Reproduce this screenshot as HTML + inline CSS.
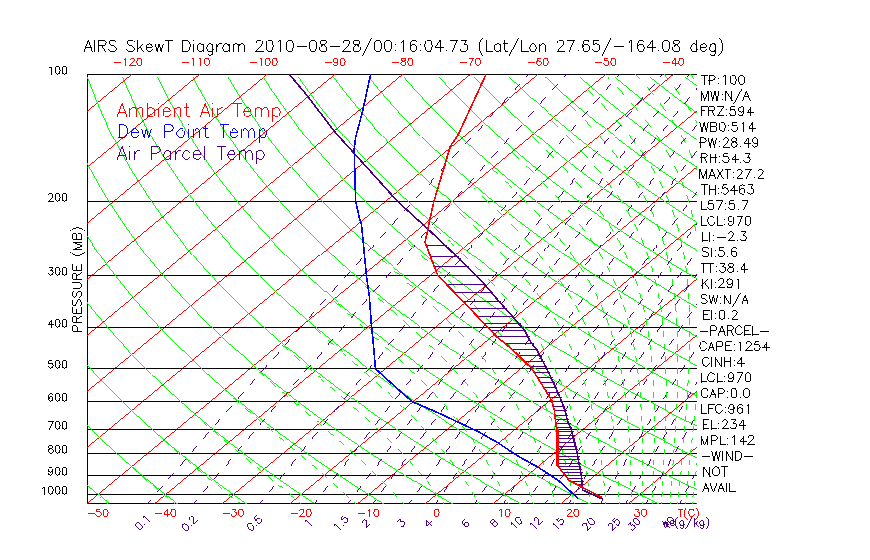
<!DOCTYPE html>
<html><head><meta charset="utf-8"><title>AIRS SkewT Diagram</title>
<style>html,body{margin:0;padding:0;background:#fff;}body{width:870px;height:560px;overflow:hidden;position:relative;font-family:"Liberation Sans",sans-serif;}</style>
</head><body>
<svg width="870" height="560" viewBox="0 0 870 560" style="position:absolute;left:0;top:0">
<defs><clipPath id="c"><rect x="87.0" y="74.0" width="610.0" height="430.0"/></clipPath></defs>
<rect width="870" height="560" fill="#fff"/>
<g clip-path="url(#c)" fill="none" stroke-width="0.99" shape-rendering="crispEdges">
<path d="M87.5 74.5 L697.0 74.5 M87.5 503.5 L697.0 503.5 M87.5 74.0 L87.5 504.0" stroke="#000"/>
<path d="M-456.8 505.4 L66.0 72.8 M-389.1 505.4 L133.7 72.8 M-321.4 505.4 L201.4 72.8 M-253.7 505.4 L269.1 72.8 M-186.0 505.4 L336.8 72.8 M-118.3 505.4 L404.5 72.8 M-50.6 505.4 L472.2 72.8 M17.1 505.4 L539.9 72.8 M84.8 505.4 L607.6 72.8 M152.5 505.4 L675.3 72.8 M220.2 505.4 L743.0 72.8 M287.9 505.4 L810.7 72.8 M355.6 505.4 L878.4 72.8 M423.3 505.4 L946.1 72.8 M491.0 505.4 L1013.8 72.8 M558.7 505.4 L1081.5 72.8 M626.4 505.4 L1149.2 72.8 M694.1 505.4 L1216.9 72.8" stroke="#ff0000"/>
<path d="M87.5 201.5 L697.0 201.5 M87.5 275.5 L697.0 275.5 M87.5 327.5 L697.0 327.5 M87.5 368.5 L697.0 368.5 M87.5 401.5 L697.0 401.5 M87.5 429.5 L697.0 429.5 M87.5 453.5 L697.0 453.5 M87.5 475.5 L697.0 475.5 M87.5 494.5 L697.0 494.5" stroke="#000"/>
<path d="M110.5 505.2 L96.5 493.3 L83.0 481.4 L70.0 469.5 L57.5 457.6 L45.5 445.7 L34.0 433.8 L23.0 421.9 L12.4 410.0 L2.4 398.1 L-7.3 386.2 L-16.5 374.3 L-25.2 362.4 L-33.6 350.5 L-41.5 338.6 L-49.0 326.7 L-56.1 314.9 L-62.8 303.0 L-69.1 291.1 L-75.0 279.2 L-80.5 267.3 L-85.7 255.4 L-90.5 243.5 L-95.0 231.6 L-99.1 219.7 L-102.9 207.8 L-106.3 195.9 L-109.4 184.0 L-112.2 172.1 L-114.7 160.2 L-116.9 148.3 L-118.7 136.4 L-120.3 124.5 L-121.5 112.7 L-122.5 100.8 L-123.2 88.9 L-123.6 77.0 M179.3 505.2 L164.0 493.3 L149.3 481.4 L135.1 469.5 L121.4 457.6 L108.2 445.7 L95.6 433.8 L83.4 421.9 L71.7 410.0 L60.5 398.1 L49.8 386.2 L39.6 374.3 L29.8 362.4 L20.4 350.5 L11.5 338.6 L3.1 326.7 L-5.0 314.9 L-12.6 303.0 L-19.9 291.1 L-26.7 279.2 L-33.1 267.3 L-39.2 255.4 L-44.9 243.5 L-50.2 231.6 L-55.1 219.7 L-59.7 207.8 L-64.0 195.9 L-67.9 184.0 L-71.4 172.1 L-74.6 160.2 L-77.5 148.3 L-80.1 136.4 L-82.4 124.5 L-84.3 112.7 L-86.0 100.8 L-87.3 88.9 L-88.4 77.0 M248.2 505.2 L231.6 493.3 L215.6 481.4 L200.2 469.5 L185.3 457.6 L170.9 445.7 L157.1 433.8 L143.8 421.9 L131.0 410.0 L118.7 398.1 L107.0 386.2 L95.6 374.3 L84.8 362.4 L74.5 350.5 L64.5 338.6 L55.1 326.7 L46.1 314.9 L37.5 303.0 L29.3 291.1 L21.6 279.2 L14.2 267.3 L7.3 255.4 L0.8 243.5 L-5.4 231.6 L-11.2 219.7 L-16.6 207.8 L-21.6 195.9 L-26.3 184.0 L-30.6 172.1 L-34.6 160.2 L-38.2 148.3 L-41.5 136.4 L-44.5 124.5 L-47.1 112.7 L-49.5 100.8 L-51.5 88.9 L-53.3 77.0 M317.0 505.2 L299.2 493.3 L281.9 481.4 L265.2 469.5 L249.2 457.6 L233.6 445.7 L218.7 433.8 L204.2 421.9 L190.3 410.0 L176.9 398.1 L164.1 386.2 L151.7 374.3 L139.8 362.4 L128.5 350.5 L117.6 338.6 L107.1 326.7 L97.1 314.9 L87.6 303.0 L78.5 291.1 L69.9 279.2 L61.6 267.3 L53.8 255.4 L46.4 243.5 L39.4 231.6 L32.8 219.7 L26.6 207.8 L20.8 195.9 L15.3 184.0 L10.2 172.1 L5.5 160.2 L1.1 148.3 L-2.9 136.4 L-6.6 124.5 L-10.0 112.7 L-13.0 100.8 L-15.7 88.9 L-18.1 77.0 M385.8 505.2 L366.7 493.3 L348.2 481.4 L330.3 469.5 L313.0 457.6 L296.3 445.7 L280.2 433.8 L264.6 421.9 L249.6 410.0 L235.1 398.1 L221.2 386.2 L207.8 374.3 L194.9 362.4 L182.5 350.5 L170.6 338.6 L159.1 326.7 L148.2 314.9 L137.7 303.0 L127.7 291.1 L118.2 279.2 L109.0 267.3 L100.4 255.4 L92.1 243.5 L84.2 231.6 L76.8 219.7 L69.8 207.8 L63.2 195.9 L56.9 184.0 L51.1 172.1 L45.6 160.2 L40.4 148.3 L35.7 136.4 L31.3 124.5 L27.2 112.7 L23.5 100.8 L20.1 88.9 L17.1 77.0 M454.7 505.2 L434.3 493.3 L414.5 481.4 L395.4 469.5 L376.9 457.6 L359.0 445.7 L341.7 433.8 L325.0 421.9 L308.9 410.0 L293.3 398.1 L278.3 386.2 L263.8 374.3 L249.9 362.4 L236.5 350.5 L223.6 338.6 L211.2 326.7 L199.3 314.9 L187.9 303.0 L176.9 291.1 L166.4 279.2 L156.4 267.3 L146.9 255.4 L137.7 243.5 L129.1 231.6 L120.8 219.7 L113.0 207.8 L105.5 195.9 L98.5 184.0 L91.9 172.1 L85.6 160.2 L79.8 148.3 L74.3 136.4 L69.2 124.5 L64.4 112.7 L60.0 100.8 L55.9 88.9 L52.2 77.0 M523.5 505.2 L501.9 493.3 L480.9 481.4 L460.5 469.5 L440.8 457.6 L421.7 445.7 L403.3 433.8 L385.4 421.9 L368.2 410.0 L351.5 398.1 L335.4 386.2 L319.9 374.3 L304.9 362.4 L290.5 350.5 L276.6 338.6 L263.2 326.7 L250.3 314.9 L238.0 303.0 L226.1 291.1 L214.7 279.2 L203.8 267.3 L193.4 255.4 L183.4 243.5 L173.9 231.6 L164.8 219.7 L156.1 207.8 L147.9 195.9 L140.1 184.0 L132.7 172.1 L125.7 160.2 L119.1 148.3 L112.9 136.4 L107.0 124.5 L101.6 112.7 L96.5 100.8 L91.8 88.9 L87.4 77.0 M592.4 505.2 L569.4 493.3 L547.2 481.4 L525.6 469.5 L504.7 457.6 L484.4 445.7 L464.8 433.8 L445.8 421.9 L427.5 410.0 L409.7 398.1 L392.5 386.2 L376.0 374.3 L359.9 362.4 L344.5 350.5 L329.6 338.6 L315.2 326.7 L301.4 314.9 L288.1 303.0 L275.3 291.1 L263.0 279.2 L251.2 267.3 L239.9 255.4 L229.1 243.5 L218.7 231.6 L208.8 219.7 L199.3 207.8 L190.3 195.9 L181.7 184.0 L173.5 172.1 L165.8 160.2 L158.4 148.3 L151.5 136.4 L144.9 124.5 L138.8 112.7 L133.0 100.8 L127.6 88.9 L122.5 77.0 M661.2 505.2 L637.0 493.3 L613.5 481.4 L590.7 469.5 L568.6 457.6 L547.2 445.7 L526.4 433.8 L506.3 421.9 L486.8 410.0 L467.9 398.1 L449.7 386.2 L432.0 374.3 L415.0 362.4 L398.5 350.5 L382.6 338.6 L367.3 326.7 L352.5 314.9 L338.2 303.0 L324.5 291.1 L311.3 279.2 L298.6 267.3 L286.4 255.4 L274.7 243.5 L263.5 231.6 L252.8 219.7 L242.5 207.8 L232.7 195.9 L223.3 184.0 L214.3 172.1 L205.8 160.2 L197.7 148.3 L190.1 136.4 L182.8 124.5 L176.0 112.7 L169.5 100.8 L163.4 88.9 L157.7 77.0 M730.0 505.2 L704.6 493.3 L679.8 481.4 L655.8 469.5 L632.5 457.6 L609.9 445.7 L587.9 433.8 L566.7 421.9 L546.1 410.0 L526.1 398.1 L506.8 386.2 L488.1 374.3 L470.0 362.4 L452.5 350.5 L435.6 338.6 L419.3 326.7 L403.5 314.9 L388.4 303.0 L373.7 291.1 L359.6 279.2 L346.0 267.3 L332.9 255.4 L320.4 243.5 L308.3 231.6 L296.7 219.7 L285.6 207.8 L275.0 195.9 L264.9 184.0 L255.2 172.1 L245.9 160.2 L237.1 148.3 L228.7 136.4 L220.7 124.5 L213.1 112.7 L206.0 100.8 L199.2 88.9 L192.9 77.0 M798.9 505.2 L772.1 493.3 L746.1 481.4 L720.9 469.5 L696.4 457.6 L672.6 445.7 L649.5 433.8 L627.1 421.9 L605.3 410.0 L584.3 398.1 L563.9 386.2 L544.1 374.3 L525.0 362.4 L506.5 350.5 L488.6 338.6 L471.3 326.7 L454.6 314.9 L438.5 303.0 L422.9 291.1 L407.9 279.2 L393.4 267.3 L379.5 255.4 L366.0 243.5 L353.1 231.6 L340.7 219.7 L328.8 207.8 L317.4 195.9 L306.5 184.0 L296.0 172.1 L286.0 160.2 L276.4 148.3 L267.3 136.4 L258.6 124.5 L250.3 112.7 L242.5 100.8 L235.0 88.9 L228.0 77.0 M867.7 505.2 L839.7 493.3 L812.4 481.4 L786.0 469.5 L760.2 457.6 L735.3 445.7 L711.0 433.8 L687.5 421.9 L664.6 410.0 L642.5 398.1 L621.0 386.2 L600.2 374.3 L580.0 362.4 L560.5 350.5 L541.6 338.6 L523.4 326.7 L505.7 314.9 L488.6 303.0 L472.1 291.1 L456.2 279.2 L440.8 267.3 L426.0 255.4 L411.7 243.5 L397.9 231.6 L384.7 219.7 L372.0 207.8 L359.8 195.9 L348.0 184.0 L336.8 172.1 L326.0 160.2 L315.7 148.3 L305.9 136.4 L296.5 124.5 L287.5 112.7 L279.0 100.8 L270.9 88.9 L263.2 77.0 M936.6 505.2 L907.2 493.3 L878.8 481.4 L851.1 469.5 L824.1 457.6 L798.0 445.7 L772.6 433.8 L747.9 421.9 L723.9 410.0 L700.7 398.1 L678.1 386.2 L656.3 374.3 L635.1 362.4 L614.5 350.5 L594.6 338.6 L575.4 326.7 L556.7 314.9 L538.7 303.0 L521.3 291.1 L504.5 279.2 L488.2 267.3 L472.5 255.4 L457.4 243.5 L442.8 231.6 L428.7 219.7 L415.2 207.8 L402.1 195.9 L389.6 184.0 L377.6 172.1 L366.1 160.2 L355.0 148.3 L344.5 136.4 L334.4 124.5 L324.7 112.7 L315.5 100.8 L306.7 88.9 L298.3 77.0 M1005.4 505.2 L974.8 493.3 L945.1 481.4 L916.1 469.5 L888.0 457.6 L860.7 445.7 L834.1 433.8 L808.3 421.9 L783.2 410.0 L758.9 398.1 L735.3 386.2 L712.3 374.3 L690.1 362.4 L668.5 350.5 L647.7 338.6 L627.4 326.7 L607.8 314.9 L588.8 303.0 L570.5 291.1 L552.7 279.2 L535.6 267.3 L519.0 255.4 L503.0 243.5 L487.6 231.6 L472.7 219.7 L458.3 207.8 L444.5 195.9 L431.2 184.0 L418.4 172.1 L406.2 160.2 L394.4 148.3 L383.1 136.4 L372.2 124.5 L361.9 112.7 L352.0 100.8 L342.5 88.9 L333.5 77.0 M1074.2 505.2 L1042.4 493.3 L1011.4 481.4 L981.2 469.5 L951.9 457.6 L923.4 445.7 L895.6 433.8 L868.7 421.9 L842.5 410.0 L817.1 398.1 L792.4 386.2 L768.4 374.3 L745.1 362.4 L722.6 350.5 L700.7 338.6 L679.4 326.7 L658.9 314.9 L639.0 303.0 L619.7 291.1 L601.0 279.2 L583.0 267.3 L565.5 255.4 L548.7 243.5 L532.4 231.6 L516.7 219.7 L501.5 207.8 L486.9 195.9 L472.8 184.0 L459.3 172.1 L446.2 160.2 L433.7 148.3 L421.7 136.4 L410.1 124.5 L399.1 112.7 L388.5 100.8 L378.3 88.9 L368.7 77.0 M1143.1 505.2 L1109.9 493.3 L1077.7 481.4 L1046.3 469.5 L1015.8 457.6 L986.1 445.7 L957.2 433.8 L929.1 421.9 L901.8 410.0 L875.3 398.1 L849.5 386.2 L824.5 374.3 L800.2 362.4 L776.6 350.5 L753.7 338.6 L731.5 326.7 L709.9 314.9 L689.1 303.0 L668.9 291.1 L649.3 279.2 L630.4 267.3 L612.0 255.4 L594.3 243.5 L577.2 231.6 L560.7 219.7 L544.7 207.8 L529.3 195.9 L514.4 184.0 L500.1 172.1 L486.3 160.2 L473.0 148.3 L460.3 136.4 L448.0 124.5 L436.2 112.7 L425.0 100.8 L414.2 88.9 L403.8 77.0 M1211.9 505.2 L1177.5 493.3 L1144.0 481.4 L1111.4 469.5 L1079.7 457.6 L1048.8 445.7 L1018.7 433.8 L989.5 421.9 L961.1 410.0 L933.5 398.1 L906.6 386.2 L880.5 374.3 L855.2 362.4 L830.6 350.5 L806.7 338.6 L783.5 326.7 L761.0 314.9 L739.2 303.0 L718.1 291.1 L697.6 279.2 L677.8 267.3 L658.6 255.4 L640.0 243.5 L622.0 231.6 L604.6 219.7 L587.9 207.8 L571.6 195.9 L556.0 184.0 L540.9 172.1 L526.4 160.2 L512.4 148.3 L498.9 136.4 L485.9 124.5 L473.4 112.7 L461.5 100.8 L450.0 88.9 L439.0 77.0 M1280.7 505.2 L1245.1 493.3 L1210.3 481.4 L1176.5 469.5 L1143.6 457.6 L1111.5 445.7 L1080.3 433.8 L1049.9 421.9 L1020.4 410.0 L991.7 398.1 L963.7 386.2 L936.6 374.3 L910.2 362.4 L884.6 350.5 L859.7 338.6 L835.5 326.7 L812.1 314.9 L789.3 303.0 L767.3 291.1 L745.9 279.2 L725.2 267.3 L705.1 255.4 L685.6 243.5 L666.8 231.6 L648.6 219.7 L631.0 207.8 L614.0 195.9 L597.6 184.0 L581.7 172.1 L566.4 160.2 L551.7 148.3 L537.5 136.4 L523.8 124.5 L510.6 112.7 L498.0 100.8 L485.8 88.9 L474.1 77.0 M1349.6 505.2 L1312.6 493.3 L1276.6 481.4 L1241.6 469.5 L1207.4 457.6 L1174.2 445.7 L1141.8 433.8 L1110.3 421.9 L1079.7 410.0 L1049.9 398.1 L1020.8 386.2 L992.6 374.3 L965.2 362.4 L938.6 350.5 L912.7 338.6 L887.6 326.7 L863.2 314.9 L839.5 303.0 L816.5 291.1 L794.2 279.2 L772.6 267.3 L751.6 255.4 L731.3 243.5 L711.6 231.6 L692.6 219.7 L674.2 207.8 L656.4 195.9 L639.2 184.0 L622.5 172.1 L606.5 160.2 L591.0 148.3 L576.1 136.4 L561.7 124.5 L547.8 112.7 L534.5 100.8 L521.6 88.9 L509.3 77.0 M1418.4 505.2 L1380.2 493.3 L1343.0 481.4 L1306.7 469.5 L1271.3 457.6 L1236.9 445.7 L1203.4 433.8 L1170.7 421.9 L1139.0 410.0 L1108.0 398.1 L1078.0 386.2 L1048.7 374.3 L1020.3 362.4 L992.6 350.5 L965.7 338.6 L939.6 326.7 L914.2 314.9 L889.6 303.0 L865.7 291.1 L842.5 279.2 L819.9 267.3 L798.1 255.4 L777.0 243.5 L756.5 231.6 L736.6 219.7 L717.4 207.8 L698.8 195.9 L680.8 184.0 L663.4 172.1 L646.6 160.2 L630.3 148.3 L614.7 136.4 L599.5 124.5 L585.0 112.7 L571.0 100.8 L557.4 88.9 L544.5 77.0 M1487.3 505.2 L1447.8 493.3 L1409.3 481.4 L1371.8 469.5 L1335.2 457.6 L1299.6 445.7 L1264.9 433.8 L1231.1 421.9 L1198.3 410.0 L1166.2 398.1 L1135.1 386.2 L1104.8 374.3 L1075.3 362.4 L1046.6 350.5 L1018.7 338.6 L991.6 326.7 L965.3 314.9 L939.7 303.0 L914.9 291.1 L890.7 279.2 L867.3 267.3 L844.6 255.4 L822.6 243.5 L801.3 231.6 L780.6 219.7 L760.5 207.8 L741.1 195.9 L722.4 184.0 L704.2 172.1 L686.6 160.2 L669.7 148.3 L653.3 136.4 L637.4 124.5 L622.2 112.7 L607.4 100.8 L593.3 88.9 L579.6 77.0 M1556.1 505.2 L1515.3 493.3 L1475.6 481.4 L1436.9 469.5 L1399.1 457.6 L1362.3 445.7 L1326.5 433.8 L1291.6 421.9 L1257.5 410.0 L1224.4 398.1 L1192.2 386.2 L1160.8 374.3 L1130.3 362.4 L1100.6 350.5 L1071.7 338.6 L1043.6 326.7 L1016.4 314.9 L989.8 303.0 L964.1 291.1 L939.0 279.2 L914.7 267.3 L891.2 255.4 L868.3 243.5 L846.1 231.6 L824.6 219.7 L803.7 207.8 L783.5 195.9 L763.9 184.0 L745.0 172.1 L726.7 160.2 L709.0 148.3 L691.9 136.4 L675.3 124.5 L659.4 112.7 L643.9 100.8 L629.1 88.9 L614.8 77.0 M1624.9 505.2 L1582.9 493.3 L1541.9 481.4 L1501.9 469.5 L1463.0 457.6 L1425.0 445.7 L1388.0 433.8 L1352.0 421.9 L1316.8 410.0 L1282.6 398.1 L1249.3 386.2 L1216.9 374.3 L1185.3 362.4 L1154.6 350.5 L1124.7 338.6 L1095.7 326.7 L1067.4 314.9 L1040.0 303.0 L1013.3 291.1 L987.3 279.2 L962.1 267.3 L937.7 255.4 L913.9 243.5 L890.9 231.6 L868.5 219.7 L846.9 207.8 L825.9 195.9 L805.5 184.0 L785.8 172.1 L766.8 160.2 L748.3 148.3 L730.5 136.4 L713.2 124.5 L696.5 112.7 L680.4 100.8 L664.9 88.9 L649.9 77.0 M1693.8 505.2 L1650.5 493.3 L1608.2 481.4 L1567.0 469.5 L1526.9 457.6 L1487.7 445.7 L1449.6 433.8 L1412.4 421.9 L1376.1 410.0 L1340.8 398.1 L1306.4 386.2 L1273.0 374.3 L1240.4 362.4 L1208.6 350.5 L1177.7 338.6 L1147.7 326.7 L1118.5 314.9 L1090.1 303.0 L1062.5 291.1 L1035.6 279.2 L1009.5 267.3 L984.2 255.4 L959.6 243.5 L935.7 231.6 L912.5 219.7 L890.1 207.8 L868.3 195.9 L847.1 184.0 L826.7 172.1 L806.8 160.2 L787.6 148.3 L769.1 136.4 L751.1 124.5 L733.7 112.7 L716.9 100.8 L700.7 88.9 L685.1 77.0 M1762.6 505.2 L1718.0 493.3 L1674.5 481.4 L1632.1 469.5 L1590.8 457.6 L1550.4 445.7 L1511.1 433.8 L1472.8 421.9 L1435.4 410.0 L1399.0 398.1 L1363.6 386.2 L1329.0 374.3 L1295.4 362.4 L1262.6 350.5 L1230.8 338.6 L1199.7 326.7 L1169.6 314.9 L1140.2 303.0 L1111.6 291.1 L1083.9 279.2 L1056.9 267.3 L1030.7 255.4 L1005.2 243.5 L980.5 231.6 L956.5 219.7 L933.2 207.8 L910.6 195.9 L888.7 184.0 L867.5 172.1 L846.9 160.2 L827.0 148.3 L807.7 136.4 L789.0 124.5 L770.9 112.7 L753.4 100.8 L736.6 88.9 L720.3 77.0 M1831.4 505.2 L1785.6 493.3 L1740.9 481.4 L1697.2 469.5 L1654.6 457.6 L1613.1 445.7 L1572.6 433.8 L1533.2 421.9 L1494.7 410.0 L1457.2 398.1 L1420.7 386.2 L1385.1 374.3 L1350.4 362.4 L1316.6 350.5 L1283.8 338.6 L1251.8 326.7 L1220.6 314.9 L1190.3 303.0 L1160.8 291.1 L1132.2 279.2 L1104.3 267.3 L1077.2 255.4 L1050.9 243.5 L1025.3 231.6 L1000.5 219.7 L976.4 207.8 L953.0 195.9 L930.3 184.0 L908.3 172.1 L887.0 160.2 L866.3 148.3 L846.2 136.4 L826.9 124.5 L808.1 112.7 L789.9 100.8 L772.4 88.9 L755.4 77.0" stroke="#00ff00"/>
<path d="M146.1 505.2 L148.6 502.2 L150.7 499.7 M157.1 492.3 L159.6 489.3 L162.2 486.3 M168.6 478.9 L171.1 475.9 L173.7 472.9 M180.1 465.5 L182.6 462.5 L185.2 459.6 L185.6 459.1 M191.6 452.1 L194.2 449.2 L196.7 446.2 L197.2 445.7 M203.1 438.7 L205.7 435.8 L208.3 432.8 L208.7 432.3 M214.7 425.4 L217.3 422.4 L219.9 419.4 L220.3 418.9 M226.4 412.0 L228.9 409.0 L231.5 406.0 L232.0 405.5 M238.0 398.6 L240.6 395.6 L243.2 392.7 L243.6 392.2 M249.7 385.2 L252.3 382.2 L254.9 379.3 L255.3 378.8 M261.4 371.8 L264.0 368.9 L266.6 365.9 L267.1 365.4 M273.1 358.5 L275.8 355.5 L278.4 352.5 L278.8 352.0 M284.9 345.1 L287.5 342.1 L290.2 339.1 L290.6 338.6 M296.7 331.7 L299.3 328.7 L302.0 325.8 L302.4 325.3 M308.5 318.3 L311.2 315.3 L313.8 312.4 L314.3 311.9 M320.4 304.9 L323.0 302.0 L325.7 299.0 L326.1 298.5 M332.3 291.6 L334.9 288.6 L337.6 285.6 L338.0 285.1 M344.2 278.2 L346.9 275.2 L349.5 272.2 L350.0 271.7 M356.1 264.8 L358.8 261.8 L361.5 258.9 L361.9 258.4 M368.1 251.4 L370.8 248.4 L373.4 245.5 L373.9 245.0 M380.1 238.0 L382.8 235.1 L385.5 232.1 L385.9 231.6 M392.1 224.7 L394.8 221.7 L397.5 218.7 L397.9 218.2 M404.2 211.3 L406.9 208.3 L409.5 205.3 L410.0 204.8 M416.3 197.9 L418.9 194.9 L421.6 191.9 L422.1 191.5 M428.4 184.5 L431.1 181.5 L433.7 178.6 L434.2 178.1 M440.5 171.1 L443.2 168.2 L445.9 165.2 L446.3 164.7 M452.6 157.8 L455.3 154.8 L458.1 151.8 L458.5 151.3 M465.3 143.9 L468.0 140.9 L470.7 137.9 M477.5 130.5 L480.2 127.5 L482.9 124.5 M489.7 117.1 L492.4 114.1 L495.2 111.2 L495.6 110.7 M502.0 103.7 L504.7 100.8 L507.4 97.8 L507.9 97.3 M514.2 90.4 L517.0 87.4 L519.7 84.4 L520.2 83.9 M526.5 77.0 L529.3 74.0 L530.2 73.0 M192.5 505.2 L195.0 502.2 L197.0 499.7 M203.2 492.3 L205.7 489.3 L208.1 486.3 M214.3 478.9 L216.8 475.9 L219.3 472.9 M225.5 465.5 L228.0 462.5 L230.5 459.6 L230.9 459.1 M236.7 452.1 L239.2 449.2 L241.7 446.2 L242.1 445.7 M248.0 438.7 L250.5 435.8 L253.0 432.8 L253.4 432.3 M259.3 425.4 L261.8 422.4 L264.3 419.4 L264.7 418.9 M270.6 412.0 L273.1 409.0 L275.6 406.0 L276.0 405.5 M281.9 398.6 L284.4 395.6 L287.0 392.7 L287.4 392.2 M293.3 385.2 L295.8 382.2 L298.4 379.3 L298.8 378.8 M304.7 371.8 L307.3 368.9 L309.8 365.9 L310.2 365.4 M316.2 358.5 L318.7 355.5 L321.3 352.5 L321.7 352.0 M327.6 345.1 L330.2 342.1 L332.8 339.1 L333.2 338.6 M339.2 331.7 L341.7 328.7 L344.3 325.8 L344.7 325.3 M350.7 318.3 L353.3 315.3 L355.8 312.4 L356.3 311.9 M362.3 304.9 L364.9 302.0 L367.4 299.0 L367.9 298.5 M373.9 291.6 L376.5 288.6 L379.1 285.6 L379.5 285.1 M385.5 278.2 L388.1 275.2 L390.7 272.2 L391.1 271.7 M397.2 264.8 L399.8 261.8 L402.4 258.9 L402.8 258.4 M408.9 251.4 L411.5 248.4 L414.1 245.5 L414.5 245.0 M420.6 238.0 L423.2 235.1 L425.8 232.1 L426.3 231.6 M432.4 224.7 L435.0 221.7 L437.6 218.7 L438.1 218.2 M444.2 211.3 L446.8 208.3 L449.4 205.3 L449.9 204.8 M456.0 197.9 L458.6 194.9 L461.2 191.9 L461.7 191.5 M467.8 184.5 L470.5 181.5 L473.1 178.6 L473.5 178.1 M479.7 171.1 L482.3 168.2 L485.0 165.2 L485.4 164.7 M491.6 157.8 L494.3 154.8 L496.9 151.8 L497.3 151.3 M504.0 143.9 L506.6 140.9 L509.3 137.9 M515.9 130.5 L518.6 127.5 L521.3 124.5 M527.9 117.1 L530.6 114.1 L533.3 111.2 L533.7 110.7 M539.9 103.7 L542.6 100.8 L545.3 97.8 L545.7 97.3 M552.0 90.4 L554.7 87.4 L557.3 84.4 L557.8 83.9 M564.0 77.0 L566.7 74.0 L567.6 73.0 M258.8 505.2 L261.2 502.2 L263.2 499.7 M269.1 492.3 L271.4 489.3 L273.8 486.3 M279.7 478.9 L282.1 475.9 L284.5 472.9 M290.4 465.5 L292.8 462.5 L295.2 459.6 L295.6 459.1 M301.2 452.1 L303.6 449.2 L306.0 446.2 L306.4 445.7 M312.0 438.7 L314.4 435.8 L316.8 432.8 L317.2 432.3 M322.8 425.4 L325.2 422.4 L327.6 419.4 L328.0 418.9 M333.7 412.0 L336.1 409.0 L338.5 406.0 L338.9 405.5 M344.6 398.6 L347.0 395.6 L349.4 392.7 L349.8 392.2 M355.5 385.2 L357.9 382.2 L360.4 379.3 L360.8 378.8 M366.5 371.8 L368.9 368.9 L371.4 365.9 L371.8 365.4 M377.5 358.5 L379.9 355.5 L382.4 352.5 L382.8 352.0 M388.5 345.1 L391.0 342.1 L393.5 339.1 L393.9 338.6 M399.6 331.7 L402.1 328.7 L404.6 325.8 L405.0 325.3 M410.8 318.3 L413.2 315.3 L415.7 312.4 L416.1 311.9 M421.9 304.9 L424.4 302.0 L426.9 299.0 L427.3 298.5 M433.1 291.6 L435.6 288.6 L438.1 285.6 L438.5 285.1 M444.3 278.2 L446.8 275.2 L449.4 272.2 L449.8 271.7 M455.6 264.8 L458.1 261.8 L460.6 258.9 L461.1 258.4 M466.9 251.4 L469.4 248.4 L471.9 245.5 L472.4 245.0 M478.2 238.0 L480.8 235.1 L483.3 232.1 L483.7 231.6 M489.6 224.7 L492.1 221.7 L494.7 218.7 L495.1 218.2 M501.0 211.3 L503.6 208.3 L506.1 205.3 L506.5 204.8 M512.5 197.9 L515.0 194.9 L517.5 191.9 L518.0 191.5 M523.9 184.5 L526.5 181.5 L529.0 178.6 L529.4 178.1 M535.4 171.1 L538.0 168.2 L540.5 165.2 L541.0 164.7 M546.9 157.8 L549.5 154.8 L552.1 151.8 L552.5 151.3 M558.9 143.9 L561.5 140.9 L564.1 137.9 M570.5 130.5 L573.1 127.5 L575.7 124.5 M582.2 117.1 L584.7 114.1 L587.3 111.2 L587.8 110.7 M593.8 103.7 L596.4 100.8 L599.0 97.8 L599.4 97.3 M605.5 90.4 L608.1 87.4 L610.7 84.4 L611.1 83.9 M617.2 77.0 L619.8 74.0 L620.7 73.0 M313.2 505.2 L315.5 502.2 L317.4 499.7 M323.1 492.3 L325.3 489.3 L327.6 486.3 M333.3 478.9 L335.6 475.9 L337.9 472.9 M343.6 465.5 L345.9 462.5 L348.2 459.6 L348.6 459.1 M354.0 452.1 L356.3 449.2 L358.6 446.2 L359.0 445.7 M364.4 438.7 L366.7 435.8 L369.0 432.8 L369.4 432.3 M374.8 425.4 L377.1 422.4 L379.5 419.4 L379.8 418.9 M385.3 412.0 L387.6 409.0 L390.0 406.0 L390.3 405.5 M395.8 398.6 L398.2 395.6 L400.5 392.7 L400.9 392.2 M406.4 385.2 L408.7 382.2 L411.1 379.3 L411.5 378.8 M417.0 371.8 L419.3 368.9 L421.7 365.9 L422.1 365.4 M427.6 358.5 L430.0 355.5 L432.4 352.5 L432.8 352.0 M438.3 345.1 L440.7 342.1 L443.1 339.1 L443.5 338.6 M449.0 331.7 L451.4 328.7 L453.8 325.8 L454.2 325.3 M459.8 318.3 L462.2 315.3 L464.6 312.4 L465.0 311.9 M470.6 304.9 L473.0 302.0 L475.4 299.0 L475.8 298.5 M481.5 291.6 L483.9 288.6 L486.3 285.6 L486.7 285.1 M492.4 278.2 L494.8 275.2 L497.2 272.2 L497.6 271.7 M503.3 264.8 L505.7 261.8 L508.1 258.9 L508.6 258.4 M514.2 251.4 L516.7 248.4 L519.1 245.5 L519.5 245.0 M525.2 238.0 L527.7 235.1 L530.1 232.1 L530.6 231.6 M536.3 224.7 L538.7 221.7 L541.2 218.7 L541.6 218.2 M547.4 211.3 L549.8 208.3 L552.3 205.3 L552.7 204.8 M558.5 197.9 L560.9 194.9 L563.4 191.9 L563.8 191.5 M569.6 184.5 L572.1 181.5 L574.6 178.6 L575.0 178.1 M580.8 171.1 L583.3 168.2 L585.8 165.2 L586.2 164.7 M592.0 157.8 L594.5 154.8 L597.0 151.8 L597.4 151.3 M603.7 143.9 L606.2 140.9 L608.7 137.9 M615.0 130.5 L617.5 127.5 L620.0 124.5 M626.3 117.1 L628.8 114.1 L631.3 111.2 L631.7 110.7 M637.6 103.7 L640.2 100.8 L642.7 97.8 L643.1 97.3 M649.0 90.4 L651.6 87.4 L654.1 84.4 L654.5 83.9 M660.4 77.0 L663.0 74.0 L663.8 73.0 M346.9 505.2 L349.1 502.2 L351.0 499.7 M356.5 492.3 L358.7 489.3 L360.9 486.3 M366.5 478.9 L368.7 475.9 L371.0 472.9 M376.5 465.5 L378.8 462.5 L381.0 459.6 L381.4 459.1 M386.6 452.1 L388.9 449.2 L391.1 446.2 L391.5 445.7 M396.8 438.7 L399.0 435.8 L401.3 432.8 L401.7 432.3 M407.0 425.4 L409.2 422.4 L411.5 419.4 L411.9 418.9 M417.2 412.0 L419.5 409.0 L421.8 406.0 L422.1 405.5 M427.5 398.6 L429.8 395.6 L432.1 392.7 L432.4 392.2 M437.8 385.2 L440.1 382.2 L442.4 379.3 L442.8 378.8 M448.2 371.8 L450.5 368.9 L452.8 365.9 L453.2 365.4 M458.6 358.5 L460.9 355.5 L463.2 352.5 L463.6 352.0 M469.0 345.1 L471.4 342.1 L473.7 339.1 L474.1 338.6 M479.6 331.7 L481.9 328.7 L484.2 325.8 L484.6 325.3 M490.1 318.3 L492.4 315.3 L494.8 312.4 L495.2 311.9 M500.7 304.9 L503.0 302.0 L505.4 299.0 L505.8 298.5 M511.3 291.6 L513.7 288.6 L516.0 285.6 L516.4 285.1 M522.0 278.2 L524.3 275.2 L526.7 272.2 L527.1 271.7 M532.7 264.8 L535.1 261.8 L537.5 258.9 L537.9 258.4 M543.4 251.4 L545.8 248.4 L548.2 245.5 L548.6 245.0 M554.2 238.0 L556.6 235.1 L559.0 232.1 L559.4 231.6 M565.0 224.7 L567.5 221.7 L569.9 218.7 L570.3 218.2 M575.9 211.3 L578.3 208.3 L580.8 205.3 L581.2 204.8 M586.8 197.9 L589.2 194.9 L591.7 191.9 L592.1 191.5 M597.8 184.5 L600.2 181.5 L602.6 178.6 L603.0 178.1 M608.7 171.1 L611.2 168.2 L613.6 165.2 L614.0 164.7 M619.8 157.8 L622.2 154.8 L624.7 151.8 L625.1 151.3 M631.2 143.9 L633.7 140.9 L636.1 137.9 M642.3 130.5 L644.8 127.5 L647.3 124.5 M653.4 117.1 L655.9 114.1 L658.4 111.2 L658.8 110.7 M664.6 103.7 L667.1 100.8 L669.6 97.8 L670.0 97.3 M675.8 90.4 L678.3 87.4 L680.8 84.4 L681.2 83.9 M687.0 77.0 L689.5 74.0 L690.4 73.0 M371.7 505.2 L373.9 502.2 L375.7 499.7 M381.1 492.3 L383.3 489.3 L385.4 486.3 M390.9 478.9 L393.1 475.9 L395.3 472.9 M400.8 465.5 L402.9 462.5 L405.1 459.6 L405.5 459.1 M410.7 452.1 L412.9 449.2 L415.1 446.2 L415.4 445.7 M420.6 438.7 L422.8 435.8 L425.0 432.8 L425.4 432.3 M430.6 425.4 L432.8 422.4 L435.1 419.4 L435.4 418.9 M440.7 412.0 L442.9 409.0 L445.1 406.0 L445.5 405.5 M450.8 398.6 L453.0 395.6 L455.3 392.7 L455.6 392.2 M460.9 385.2 L463.2 382.2 L465.4 379.3 L465.8 378.8 M471.1 371.8 L473.4 368.9 L475.6 365.9 L476.0 365.4 M481.3 358.5 L483.6 355.5 L485.9 352.5 L486.3 352.0 M491.6 345.1 L493.9 342.1 L496.2 339.1 L496.6 338.6 M502.0 331.7 L504.3 328.7 L506.6 325.8 L506.9 325.3 M512.3 318.3 L514.6 315.3 L517.0 312.4 L517.3 311.9 M522.7 304.9 L525.1 302.0 L527.4 299.0 L527.8 298.5 M533.2 291.6 L535.5 288.6 L537.9 285.6 L538.3 285.1 M543.7 278.2 L546.1 275.2 L548.4 272.2 L548.8 271.7 M554.3 264.8 L556.6 261.8 L559.0 258.9 L559.4 258.4 M564.8 251.4 L567.2 248.4 L569.6 245.5 L570.0 245.0 M575.5 238.0 L577.8 235.1 L580.2 232.1 L580.6 231.6 M586.1 224.7 L588.5 221.7 L590.9 218.7 L591.3 218.2 M596.9 211.3 L599.2 208.3 L601.6 205.3 L602.0 204.8 M607.6 197.9 L610.0 194.9 L612.4 191.9 L612.8 191.5 M618.4 184.5 L620.8 181.5 L623.2 178.6 L623.6 178.1 M629.2 171.1 L631.6 168.2 L634.1 165.2 L634.5 164.7 M640.1 157.8 L642.5 154.8 L644.9 151.8 L645.4 151.3 M651.4 143.9 L653.8 140.9 L656.3 137.9 M662.4 130.5 L664.8 127.5 L667.2 124.5 M673.4 117.1 L675.8 114.1 L678.2 111.2 L678.7 110.7 M684.4 103.7 L686.8 100.8 L689.3 97.8 L689.7 97.3 M695.4 90.4 L697.9 87.4 L700.4 84.4 L700.8 83.9 M706.5 77.0 L709.0 74.0 L709.8 73.0 M407.9 505.2 L410.0 502.2 L411.8 499.7 M417.0 492.3 L419.2 489.3 L421.3 486.3 M426.6 478.9 L428.7 475.9 L430.8 472.9 M436.1 465.5 L438.3 462.5 L440.4 459.6 L440.8 459.1 M445.8 452.1 L447.9 449.2 L450.0 446.2 L450.4 445.7 M455.4 438.7 L457.6 435.8 L459.7 432.8 L460.1 432.3 M465.2 425.4 L467.3 422.4 L469.5 419.4 L469.9 418.9 M474.9 412.0 L477.1 409.0 L479.3 406.0 L479.7 405.5 M484.8 398.6 L487.0 395.6 L489.1 392.7 L489.5 392.2 M494.6 385.2 L496.8 382.2 L499.1 379.3 L499.4 378.8 M504.6 371.8 L506.8 368.9 L509.0 365.9 L509.4 365.4 M514.6 358.5 L516.8 355.5 L519.0 352.5 L519.4 352.0 M524.6 345.1 L526.8 342.1 L529.1 339.1 L529.4 338.6 M534.7 331.7 L536.9 328.7 L539.1 325.8 L539.5 325.3 M544.8 318.3 L547.0 315.3 L549.3 312.4 L549.7 311.9 M554.9 304.9 L557.2 302.0 L559.5 299.0 L559.9 298.5 M565.2 291.6 L567.4 288.6 L569.7 285.6 L570.1 285.1 M575.4 278.2 L577.7 275.2 L580.0 272.2 L580.4 271.7 M585.7 264.8 L588.0 261.8 L590.3 258.9 L590.7 258.4 M596.1 251.4 L598.4 248.4 L600.7 245.5 L601.1 245.0 M606.5 238.0 L608.8 235.1 L611.1 232.1 L611.5 231.6 M616.9 224.7 L619.2 221.7 L621.6 218.7 L622.0 218.2 M627.4 211.3 L629.7 208.3 L632.1 205.3 L632.5 204.8 M637.9 197.9 L640.3 194.9 L642.6 191.9 L643.0 191.5 M648.5 184.5 L650.8 181.5 L653.2 178.6 L653.6 178.1 M659.1 171.1 L661.5 168.2 L663.8 165.2 L664.2 164.7 M669.8 157.8 L672.1 154.8 L674.5 151.8 L674.9 151.3 M680.8 143.9 L683.2 140.9 L685.6 137.9 M691.6 130.5 L694.0 127.5 L696.4 124.5 M702.3 117.1 L704.7 114.1 L707.2 111.2 L707.6 110.7 M713.2 103.7 L715.6 100.8 L718.0 97.8 L718.4 97.3 M724.0 90.4 L726.4 87.4 L728.8 84.4 L729.3 83.9 M734.9 77.0 L737.3 74.0 L738.1 73.0 M434.6 505.2 L436.7 502.2 L438.4 499.7 M443.5 492.3 L445.6 489.3 L447.6 486.3 M452.8 478.9 L454.9 475.9 L457.0 472.9 M462.2 465.5 L464.3 462.5 L466.3 459.6 L466.7 459.1 M471.6 452.1 L473.7 449.2 L475.8 446.2 L476.1 445.7 M481.0 438.7 L483.2 435.8 L485.3 432.8 L485.6 432.3 M490.6 425.4 L492.7 422.4 L494.8 419.4 L495.2 418.9 M500.1 412.0 L502.3 409.0 L504.4 406.0 L504.8 405.5 M509.8 398.6 L511.9 395.6 L514.1 392.7 L514.4 392.2 M519.4 385.2 L521.6 382.2 L523.8 379.3 L524.1 378.8 M529.2 371.8 L531.3 368.9 L533.5 365.9 L533.9 365.4 M539.0 358.5 L541.1 355.5 L543.3 352.5 L543.7 352.0 M548.8 345.1 L551.0 342.1 L553.2 339.1 L553.5 338.6 M558.7 331.7 L560.9 328.7 L563.1 325.8 L563.5 325.3 M568.6 318.3 L570.8 315.3 L573.0 312.4 L573.4 311.9 M578.6 304.9 L580.8 302.0 L583.1 299.0 L583.4 298.5 M588.6 291.6 L590.9 288.6 L593.1 285.6 L593.5 285.1 M598.7 278.2 L601.0 275.2 L603.2 272.2 L603.6 271.7 M608.8 264.8 L611.1 261.8 L613.4 258.9 L613.7 258.4 M619.0 251.4 L621.3 248.4 L623.5 245.5 L623.9 245.0 M629.2 238.0 L631.5 235.1 L633.8 232.1 L634.2 231.6 M639.5 224.7 L641.8 221.7 L644.1 218.7 L644.5 218.2 M649.8 211.3 L652.1 208.3 L654.4 205.3 L654.8 204.8 M660.2 197.9 L662.5 194.9 L664.8 191.9 L665.2 191.5 M670.6 184.5 L672.9 181.5 L675.2 178.6 L675.6 178.1 M681.0 171.1 L683.3 168.2 L685.7 165.2 L686.1 164.7 M691.5 157.8 L693.8 154.8 L696.2 151.8 L696.6 151.3 M702.4 143.9 L704.8 140.9 L707.1 137.9 M713.0 130.5 L715.3 127.5 L717.7 124.5 M723.6 117.1 L726.0 114.1 L728.3 111.2 L728.7 110.7 M734.3 103.7 L736.6 100.8 L739.0 97.8 L739.4 97.3 M745.0 90.4 L747.3 87.4 L749.7 84.4 L750.1 83.9 M755.7 77.0 L758.1 74.0 L758.9 73.0 M473.6 505.2 L475.6 502.2 L477.3 499.7 M482.2 492.3 L484.2 489.3 L486.2 486.3 M491.2 478.9 L493.2 475.9 L495.2 472.9 M500.2 465.5 L502.2 462.5 L504.3 459.6 L504.6 459.1 M509.3 452.1 L511.3 449.2 L513.4 446.2 L513.7 445.7 M518.5 438.7 L520.5 435.8 L522.6 432.8 L522.9 432.3 M527.7 425.4 L529.7 422.4 L531.8 419.4 L532.1 418.9 M537.0 412.0 L539.0 409.0 L541.1 406.0 L541.4 405.5 M546.3 398.6 L548.4 395.6 L550.4 392.7 L550.8 392.2 M555.7 385.2 L557.8 382.2 L559.9 379.3 L560.2 378.8 M565.1 371.8 L567.2 368.9 L569.3 365.9 L569.7 365.4 M574.6 358.5 L576.7 355.5 L578.8 352.5 L579.2 352.0 M584.1 345.1 L586.3 342.1 L588.4 339.1 L588.8 338.6 M593.7 331.7 L595.9 328.7 L598.0 325.8 L598.4 325.3 M603.4 318.3 L605.6 315.3 L607.7 312.4 L608.1 311.9 M613.1 304.9 L615.3 302.0 L617.4 299.0 L617.8 298.5 M622.9 291.6 L625.0 288.6 L627.2 285.6 L627.6 285.1 M632.7 278.2 L634.9 275.2 L637.1 272.2 L637.4 271.7 M642.5 264.8 L644.7 261.8 L646.9 258.9 L647.3 258.4 M652.5 251.4 L654.7 248.4 L656.9 245.5 L657.2 245.0 M662.4 238.0 L664.6 235.1 L666.9 232.1 L667.2 231.6 M672.4 224.7 L674.7 221.7 L676.9 218.7 L677.3 218.2 M682.5 211.3 L684.7 208.3 L687.0 205.3 L687.3 204.8 M692.6 197.9 L694.8 194.9 L697.1 191.9 L697.5 191.5 M702.7 184.5 L705.0 181.5 L707.3 178.6 L707.6 178.1 M712.9 171.1 L715.2 168.2 L717.5 165.2 L717.9 164.7 M723.2 157.8 L725.5 154.8 L727.7 151.8 L728.1 151.3 M733.9 143.9 L736.1 140.9 L738.4 137.9 M744.2 130.5 L746.5 127.5 L748.8 124.5 M754.6 117.1 L756.9 114.1 L759.2 111.2 L759.6 110.7 M765.0 103.7 L767.3 100.8 L769.6 97.8 L770.0 97.3 M775.5 90.4 L777.8 87.4 L780.1 84.4 L780.5 83.9 M786.0 77.0 L788.3 74.0 L789.1 73.0 M502.3 505.2 L504.3 502.2 L505.9 499.7 M510.7 492.3 L512.6 489.3 L514.6 486.3 M519.4 478.9 L521.4 475.9 L523.3 472.9 M528.2 465.5 L530.2 462.5 L532.1 459.6 L532.5 459.1 M537.1 452.1 L539.1 449.2 L541.0 446.2 L541.4 445.7 M546.0 438.7 L548.0 435.8 L550.0 432.8 L550.3 432.3 M555.0 425.4 L557.0 422.4 L559.0 419.4 L559.3 418.9 M564.0 412.0 L566.0 409.0 L568.1 406.0 L568.4 405.5 M573.1 398.6 L575.2 395.6 L577.2 392.7 L577.5 392.2 M582.3 385.2 L584.3 382.2 L586.4 379.3 L586.7 378.8 M591.5 371.8 L593.6 368.9 L595.6 365.9 L596.0 365.4 M600.8 358.5 L602.8 355.5 L604.9 352.5 L605.3 352.0 M610.1 345.1 L612.2 342.1 L614.3 339.1 L614.6 338.6 M619.5 331.7 L621.6 328.7 L623.7 325.8 L624.0 325.3 M629.0 318.3 L631.1 315.3 L633.2 312.4 L633.5 311.9 M638.5 304.9 L640.6 302.0 L642.7 299.0 L643.0 298.5 M648.0 291.6 L650.1 288.6 L652.3 285.6 L652.6 285.1 M657.6 278.2 L659.8 275.2 L661.9 272.2 L662.3 271.7 M667.3 264.8 L669.4 261.8 L671.6 258.9 L671.9 258.4 M677.0 251.4 L679.2 248.4 L681.3 245.5 L681.7 245.0 M686.8 238.0 L688.9 235.1 L691.1 232.1 L691.5 231.6 M696.6 224.7 L698.8 221.7 L701.0 218.7 L701.3 218.2 M706.4 211.3 L708.6 208.3 L710.8 205.3 L711.2 204.8 M716.4 197.9 L718.6 194.9 L720.8 191.9 L721.2 191.5 M726.3 184.5 L728.5 181.5 L730.8 178.6 L731.1 178.1 M736.3 171.1 L738.6 168.2 L740.8 165.2 L741.2 164.7 M746.4 157.8 L748.6 154.8 L750.9 151.8 L751.3 151.3 M756.9 143.9 L759.1 140.9 L761.4 137.9 M767.0 130.5 L769.3 127.5 L771.6 124.5 M777.3 117.1 L779.5 114.1 L781.8 111.2 L782.2 110.7 M787.5 103.7 L789.8 100.8 L792.1 97.8 L792.5 97.3 M797.8 90.4 L800.1 87.4 L802.4 84.4 L802.8 83.9 M808.1 77.0 L810.4 74.0 L811.2 73.0 M525.2 505.2 L527.1 502.2 L528.7 499.7 M533.4 492.3 L535.3 489.3 L537.2 486.3 M541.9 478.9 L543.8 475.9 L545.7 472.9 M550.5 465.5 L552.4 462.5 L554.4 459.6 L554.7 459.1 M559.2 452.1 L561.1 449.2 L563.1 446.2 L563.4 445.7 M567.9 438.7 L569.9 435.8 L571.8 432.8 L572.1 432.3 M576.7 425.4 L578.7 422.4 L580.6 419.4 L581.0 418.9 M585.6 412.0 L587.5 409.0 L589.5 406.0 L589.8 405.5 M594.5 398.6 L596.5 395.6 L598.5 392.7 L598.8 392.2 M603.5 385.2 L605.5 382.2 L607.5 379.3 L607.8 378.8 M612.5 371.8 L614.5 368.9 L616.5 365.9 L616.9 365.4 M621.6 358.5 L623.6 355.5 L625.7 352.5 L626.0 352.0 M630.8 345.1 L632.8 342.1 L634.9 339.1 L635.2 338.6 M640.0 331.7 L642.0 328.7 L644.1 325.8 L644.4 325.3 M649.3 318.3 L651.3 315.3 L653.4 312.4 L653.8 311.9 M658.6 304.9 L660.7 302.0 L662.8 299.0 L663.1 298.5 M668.0 291.6 L670.1 288.6 L672.2 285.6 L672.5 285.1 M677.4 278.2 L679.5 275.2 L681.7 272.2 L682.0 271.7 M686.9 264.8 L689.1 261.8 L691.2 258.9 L691.5 258.4 M696.5 251.4 L698.6 248.4 L700.8 245.5 L701.1 245.0 M706.1 238.0 L708.2 235.1 L710.4 232.1 L710.7 231.6 M715.8 224.7 L717.9 221.7 L720.1 218.7 L720.4 218.2 M725.5 211.3 L727.6 208.3 L729.8 205.3 L730.2 204.8 M735.2 197.9 L737.4 194.9 L739.6 191.9 L740.0 191.5 M745.1 184.5 L747.3 181.5 L749.4 178.6 L749.8 178.1 M754.9 171.1 L757.1 168.2 L759.3 165.2 L759.7 164.7 M764.8 157.8 L767.1 154.8 L769.3 151.8 L769.6 151.3 M775.2 143.9 L777.4 140.9 L779.6 137.9 M785.2 130.5 L787.4 127.5 L789.7 124.5 M795.3 117.1 L797.5 114.1 L799.8 111.2 L800.1 110.7 M805.4 103.7 L807.6 100.8 L809.9 97.8 L810.3 97.3 M815.5 90.4 L817.8 87.4 L820.1 84.4 L820.4 83.9 M825.7 77.0 L828.0 74.0 L828.8 73.0 M544.3 505.2 L546.1 502.2 L547.7 499.7 M552.3 492.3 L554.2 489.3 L556.0 486.3 M560.7 478.9 L562.5 475.9 L564.4 472.9 M569.1 465.5 L571.0 462.5 L572.9 459.6 L573.2 459.1 M577.6 452.1 L579.5 449.2 L581.4 446.2 L581.7 445.7 M586.2 438.7 L588.1 435.8 L590.0 432.8 L590.3 432.3 M594.8 425.4 L596.7 422.4 L598.7 419.4 L599.0 418.9 M603.5 412.0 L605.5 409.0 L607.4 406.0 L607.7 405.5 M612.3 398.6 L614.2 395.6 L616.2 392.7 L616.5 392.2 M621.1 385.2 L623.1 382.2 L625.1 379.3 L625.4 378.8 M630.0 371.8 L632.0 368.9 L634.0 365.9 L634.3 365.4 M639.0 358.5 L641.0 355.5 L643.0 352.5 L643.3 352.0 M648.0 345.1 L650.0 342.1 L652.0 339.1 L652.3 338.6 M657.1 331.7 L659.1 328.7 L661.1 325.8 L661.4 325.3 M666.2 318.3 L668.2 315.3 L670.3 312.4 L670.6 311.9 M675.4 304.9 L677.4 302.0 L679.5 299.0 L679.8 298.5 M684.6 291.6 L686.7 288.6 L688.8 285.6 L689.1 285.1 M693.9 278.2 L696.0 275.2 L698.1 272.2 L698.4 271.7 M703.3 264.8 L705.4 261.8 L707.5 258.9 L707.8 258.4 M712.7 251.4 L714.8 248.4 L716.9 245.5 L717.3 245.0 M722.2 238.0 L724.3 235.1 L726.4 232.1 L726.8 231.6 M731.7 224.7 L733.9 221.7 L736.0 218.7 L736.4 218.2 M741.3 211.3 L743.5 208.3 L745.6 205.3 L746.0 204.8 M751.0 197.9 L753.1 194.9 L755.3 191.9 L755.6 191.5 M760.7 184.5 L762.8 181.5 L765.0 178.6 L765.3 178.1 M770.4 171.1 L772.6 168.2 L774.7 165.2 L775.1 164.7 M780.2 157.8 L782.4 154.8 L784.6 151.8 L784.9 151.3 M790.4 143.9 L792.6 140.9 L794.8 137.9 M800.3 130.5 L802.5 127.5 L804.7 124.5 M810.3 117.1 L812.5 114.1 L814.7 111.2 L815.1 110.7 M820.2 103.7 L822.5 100.8 L824.7 97.8 L825.1 97.3 M830.3 90.4 L832.5 87.4 L834.8 84.4 L835.1 83.9 M840.4 77.0 L842.6 74.0 L843.4 73.0 M568.1 505.2 L569.9 502.2 L571.4 499.7 M575.9 492.3 L577.7 489.3 L579.5 486.3 M584.1 478.9 L585.9 475.9 L587.7 472.9 M592.3 465.5 L594.2 462.5 L596.0 459.6 L596.3 459.1 M600.6 452.1 L602.5 449.2 L604.3 446.2 L604.6 445.7 M609.0 438.7 L610.9 435.8 L612.7 432.8 L613.0 432.3 M617.4 425.4 L619.3 422.4 L621.2 419.4 L621.5 418.9 M625.9 412.0 L627.8 409.0 L629.7 406.0 L630.1 405.5 M634.5 398.6 L636.4 395.6 L638.3 392.7 L638.7 392.2 M643.1 385.2 L645.1 382.2 L647.0 379.3 L647.3 378.8 M651.8 371.8 L653.8 368.9 L655.7 365.9 L656.1 365.4 M660.6 358.5 L662.6 355.5 L664.5 352.5 L664.9 352.0 M669.4 345.1 L671.4 342.1 L673.4 339.1 L673.7 338.6 M678.3 331.7 L680.3 328.7 L682.3 325.8 L682.6 325.3 M687.3 318.3 L689.3 315.3 L691.3 312.4 L691.6 311.9 M696.3 304.9 L698.3 302.0 L700.3 299.0 L700.7 298.5 M705.4 291.6 L707.4 288.6 L709.4 285.6 L709.8 285.1 M714.5 278.2 L716.6 275.2 L718.6 272.2 L718.9 271.7 M723.7 264.8 L725.8 261.8 L727.8 258.9 L728.2 258.4 M733.0 251.4 L735.0 248.4 L737.1 245.5 L737.5 245.0 M742.3 238.0 L744.4 235.1 L746.4 232.1 L746.8 231.6 M751.7 224.7 L753.7 221.7 L755.8 218.7 L756.2 218.2 M761.1 211.3 L763.2 208.3 L765.3 205.3 L765.6 204.8 M770.6 197.9 L772.7 194.9 L774.8 191.9 L775.1 191.5 M780.1 184.5 L782.2 181.5 L784.3 178.6 L784.7 178.1 M789.7 171.1 L791.8 168.2 L794.0 165.2 L794.3 164.7 M799.3 157.8 L801.5 154.8 L803.6 151.8 L804.0 151.3 M809.4 143.9 L811.5 140.9 L813.7 137.9 M819.1 130.5 L821.3 127.5 L823.5 124.5 M828.9 117.1 L831.1 114.1 L833.3 111.2 L833.7 110.7 M838.8 103.7 L841.0 100.8 L843.2 97.8 L843.5 97.3 M848.7 90.4 L850.9 87.4 L853.1 84.4 L853.4 83.9 M858.6 77.0 L860.8 74.0 L861.6 73.0 M599.6 505.2 L601.4 502.2 L602.8 499.7 M607.1 492.3 L608.9 489.3 L610.6 486.3 M615.0 478.9 L616.8 475.9 L618.5 472.9 M623.0 465.5 L624.8 462.5 L626.5 459.6 L626.8 459.1 M631.0 452.1 L632.8 449.2 L634.6 446.2 L634.9 445.7 M639.1 438.7 L640.9 435.8 L642.7 432.8 L643.0 432.3 M647.3 425.4 L649.1 422.4 L650.9 419.4 L651.2 418.9 M655.5 412.0 L657.4 409.0 L659.2 406.0 L659.5 405.5 M663.8 398.6 L665.7 395.6 L667.5 392.7 L667.9 392.2 M672.2 385.2 L674.1 382.2 L676.0 379.3 L676.3 378.8 M680.7 371.8 L682.6 368.9 L684.4 365.9 L684.8 365.4 M689.2 358.5 L691.1 355.5 L693.0 352.5 L693.3 352.0 M697.8 345.1 L699.7 342.1 L701.6 339.1 L701.9 338.6 M706.4 331.7 L708.4 328.7 L710.3 325.8 L710.6 325.3 M715.1 318.3 L717.1 315.3 L719.0 312.4 L719.4 311.9 M723.9 304.9 L725.9 302.0 L727.8 299.0 L728.2 298.5 M732.8 291.6 L734.7 288.6 L736.7 285.6 L737.0 285.1 M741.7 278.2 L743.7 275.2 L745.6 272.2 L746.0 271.7 M750.6 264.8 L752.6 261.8 L754.6 258.9 L755.0 258.4 M759.7 251.4 L761.7 248.4 L763.7 245.5 L764.0 245.0 M768.7 238.0 L770.8 235.1 L772.8 232.1 L773.1 231.6 M777.9 224.7 L779.9 221.7 L782.0 218.7 L782.3 218.2 M787.1 211.3 L789.2 208.3 L791.2 205.3 L791.6 204.8 M796.4 197.9 L798.4 194.9 L800.5 191.9 L800.8 191.5 M805.7 184.5 L807.8 181.5 L809.9 178.6 L810.2 178.1 M815.1 171.1 L817.2 168.2 L819.3 165.2 L819.6 164.7 M824.5 157.8 L826.6 154.8 L828.7 151.8 L829.1 151.3 M834.3 143.9 L836.5 140.9 L838.6 137.9 M843.9 130.5 L846.0 127.5 L848.1 124.5 M853.5 117.1 L855.6 114.1 L857.8 111.2 L858.1 110.7 M863.1 103.7 L865.3 100.8 L867.4 97.8 L867.8 97.3 M872.8 90.4 L875.0 87.4 L877.2 84.4 L877.5 83.9 M882.6 77.0 L884.8 74.0 L885.5 73.0 M624.6 505.2 L626.3 502.2 L627.7 499.7 M631.9 492.3 L633.6 489.3 L635.3 486.3 M639.6 478.9 L641.3 475.9 L643.0 472.9 M647.3 465.5 L649.0 462.5 L650.8 459.6 L651.0 459.1 M655.1 452.1 L656.8 449.2 L658.6 446.2 L658.9 445.7 M663.0 438.7 L664.7 435.8 L666.5 432.8 L666.8 432.3 M670.9 425.4 L672.7 422.4 L674.5 419.4 L674.8 418.9 M679.0 412.0 L680.8 409.0 L682.6 406.0 L682.9 405.5 M687.1 398.6 L688.9 395.6 L690.7 392.7 L691.0 392.2 M695.3 385.2 L697.1 382.2 L698.9 379.3 L699.2 378.8 M703.5 371.8 L705.3 368.9 L707.2 365.9 L707.5 365.4 M711.8 358.5 L713.7 355.5 L715.5 352.5 L715.9 352.0 M720.2 345.1 L722.1 342.1 L724.0 339.1 L724.3 338.6 M728.7 331.7 L730.6 328.7 L732.4 325.8 L732.8 325.3 M737.2 318.3 L739.1 315.3 L741.0 312.4 L741.3 311.9 M745.8 304.9 L747.7 302.0 L749.6 299.0 L749.9 298.5 M754.4 291.6 L756.4 288.6 L758.3 285.6 L758.6 285.1 M763.2 278.2 L765.1 275.2 L767.1 272.2 L767.4 271.7 M771.9 264.8 L773.9 261.8 L775.9 258.9 L776.2 258.4 M780.8 251.4 L782.8 248.4 L784.7 245.5 L785.1 245.0 M789.7 238.0 L791.7 235.1 L793.7 232.1 L794.0 231.6 M798.7 224.7 L800.7 221.7 L802.7 218.7 L803.0 218.2 M807.7 211.3 L809.7 208.3 L811.7 205.3 L812.1 204.8 M816.8 197.9 L818.8 194.9 L820.9 191.9 L821.2 191.5 M825.9 184.5 L828.0 181.5 L830.0 178.6 L830.4 178.1 M835.2 171.1 L837.2 168.2 L839.3 165.2 L839.6 164.7 M844.4 157.8 L846.5 154.8 L848.6 151.8 L848.9 151.3 M854.1 143.9 L856.2 140.9 L858.3 137.9 M863.5 130.5 L865.6 127.5 L867.7 124.5 M872.9 117.1 L875.0 114.1 L877.1 111.2 L877.5 110.7 M882.4 103.7 L884.5 100.8 L886.7 97.8 L887.0 97.3 M892.0 90.4 L894.1 87.4 L896.2 84.4 L896.6 83.9 M901.6 77.0 L903.7 74.0 L904.4 73.0 M645.4 505.2 L647.0 502.2 L648.4 499.7 M652.5 492.3 L654.2 489.3 L655.8 486.3 M660.0 478.9 L661.6 475.9 L663.3 472.9 M667.5 465.5 L669.2 462.5 L670.9 459.6 L671.2 459.1 M675.1 452.1 L676.8 449.2 L678.5 446.2 L678.8 445.7 M682.8 438.7 L684.5 435.8 L686.3 432.8 L686.6 432.3 M690.6 425.4 L692.3 422.4 L694.1 419.4 L694.4 418.9 M698.5 412.0 L700.2 409.0 L702.0 406.0 L702.3 405.5 M706.4 398.6 L708.2 395.6 L709.9 392.7 L710.2 392.2 M714.4 385.2 L716.2 382.2 L718.0 379.3 L718.3 378.8 M722.5 371.8 L724.3 368.9 L726.1 365.9 L726.4 365.4 M730.6 358.5 L732.4 355.5 L734.3 352.5 L734.6 352.0 M738.8 345.1 L740.7 342.1 L742.5 339.1 L742.8 338.6 M747.1 331.7 L749.0 328.7 L750.8 325.8 L751.1 325.3 M755.5 318.3 L757.4 315.3 L759.2 312.4 L759.5 311.9 M763.9 304.9 L765.8 302.0 L767.7 299.0 L768.0 298.5 M772.4 291.6 L774.3 288.6 L776.2 285.6 L776.5 285.1 M781.0 278.2 L782.9 275.2 L784.8 272.2 L785.1 271.7 M789.6 264.8 L791.5 261.8 L793.5 258.9 L793.8 258.4 M798.3 251.4 L800.3 248.4 L802.2 245.5 L802.5 245.0 M807.1 238.0 L809.0 235.1 L811.0 232.1 L811.3 231.6 M815.9 224.7 L817.9 221.7 L819.8 218.7 L820.2 218.2 M824.8 211.3 L826.8 208.3 L828.8 205.3 L829.1 204.8 M833.7 197.9 L835.7 194.9 L837.7 191.9 L838.1 191.5 M842.7 184.5 L844.8 181.5 L846.8 178.6 L847.1 178.1 M851.8 171.1 L853.8 168.2 L855.9 165.2 L856.2 164.7 M860.9 157.8 L863.0 154.8 L865.0 151.8 L865.4 151.3 M870.5 143.9 L872.5 140.9 L874.6 137.9 M879.7 130.5 L881.8 127.5 L883.8 124.5 M889.0 117.1 L891.1 114.1 L893.2 111.2 L893.5 110.7 M898.4 103.7 L900.5 100.8 L902.6 97.8 L902.9 97.3 M907.8 90.4 L909.9 87.4 L912.0 84.4 L912.4 83.9 M917.3 77.0 L919.4 74.0 L920.1 73.0 M678.8 505.2 L680.3 502.2 L681.6 499.7 M685.6 492.3 L687.1 489.3 L688.7 486.3 M692.7 478.9 L694.3 475.9 L695.9 472.9 M699.9 465.5 L701.6 462.5 L703.2 459.6 L703.5 459.1 M707.3 452.1 L708.9 449.2 L710.5 446.2 L710.8 445.7 M714.7 438.7 L716.3 435.8 L718.0 432.8 L718.3 432.3 M722.1 425.4 L723.8 422.4 L725.5 419.4 L725.8 418.9 M729.7 412.0 L731.4 409.0 L733.1 406.0 L733.4 405.5 M737.4 398.6 L739.1 395.6 L740.8 392.7 L741.1 392.2 M745.1 385.2 L746.8 382.2 L748.5 379.3 L748.8 378.8 M752.9 371.8 L754.6 368.9 L756.4 365.9 L756.7 365.4 M760.8 358.5 L762.5 355.5 L764.3 352.5 L764.6 352.0 M768.7 345.1 L770.5 342.1 L772.3 339.1 L772.6 338.6 M776.7 331.7 L778.5 328.7 L780.3 325.8 L780.6 325.3 M784.8 318.3 L786.6 315.3 L788.5 312.4 L788.8 311.9 M793.0 304.9 L794.8 302.0 L796.7 299.0 L797.0 298.5 M801.2 291.6 L803.1 288.6 L804.9 285.6 L805.2 285.1 M809.6 278.2 L811.4 275.2 L813.3 272.2 L813.6 271.7 M817.9 264.8 L819.8 261.8 L821.7 258.9 L822.0 258.4 M826.4 251.4 L828.3 248.4 L830.2 245.5 L830.5 245.0 M834.9 238.0 L836.8 235.1 L838.7 232.1 L839.0 231.6 M843.5 224.7 L845.4 221.7 L847.3 218.7 L847.6 218.2 M852.1 211.3 L854.1 208.3 L856.0 205.3 L856.3 204.8 M860.8 197.9 L862.8 194.9 L864.7 191.9 L865.1 191.5 M869.6 184.5 L871.6 181.5 L873.5 178.6 L873.9 178.1 M878.5 171.1 L880.4 168.2 L882.4 165.2 L882.7 164.7 M887.4 157.8 L889.4 154.8 L891.4 151.8 L891.7 151.3 M896.7 143.9 L898.7 140.9 L900.7 137.9 M905.7 130.5 L907.7 127.5 L909.7 124.5 M914.8 117.1 L916.8 114.1 L918.9 111.2 L919.2 110.7 M923.9 103.7 L926.0 100.8 L928.0 97.8 L928.4 97.3 M933.1 90.4 L935.2 87.4 L937.3 84.4 L937.6 83.9 M942.4 77.0 L944.5 74.0 L945.2 73.0" stroke="#4b0082"/>
<path d="M109.6 505.2 L106.8 502.8 L106.3 502.4 M100.8 497.6 L100.4 497.2 M176.6 505.2 L173.7 502.8 L173.2 502.4 M167.9 498.0 L165.0 495.6 L163.1 494.1 M157.9 489.7 L155.1 487.3 L152.7 485.3 M147.1 480.6 L144.3 478.2 L142.0 476.2 M136.5 471.5 L133.8 469.1 L131.5 467.1 M241.4 505.2 L238.5 502.8 L238.0 502.4 M233.1 498.4 L230.2 496.0 L227.7 494.1 M222.4 489.7 L219.5 487.3 L217.5 485.7 M212.2 481.4 L209.3 479.0 L206.9 477.0 M201.6 472.6 L198.8 470.3 L196.4 468.3 M190.7 463.5 L187.9 461.1 L185.5 459.2 M179.9 454.4 L177.2 452.0 L174.4 449.6 M168.9 444.9 L166.2 442.5 L165.3 441.7 M302.1 505.2 L299.3 502.8 L298.8 502.4 M293.7 498.0 L290.9 495.6 L288.5 493.7 M283.3 489.3 L280.5 486.9 L278.1 484.9 M272.8 480.6 L270.0 478.2 L267.6 476.2 M261.8 471.5 L258.9 469.1 L257.0 467.5 M251.3 462.7 L248.4 460.4 L246.0 458.4 M240.3 453.6 L237.4 451.2 L235.0 449.3 M229.3 444.5 L226.5 442.1 L224.2 440.1 M218.6 435.4 L215.8 433.0 L213.0 430.6 M207.0 425.5 L204.3 423.1 L201.5 420.7 M195.9 415.7 L193.9 414.0 M356.8 505.2 L354.0 502.5 L353.6 502.1 M348.5 497.2 L345.6 494.6 L343.3 492.4 M338.0 487.5 L335.0 484.9 L332.6 482.7 M327.1 477.8 L324.4 475.4 L322.1 473.4 M316.6 468.7 L313.9 466.3 L311.6 464.3 M306.0 459.6 L303.2 457.2 L300.8 455.2 M295.2 450.4 L292.4 448.1 L289.6 445.7 M283.9 440.9 L281.1 438.5 L278.7 436.6 M273.0 431.8 L270.2 429.4 L267.4 427.0 M261.7 422.3 L258.9 419.9 L256.1 417.5 M250.5 412.8 L247.8 410.4 L245.0 408.0 L244.5 407.6 M238.6 402.5 L235.8 400.1 L233.1 397.7 M227.1 392.4 L224.6 390.2 M404.5 505.2 L401.9 502.2 M397.0 496.7 L394.3 493.8 L392.5 491.8 M387.3 486.3 L384.4 483.3 L382.5 481.4 M376.8 475.6 L374.1 473.0 L371.9 470.8 M366.4 465.5 L363.6 462.9 L360.7 460.2 M355.5 455.4 L352.6 452.7 L350.1 450.5 M344.3 445.2 L341.3 442.6 L338.9 440.5 M333.5 435.8 L330.8 433.4 L328.0 431.0 M322.0 425.9 L319.3 423.5 L316.5 421.1 M310.9 416.3 L308.1 414.0 L305.3 411.6 M299.3 406.4 L296.5 404.1 L293.7 401.7 M288.1 396.9 L285.4 394.5 L282.6 392.2 L282.1 391.8 M276.2 386.6 L273.4 384.2 L270.7 381.9 L270.2 381.5 M264.3 376.3 L261.6 373.9 L258.6 371.2 M445.1 505.2 L443.1 502.2 M439.1 496.7 L436.9 493.8 L435.4 491.8 M431.2 486.3 L428.8 483.3 L427.2 481.4 M422.3 475.4 L419.7 472.4 L418.0 470.5 M413.2 465.0 L410.5 462.0 L408.2 459.6 M403.0 454.1 L400.2 451.1 L397.8 448.7 M392.3 443.2 L389.5 440.4 L386.8 437.8 M381.2 432.5 L378.4 429.8 L375.6 427.2 M369.9 421.9 L367.0 419.3 L364.6 417.0 M358.7 411.8 L355.7 409.1 L353.2 406.9 M347.3 401.7 L344.5 399.3 L341.8 396.9 L341.4 396.5 M335.4 391.4 L332.7 389.0 L329.9 386.6 M324.0 381.5 L321.2 379.1 L318.5 376.7 L318.0 376.3 M312.1 371.1 L309.3 368.8 L306.6 366.4 L306.1 366.0 M299.8 360.4 L297.1 358.1 L294.4 355.7 L293.9 355.3 M287.6 349.7 L284.6 347.0 L281.6 344.4 M479.6 505.2 L477.9 502.2 M474.8 496.7 L473.1 493.8 L471.9 491.8 M468.6 486.3 L466.7 483.3 L465.4 481.4 M461.4 475.4 L459.4 472.4 L458.0 470.5 M454.0 465.0 L451.8 462.0 L449.9 459.6 M445.7 454.1 L443.3 451.1 L441.3 448.7 M436.7 443.2 L434.2 440.2 L432.0 437.8 M426.7 431.8 L423.9 428.8 L421.6 426.4 M416.4 420.9 L413.5 417.9 L411.1 415.5 M405.1 409.6 L402.4 406.9 L399.7 404.3 L399.2 403.8 M393.2 398.1 L390.4 395.5 L387.5 392.8 M381.8 387.5 L378.9 384.9 L376.0 382.2 M370.1 377.0 L367.1 374.3 L364.1 371.7 M358.1 366.4 L355.4 364.0 L352.7 361.6 L352.3 361.2 M345.9 355.7 L343.2 353.3 L340.5 350.9 L340.1 350.5 M333.7 345.0 L331.0 342.6 L328.0 340.0 L327.5 339.5 M321.1 333.8 L318.1 331.1 L315.1 328.5 M508.8 505.2 L507.6 502.2 M505.2 496.7 L503.8 493.8 L502.9 491.8 M500.3 486.3 L498.8 483.3 L497.8 481.4 M494.7 475.4 L493.1 472.4 L492.0 470.5 M488.9 465.0 L487.1 462.0 L485.6 459.6 M482.3 454.1 L480.3 451.1 L478.7 448.7 M475.0 443.2 L473.0 440.2 L471.2 437.8 M466.8 431.8 L464.6 428.8 L462.6 426.4 M458.3 420.9 L455.9 417.9 L453.8 415.5 M448.7 409.5 L446.1 406.5 L443.4 403.6 M437.9 397.6 L435.1 394.6 L432.8 392.2 M427.0 386.2 L424.0 383.2 L421.2 380.5 L420.8 380.0 M414.9 374.3 L412.1 371.7 L409.3 369.0 L408.9 368.6 M402.8 362.9 L399.9 360.2 L397.0 357.6 M390.8 351.9 L387.8 349.2 L384.9 346.6 M378.5 340.8 L375.5 338.2 L372.6 335.6 M366.1 329.8 L363.2 327.2 L360.2 324.5 L359.7 324.1 M353.3 318.4 L350.3 315.7 L347.3 313.1 M340.5 306.9 L337.5 304.3 L334.6 301.6 L334.1 301.2 M533.8 505.2 L532.9 502.2 M531.1 496.7 L530.0 493.8 L529.3 491.8 M527.3 486.3 L526.2 483.3 L525.4 481.4 M523.0 475.4 L521.8 472.4 L521.0 470.5 M518.6 465.0 L517.2 462.0 L516.0 459.6 M513.4 454.1 L511.9 451.1 L510.7 448.7 M507.8 443.2 L506.1 440.2 L504.7 437.8 M501.3 431.8 L499.5 428.8 L497.9 426.4 M494.4 420.9 L492.5 417.9 L490.8 415.5 M486.6 409.5 L484.5 406.5 L482.3 403.6 M477.7 397.6 L475.4 394.6 L473.4 392.2 M468.5 386.2 L465.9 383.2 L463.4 380.3 M458.1 374.3 L455.3 371.3 L452.6 368.4 M446.4 361.9 L443.5 359.0 L440.6 356.0 M434.2 349.7 L431.5 347.0 L428.7 344.4 L428.3 343.9 M421.8 337.8 L419.0 335.1 L416.1 332.5 L415.7 332.0 M409.5 326.3 L406.6 323.7 L403.7 321.0 L403.2 320.6 M396.9 314.9 L394.0 312.2 L391.0 309.6 L390.6 309.1 M384.2 303.4 L381.3 300.8 L378.3 298.1 L377.8 297.7 M371.0 291.5 L368.1 288.9 L365.2 286.2 L364.7 285.8 M357.9 279.6 L357.4 279.2 M555.5 505.2 L554.8 502.2 M553.4 496.7 L552.6 493.8 L552.1 491.8 M550.6 486.3 L549.7 483.3 L549.2 481.4 M547.4 475.4 L546.4 472.4 L545.8 470.5 M544.0 465.0 L543.0 462.0 L542.1 459.6 M540.1 454.1 L538.9 451.1 L538.0 448.7 M535.7 443.2 L534.5 440.2 L533.4 437.8 M530.7 431.8 L529.3 428.8 L528.1 426.4 M525.4 420.9 L523.9 417.9 L522.5 415.5 M519.3 409.5 L517.5 406.5 L515.8 403.6 M512.2 397.6 L510.3 394.6 L508.6 392.2 M504.7 386.2 L502.6 383.2 L500.4 380.3 M496.1 374.3 L493.8 371.3 L491.4 368.4 M486.2 361.9 L483.8 359.0 L481.2 356.0 M475.6 349.5 L472.9 346.6 L470.2 343.6 M464.1 337.2 L461.3 334.2 L458.4 331.2 M452.0 324.8 L449.1 321.9 L446.4 319.3 L445.5 318.4 M439.0 312.2 L436.2 309.6 L433.4 306.9 L433.0 306.5 M426.4 300.3 L423.5 297.7 L420.6 295.0 L420.2 294.6 M413.4 288.4 L410.5 285.8 L407.6 283.1 L406.7 282.3 M400.4 276.5 L397.5 273.9 L394.6 271.2 L393.6 270.4 M386.9 264.2 L384.0 261.5 L381.6 259.3 M574.4 505.2 L573.8 502.2 M572.9 496.7 L572.3 493.8 L571.9 491.8 M570.8 486.3 L570.2 483.3 L569.8 481.4 M568.5 475.4 L567.8 472.4 L567.3 470.5 M566.0 465.0 L565.2 462.0 L564.5 459.6 M563.0 454.1 L562.2 451.1 L561.5 448.7 M559.8 443.2 L558.8 440.2 L558.0 437.8 M556.0 431.8 L554.9 428.8 L554.0 426.4 M551.9 420.9 L550.8 417.9 L549.8 415.5 M547.2 409.5 L545.9 406.5 L544.5 403.6 M541.7 397.6 L540.2 394.6 L539.0 392.2 M535.8 386.2 L534.2 383.2 L532.5 380.3 M529.0 374.3 L527.1 371.3 L525.3 368.4 M521.0 361.9 L519.0 359.0 L516.9 356.0 M512.2 349.5 L510.0 346.6 L507.7 343.6 M502.6 337.2 L500.1 334.2 L497.6 331.2 M492.0 324.8 L489.4 321.8 L486.7 318.8 L486.2 318.3 M480.2 311.9 L477.4 308.9 L474.5 305.9 L474.0 305.4 M467.7 299.0 L465.0 296.3 L462.3 293.7 L461.0 292.4 M454.6 286.2 L451.8 283.6 L449.0 280.9 L448.1 280.0 M441.1 273.4 L438.2 270.8 L435.4 268.2 L434.9 267.7 M427.8 261.1 L424.9 258.5 L422.0 255.8 L421.1 254.9 M414.4 248.8 L411.5 246.1 L408.7 243.5 L407.7 242.6 M591.0 505.2 L590.7 502.2 M590.0 496.7 L589.6 493.8 L589.3 491.8 M588.6 486.3 L588.1 483.3 L587.8 481.4 M586.9 475.4 L586.4 472.4 L586.1 470.5 M585.1 465.0 L584.6 462.0 L584.1 459.6 M583.0 454.1 L582.4 451.1 L581.9 448.7 M580.7 443.2 L580.0 440.2 L579.4 437.8 M577.9 431.8 L577.1 428.8 L576.4 426.4 M574.9 420.9 L574.0 417.9 L573.2 415.5 M571.3 409.5 L570.3 406.5 L569.3 403.6 M567.2 397.6 L566.0 394.6 L565.1 392.2 M562.7 386.2 L561.4 383.2 L560.1 380.3 M557.4 374.3 L555.9 371.3 L554.5 368.4 M551.1 361.9 L549.5 359.0 L547.9 356.0 M544.1 349.5 L542.3 346.6 L540.5 343.6 M536.3 337.2 L534.3 334.2 L532.2 331.2 M527.6 324.8 L525.3 321.8 L523.1 318.8 L522.7 318.3 M517.6 311.9 L515.1 308.9 L512.6 305.9 L512.2 305.4 M506.6 299.0 L504.0 296.0 L501.3 293.0 L500.8 292.5 M494.3 285.6 L491.5 282.6 L488.6 279.7 L488.1 279.2 M481.3 272.2 L478.5 269.5 L475.8 266.8 L474.9 266.0 M468.1 259.3 L465.3 256.7 L462.5 254.1 L461.1 252.7 M454.1 246.1 L451.3 243.5 L448.5 240.8 L447.6 240.0 M440.5 233.4 L437.7 230.7 L434.8 228.1 L433.4 226.7 M605.9 505.2 L605.6 502.2 M605.2 496.7 L605.0 493.8 L604.8 491.8 M604.3 486.3 L604.0 483.3 L603.8 481.4 M603.2 475.4 L602.9 472.4 L602.7 470.5 M602.0 465.0 L601.6 462.0 L601.3 459.6 M600.6 454.1 L600.1 451.1 L599.8 448.7 M598.9 443.2 L598.4 440.2 L598.0 437.8 M597.0 431.8 L596.4 428.8 L595.9 426.4 M594.8 420.9 L594.2 417.9 L593.6 415.5 M592.3 409.5 L591.5 406.5 L590.8 403.6 M589.2 397.6 L588.4 394.6 L587.6 392.2 M585.8 386.2 L584.9 383.2 L583.9 380.3 M581.8 374.3 L580.8 371.3 L579.6 368.4 M577.1 361.9 L575.9 359.0 L574.6 356.0 M571.7 349.5 L570.3 346.6 L568.8 343.6 M565.5 337.2 L563.9 334.2 L562.3 331.2 M558.6 324.8 L556.8 321.8 L554.9 318.8 L554.6 318.3 M550.4 311.9 L548.4 308.9 L546.3 305.9 L546.0 305.4 M541.3 299.0 L539.1 296.0 L536.8 293.0 L536.4 292.5 M530.8 285.6 L528.4 282.6 L525.8 279.7 L525.4 279.2 M519.3 272.2 L516.7 269.3 L513.9 266.3 L513.5 265.8 M506.9 258.9 L504.1 255.9 L501.2 252.9 L500.2 251.9 M493.3 245.0 L490.5 242.2 L487.8 239.5 L486.4 238.2 M479.6 231.6 L476.8 229.0 L474.1 226.3 L472.7 225.0 M465.7 218.4 L462.9 215.7 L460.1 213.1 L458.7 211.8 M451.2 204.7 L450.3 203.8 M619.2 505.2 L619.1 502.2 M618.8 496.7 L618.7 493.8 L618.6 491.8 M618.3 486.3 L618.2 483.3 L618.1 481.4 M617.7 475.4 L617.5 472.4 L617.4 470.5 M617.0 465.0 L616.8 462.0 L616.6 459.6 M616.1 454.1 L615.9 451.1 L615.6 448.7 M615.1 443.2 L614.8 440.2 L614.5 437.8 M613.8 431.8 L613.4 428.8 L613.1 426.4 M612.3 420.9 L611.9 417.9 L611.5 415.5 M610.6 409.5 L610.1 406.5 L609.5 403.6 M608.4 397.6 L607.8 394.6 L607.3 392.2 M606.0 386.2 L605.3 383.2 L604.6 380.3 M603.1 374.3 L602.3 371.3 L601.5 368.4 M599.6 361.9 L598.7 359.0 L597.7 356.0 M595.5 349.5 L594.5 346.6 L593.4 343.6 M590.8 337.2 L589.6 334.2 L588.3 331.2 M585.4 324.8 L584.0 321.8 L582.6 318.8 L582.4 318.3 M579.0 311.9 L577.4 308.9 L575.8 305.9 L575.5 305.4 M571.7 299.0 L569.9 296.0 L568.0 293.0 L567.7 292.5 M563.1 285.6 L561.1 282.6 L559.0 279.7 L558.6 279.2 M553.5 272.2 L551.2 269.3 L548.9 266.3 L548.5 265.8 M542.8 258.9 L540.3 255.9 L537.7 252.9 L536.9 251.9 M530.7 245.0 L527.9 242.0 L525.2 239.0 L524.2 238.0 M517.6 231.1 L514.7 228.1 L511.8 225.2 L510.8 224.2 M503.7 217.1 L501.0 214.4 L498.3 211.8 L496.5 210.0 M489.2 203.0 L486.4 200.3 L483.7 197.7 L482.3 196.4 M474.9 189.3 L473.5 188.0 M631.2 505.2 L631.2 502.2 M631.1 496.7 L631.1 493.8 L631.1 491.8 M631.0 486.3 L630.9 483.3 L630.9 481.4 M630.8 475.4 L630.7 472.4 L630.6 470.5 M630.5 465.0 L630.4 462.0 L630.3 459.6 M630.0 454.1 L629.9 451.1 L629.8 448.7 M629.5 443.2 L629.3 440.2 L629.1 437.8 M628.7 431.8 L628.5 428.8 L628.3 426.4 M627.9 420.9 L627.6 417.9 L627.4 415.5 M626.8 409.5 L626.4 406.5 L626.1 403.6 M625.4 397.6 L625.0 394.6 L624.6 392.2 M623.7 386.2 L623.3 383.2 L622.8 380.3 M621.7 374.3 L621.2 371.3 L620.6 368.4 M619.2 361.9 L618.6 359.0 L617.9 356.0 M616.3 349.5 L615.5 346.6 L614.7 343.6 M612.8 337.2 L611.9 334.2 L611.0 331.2 M608.8 324.8 L607.7 321.8 L606.6 318.8 L606.4 318.3 M603.9 311.9 L602.7 308.9 L601.4 305.9 L601.2 305.4 M598.2 299.0 L596.8 296.0 L595.3 293.0 L595.1 292.5 M591.4 285.6 L589.8 282.6 L588.1 279.7 L587.8 279.2 M583.6 272.2 L581.8 269.3 L579.8 266.3 L579.5 265.8 M574.8 258.9 L572.7 255.9 L570.5 252.9 L569.8 251.9 M564.5 245.0 L562.1 242.0 L559.7 239.0 L558.9 238.0 M553.0 231.1 L550.5 228.1 L547.8 225.2 L546.9 224.2 M540.6 217.2 L537.8 214.2 L535.0 211.3 L533.6 209.8 M526.8 202.8 L523.9 199.9 L520.9 196.9 L519.5 195.4 M511.9 188.0 L509.2 185.3 L506.5 182.7 L504.7 180.9 M497.4 173.9 L494.7 171.2 L491.9 168.6 L491.5 168.2 M642.2 505.2 L642.2 502.2 M642.3 496.7 L642.4 493.8 L642.4 491.8 M642.5 486.3 L642.5 483.3 L642.5 481.4 M642.6 475.4 L642.6 472.4 L642.6 470.5 M642.6 465.0 L642.6 462.0 L642.6 459.6 M642.5 454.1 L642.5 451.1 L642.5 448.7 M642.4 443.2 L642.3 440.2 L642.3 437.8 M642.1 431.8 L642.0 428.8 L642.0 426.4 M641.7 420.9 L641.6 417.9 L641.5 415.5 M641.2 409.5 L641.0 406.5 L640.8 403.6 M640.4 397.6 L640.2 394.6 L640.0 392.2 M639.4 386.2 L639.1 383.2 L638.8 380.3 M638.1 374.3 L637.8 371.3 L637.4 368.4 M636.5 361.9 L636.1 359.0 L635.6 356.0 M634.5 349.5 L634.0 346.6 L633.4 343.6 M632.1 337.2 L631.4 334.2 L630.7 331.2 M629.1 324.8 L628.4 321.8 L627.6 318.8 L627.4 318.3 M625.5 311.9 L624.6 308.9 L623.7 305.9 L623.5 305.4 M621.3 299.0 L620.2 296.0 L619.1 293.0 L618.9 292.5 M616.1 285.6 L614.8 282.6 L613.5 279.7 L613.3 279.2 M610.0 272.2 L608.5 269.3 L607.0 266.3 L606.7 265.8 M602.9 258.9 L601.2 255.9 L599.4 252.9 L598.9 251.9 M594.5 245.0 L592.5 242.0 L590.5 239.0 L589.8 238.0 M584.9 231.1 L582.7 228.1 L580.4 225.2 L579.7 224.2 M574.2 217.2 L571.7 214.2 L569.2 211.3 L568.0 209.8 M561.9 202.8 L559.3 199.9 L556.5 196.9 L555.2 195.4 M548.2 188.0 L545.3 185.0 L542.4 182.0 L541.0 180.5 M533.6 173.1 L530.7 170.1 L527.8 167.3 L526.0 165.5 M518.8 158.5 L516.1 155.8 L513.4 153.2 L512.5 152.3 M652.2 505.2 L652.3 502.2 M652.5 496.7 L652.6 493.8 L652.7 491.8 M652.9 486.3 L653.0 483.3 L653.1 481.4 M653.3 475.4 L653.4 472.4 L653.5 470.5 M653.6 465.0 L653.7 462.0 L653.8 459.6 M653.9 454.1 L654.0 451.1 L654.0 448.7 M654.1 443.2 L654.1 440.2 L654.2 437.8 M654.2 431.8 L654.2 428.8 L654.2 426.4 M654.2 420.9 L654.2 417.9 L654.2 415.5 M654.1 409.5 L654.1 406.5 L654.0 403.6 M653.9 397.6 L653.8 394.6 L653.7 392.2 M653.4 386.2 L653.3 383.2 L653.1 380.3 M652.8 374.3 L652.6 371.3 L652.3 368.4 M651.8 361.9 L651.6 359.0 L651.3 356.0 M650.6 349.5 L650.2 346.6 L649.9 343.6 M649.0 337.2 L648.6 334.2 L648.1 331.2 M647.0 324.8 L646.5 321.8 L645.9 318.8 L645.8 318.3 M644.5 311.9 L643.8 308.9 L643.2 305.9 L643.0 305.4 M641.4 299.0 L640.6 296.0 L639.8 293.0 L639.7 292.5 M637.6 285.6 L636.6 282.6 L635.6 279.7 L635.5 279.2 M633.0 272.2 L631.8 269.3 L630.7 266.3 L630.5 265.8 M627.5 258.9 L626.2 255.9 L624.8 252.9 L624.3 251.9 M620.9 245.0 L619.3 242.0 L617.7 239.0 L617.1 238.0 M613.1 231.1 L611.3 228.1 L609.5 225.2 L608.8 224.2 M604.2 217.2 L602.2 214.2 L600.1 211.3 L599.0 209.8 M593.8 202.8 L591.5 199.9 L589.1 196.9 L587.9 195.4 M581.7 188.0 L579.1 185.0 L576.5 182.0 L575.2 180.5 M568.5 173.1 L565.7 170.1 L562.9 167.2 L561.5 165.7 M554.3 158.2 L551.4 155.3 L548.5 152.3 L546.5 150.3 M539.0 142.9 L536.1 140.0 L533.4 137.3 L532.5 136.4 M661.4 505.2 L661.6 502.2 M661.9 496.7 L662.1 493.8 L662.2 491.8 M662.5 486.3 L662.7 483.3 L662.8 481.4 M663.1 475.4 L663.3 472.4 L663.4 470.5 M663.7 465.0 L663.8 462.0 L664.0 459.6 M664.2 454.1 L664.4 451.1 L664.5 448.7 M664.7 443.2 L664.9 440.2 L665.0 437.8 M665.2 431.8 L665.3 428.8 L665.4 426.4 M665.5 420.9 L665.6 417.9 L665.7 415.5 M665.8 409.5 L665.9 406.5 L665.9 403.6 M666.0 397.6 L666.0 394.6 L666.0 392.2 M666.0 386.2 L666.0 383.2 L666.0 380.3 M665.9 374.3 L665.8 371.3 L665.7 368.4 M665.5 361.9 L665.4 359.0 L665.3 356.0 M664.9 349.5 L664.7 346.6 L664.5 343.6 M664.0 337.2 L663.8 334.2 L663.5 331.2 M662.8 324.8 L662.5 321.8 L662.2 318.8 L662.1 318.3 M661.2 311.9 L660.8 308.9 L660.3 305.9 L660.2 305.4 M659.2 299.0 L658.6 296.0 L658.0 293.0 L657.9 292.5 M656.4 285.6 L655.8 282.6 L655.0 279.7 L654.9 279.2 M653.1 272.2 L652.3 269.3 L651.4 266.3 L651.2 265.8 M649.1 258.9 L648.0 255.9 L647.0 252.9 L646.6 251.9 M644.0 245.0 L642.8 242.0 L641.5 239.0 L641.1 238.0 M637.9 231.1 L636.5 228.1 L635.0 225.2 L634.5 224.2 M630.8 217.2 L629.2 214.2 L627.4 211.3 L626.5 209.8 M622.3 202.8 L620.3 199.9 L618.3 196.9 L617.3 195.4 M612.1 188.0 L609.8 185.0 L607.6 182.0 L606.4 180.5 M600.5 173.1 L598.0 170.1 L595.5 167.2 L594.3 165.7 M587.7 158.2 L585.1 155.3 L582.3 152.3 L580.5 150.3 M573.5 142.9 L570.7 139.9 L567.8 136.9 L565.8 135.0 M558.0 127.0 L555.1 124.1 L552.1 121.1 L551.6 120.6 M669.9 505.2 L670.1 502.2 M670.5 496.7 L670.8 493.8 L670.9 491.8 M671.3 486.3 L671.6 483.3 L671.7 481.4 M672.2 475.4 L672.4 472.4 L672.5 470.5 M672.9 465.0 L673.2 462.0 L673.3 459.6 M673.7 454.1 L673.9 451.1 L674.1 448.7 M674.5 443.2 L674.7 440.2 L674.8 437.8 M675.2 431.8 L675.4 428.8 L675.6 426.4 M675.9 420.9 L676.0 417.9 L676.2 415.5 M676.5 409.5 L676.6 406.5 L676.7 403.6 M677.0 397.6 L677.1 394.6 L677.2 392.2 M677.4 386.2 L677.5 383.2 L677.6 380.3 M677.7 374.3 L677.7 371.3 L677.8 368.4 M677.8 361.9 L677.8 359.0 L677.8 356.0 M677.8 349.5 L677.7 346.6 L677.7 343.6 M677.5 337.2 L677.4 334.2 L677.3 331.2 M677.0 324.8 L676.8 321.8 L676.6 318.8 L676.6 318.3 M676.1 311.9 L675.8 308.9 L675.6 305.9 L675.5 305.4 M674.8 299.0 L674.5 296.0 L674.1 293.0 L674.1 292.5 M673.1 285.6 L672.6 282.6 L672.2 279.7 L672.1 279.2 M670.8 272.2 L670.2 269.3 L669.6 266.3 L669.5 265.8 M668.0 258.9 L667.2 255.9 L666.5 252.9 L666.2 251.9 M664.2 245.0 L663.3 242.0 L662.4 239.0 L662.1 238.0 M659.7 231.1 L658.6 228.1 L657.5 225.2 L657.1 224.2 M654.2 217.2 L652.9 214.2 L651.5 211.3 L650.8 209.8 M647.4 202.8 L645.9 199.9 L644.3 196.9 L643.4 195.4 M639.1 188.0 L637.3 185.0 L635.4 182.0 L634.5 180.5 M629.4 173.1 L627.3 170.1 L625.2 167.2 L624.1 165.7 M618.4 158.2 L616.0 155.3 L613.6 152.3 L612.0 150.3 M605.7 142.9 L603.1 139.9 L600.4 136.9 L598.6 135.0 M591.3 127.0 L588.5 124.1 L585.7 121.1 L584.3 119.6 M576.1 111.2 L573.2 108.2 L570.3 105.2 L569.8 104.7 M677.8 505.2 L678.0 502.2 M678.5 496.7 L678.8 493.8 L679.0 491.8 M679.5 486.3 L679.8 483.3 L680.0 481.4 M680.5 475.4 L680.8 472.4 L681.0 470.5 M681.5 465.0 L681.8 462.0 L682.0 459.6 M682.5 454.1 L682.7 451.1 L683.0 448.7 M683.4 443.2 L683.7 440.2 L683.9 437.8 M684.4 431.8 L684.7 428.8 L684.9 426.4 M685.3 420.9 L685.6 417.9 L685.8 415.5 M686.2 409.5 L686.4 406.5 L686.6 403.6 M687.1 397.6 L687.3 394.6 L687.4 392.2 M687.8 386.2 L688.0 383.2 L688.1 380.3 M688.5 374.3 L688.6 371.3 L688.7 368.4 M689.0 361.9 L689.1 359.0 L689.2 356.0 M689.4 349.5 L689.5 346.6 L689.5 343.6 M689.6 337.2 L689.7 334.2 L689.7 331.2 M689.6 324.8 L689.6 321.8 L689.6 318.8 L689.6 318.3 M689.4 311.9 L689.3 308.9 L689.2 305.9 L689.2 305.4 M688.8 299.0 L688.7 296.0 L688.5 293.0 L688.4 292.5 M687.9 285.6 L687.6 282.6 L687.4 279.7 L687.3 279.2 M686.5 272.2 L686.2 269.3 L685.8 266.3 L685.7 265.8 M684.7 258.9 L684.2 255.9 L683.6 252.9 L683.5 251.9 M682.1 245.0 L681.5 242.0 L680.8 239.0 L680.6 238.0 M678.8 231.1 L678.0 228.1 L677.2 225.2 L676.9 224.2 M674.8 217.2 L673.8 214.2 L672.7 211.3 L672.2 209.8 M669.6 202.8 L668.4 199.9 L667.1 196.9 L666.5 195.4 M663.1 188.0 L661.6 185.0 L660.1 182.0 L659.3 180.5 M655.2 173.1 L653.5 170.1 L651.7 167.2 L650.8 165.7 M646.1 158.2 L644.1 155.3 L642.0 152.3 L640.6 150.3 M635.1 142.9 L632.9 139.9 L630.5 136.9 L628.9 135.0 M622.4 127.0 L619.8 124.1 L617.3 121.1 L616.0 119.6 M608.4 111.2 L605.6 108.2 L602.8 105.2 L601.0 103.2 M593.4 95.3 L590.5 92.3 L587.6 89.4 L587.2 88.9 M685.1 505.2 L685.4 502.2 M686.0 496.7 L686.3 493.8 L686.5 491.8 M687.1 486.3 L687.4 483.3 L687.6 481.4 M688.3 475.4 L688.6 472.4 L688.8 470.5 M689.4 465.0 L689.7 462.0 L690.0 459.6 M690.6 454.1 L690.9 451.1 L691.1 448.7 M691.7 443.2 L692.0 440.2 L692.3 437.8 M692.9 431.8 L693.2 428.8 L693.5 426.4 M694.0 420.9 L694.3 417.9 L694.6 415.5 M695.2 409.5 L695.4 406.5 L695.7 403.6 M696.3 397.6 L696.6 394.6 L696.8 392.2 M697.3 386.2 L697.5 383.2 L697.8 380.3 M698.3 374.3 L698.5 371.3 L698.7 368.4 M699.2 361.9 L699.4 359.0 L699.6 356.0 M700.0 349.5 L700.2 346.6 L700.3 343.6 M700.6 337.2 L700.8 334.2 L700.9 331.2 M701.1 324.8 L701.2 321.8 L701.3 318.8 L701.3 318.3 M701.4 311.9 L701.4 308.9 L701.4 305.9 L701.4 305.4 M701.4 299.0 L701.4 296.0 L701.3 293.0 L701.3 292.5 M701.2 285.6 L701.1 282.6 L700.9 279.7 L700.9 279.2 M700.5 272.2 L700.3 269.3 L700.1 266.3 L700.1 265.8 M699.5 258.9 L699.2 255.9 L698.9 252.9 L698.8 251.9 M697.9 245.0 L697.5 242.0 L697.1 239.0 L696.9 238.0 M695.7 231.1 L695.2 228.1 L694.6 225.2 L694.4 224.2 M692.9 217.2 L692.2 214.2 L691.4 211.3 L691.0 209.8 M689.1 202.8 L688.2 199.9 L687.2 196.9 L686.8 195.4 M684.2 188.0 L683.0 185.0 L681.9 182.0 L681.3 180.5 M678.1 173.1 L676.7 170.1 L675.3 167.2 L674.6 165.7 M670.7 158.2 L669.1 155.3 L667.4 152.3 L666.2 150.3 M661.7 142.9 L659.8 139.9 L657.8 136.9 L656.4 135.0 M650.8 127.0 L648.6 124.1 L646.3 121.1 L645.1 119.6 M638.4 111.2 L635.9 108.2 L633.4 105.2 L631.6 103.2 M624.6 95.3 L621.9 92.3 L619.2 89.4 L617.4 87.4 M609.4 79.0 L607.6 77.0 M691.9 505.2 L692.3 502.2 M692.9 496.7 L693.3 493.8 L693.5 491.8 M694.2 486.3 L694.5 483.3 L694.8 481.4 M695.5 475.4 L695.8 472.4 L696.1 470.5 M696.7 465.0 L697.1 462.0 L697.4 459.6 M698.1 454.1 L698.4 451.1 L698.7 448.7 M699.4 443.2 L699.8 440.2 L700.1 437.8 M700.8 431.8 L701.1 428.8 L701.4 426.4 M702.1 420.9 L702.4 417.9 L702.7 415.5 M703.4 409.5 L703.8 406.5 L704.1 403.6 M704.8 397.6 L705.1 394.6 L705.4 392.2 M706.0 386.2 L706.4 383.2 L706.7 380.3 M707.3 374.3 L707.6 371.3 L707.9 368.4 M708.5 361.9 L708.8 359.0 L709.1 356.0 M709.6 349.5 L709.9 346.6 L710.1 343.6 M710.7 337.2 L710.9 334.2 L711.1 331.2 M711.5 324.8 L711.7 321.8 L711.9 318.8 L711.9 318.3 M712.3 311.9 L712.4 308.9 L712.5 305.9 L712.6 305.4 M712.8 299.0 L712.9 296.0 L713.0 293.0 L713.0 292.5 M713.1 285.6 L713.1 282.6 L713.2 279.7 L713.2 279.2 M713.1 272.2 L713.1 269.3 L713.0 266.3 L713.0 265.8 M712.8 258.9 L712.7 255.9 L712.5 252.9 L712.5 251.9 M712.0 245.0 L711.8 242.0 L711.6 239.0 L711.5 238.0 M710.8 231.1 L710.4 228.1 L710.1 225.2 L709.9 224.2 M708.9 217.2 L708.5 214.2 L708.0 211.3 L707.7 209.8 M706.3 202.8 L705.7 199.9 L705.0 196.9 L704.7 195.4 M702.8 188.0 L702.0 185.0 L701.1 182.0 L700.7 180.5 M698.2 173.1 L697.2 170.1 L696.1 167.2 L695.5 165.7 M692.5 158.2 L691.3 155.3 L689.9 152.3 L689.0 150.3 M685.3 142.9 L683.8 139.9 L682.2 136.9 L681.1 135.0 M676.4 127.0 L674.5 124.1 L672.6 121.1 L671.6 119.6 M665.8 111.2 L663.6 108.2 L661.4 105.2 L659.9 103.2 M653.7 95.3 L651.2 92.3 L648.8 89.4 L647.1 87.4 M639.8 79.0 L637.1 76.0 L634.4 73.0 M698.3 505.2 L698.7 502.2 M699.4 496.7 L699.8 493.8 L700.1 491.8 M700.8 486.3 L701.2 483.3 L701.4 481.4 M702.2 475.4 L702.6 472.4 L702.9 470.5 M703.6 465.0 L704.0 462.0 L704.3 459.6 M705.1 454.1 L705.5 451.1 L705.8 448.7 M706.6 443.2 L707.0 440.2 L707.3 437.8 M708.1 431.8 L708.5 428.8 L708.8 426.4 M709.6 420.9 L710.0 417.9 L710.3 415.5 M711.1 409.5 L711.5 406.5 L711.9 403.6 M712.7 397.6 L713.0 394.6 L713.4 392.2 M714.1 386.2 L714.5 383.2 L714.9 380.3 M715.6 374.3 L716.0 371.3 L716.3 368.4 M717.1 361.9 L717.5 359.0 L717.8 356.0 M718.5 349.5 L718.9 346.6 L719.2 343.6 M719.9 337.2 L720.2 334.2 L720.5 331.2 M721.1 324.8 L721.3 321.8 L721.6 318.8 L721.7 318.3 M722.2 311.9 L722.4 308.9 L722.7 305.9 L722.7 305.4 M723.2 299.0 L723.4 296.0 L723.5 293.0 L723.6 292.5 M724.0 285.6 L724.1 282.6 L724.2 279.7 L724.3 279.2 M724.5 272.2 L724.6 269.3 L724.7 266.3 L724.7 265.8 M724.8 258.9 L724.8 255.9 L724.8 252.9 L724.8 251.9 M724.7 245.0 L724.6 242.0 L724.6 239.0 L724.5 238.0 M724.2 231.1 L724.1 228.1 L723.9 225.2 L723.8 224.2 M723.3 217.2 L723.0 214.2 L722.7 211.3 L722.5 209.8 M721.7 202.8 L721.3 199.9 L720.8 196.9 L720.6 195.4 M719.3 188.0 L718.7 185.0 L718.1 182.0 L717.8 180.5 M716.1 173.1 L715.3 170.1 L714.5 167.2 L714.1 165.7 M711.9 158.2 L710.9 155.3 L709.9 152.3 L709.2 150.3 M706.3 142.9 L705.1 139.9 L703.8 136.9 L702.9 135.0 M699.2 127.0 L697.7 124.1 L696.1 121.1 L695.3 119.6 M690.5 111.2 L688.7 108.2 L686.8 105.2 L685.6 103.2 M680.2 95.3 L678.1 92.3 L675.9 89.4 L674.5 87.4 M668.0 79.0 L665.6 76.0 L663.1 73.0 M704.4 505.2 L704.8 502.2 M705.5 496.7 L705.9 493.8 L706.2 491.8 M707.0 486.3 L707.4 483.3 L707.7 481.4 M708.5 475.4 L709.0 472.4 L709.2 470.5 M710.0 465.0 L710.5 462.0 L710.8 459.6 M711.6 454.1 L712.1 451.1 L712.4 448.7 M713.2 443.2 L713.7 440.2 L714.0 437.8 M714.9 431.8 L715.4 428.8 L715.7 426.4 M716.5 420.9 L717.0 417.9 L717.3 415.5 M718.2 409.5 L718.7 406.5 L719.1 403.6 M720.0 397.6 L720.4 394.6 L720.8 392.2 M721.6 386.2 L722.1 383.2 L722.5 380.3 M723.3 374.3 L723.8 371.3 L724.2 368.4 M725.1 361.9 L725.5 359.0 L725.9 356.0 M726.7 349.5 L727.1 346.6 L727.5 343.6 M728.3 337.2 L728.7 334.2 L729.1 331.2 M729.8 324.8 L730.2 321.8 L730.5 318.8 L730.6 318.3 M731.3 311.9 L731.6 308.9 L731.9 305.9 L732.0 305.4 M732.6 299.0 L732.9 296.0 L733.2 293.0 L733.2 292.5 M733.9 285.6 L734.1 282.6 L734.3 279.7 L734.4 279.2 M734.9 272.2 L735.1 269.3 L735.2 266.3 L735.3 265.8 M735.6 258.9 L735.8 255.9 L735.9 252.9 L735.9 251.9 M736.2 245.0 L736.2 242.0 L736.3 239.0 L736.3 238.0 M736.3 231.1 L736.3 228.1 L736.3 225.2 L736.3 224.2 M736.1 217.2 L736.0 214.2 L735.9 211.3 L735.8 209.8 M735.4 202.8 L735.2 199.9 L734.9 196.9 L734.8 195.4 M734.0 188.0 L733.7 185.0 L733.3 182.0 L733.1 180.5 M731.9 173.1 L731.4 170.1 L730.9 167.2 L730.6 165.7 M729.0 158.2 L728.3 155.3 L727.6 152.3 L727.0 150.3 M724.9 142.9 L724.0 139.9 L723.0 136.9 L722.4 135.0 M719.5 127.0 L718.3 124.1 L717.1 121.1 L716.4 119.6 M712.6 111.2 L711.1 108.2 L709.6 105.2 L708.6 103.2 M704.2 95.3 L702.4 92.3 L700.6 89.4 L699.3 87.4 M693.8 79.0 L691.7 76.0 L689.6 73.0 M710.0 505.2 L710.5 502.2 M711.3 496.7 L711.7 493.8 L712.0 491.8 M712.8 486.3 L713.3 483.3 L713.6 481.4 M714.5 475.4 L714.9 472.4 L715.2 470.5 M716.1 465.0 L716.5 462.0 L716.9 459.6 M717.8 454.1 L718.2 451.1 L718.6 448.7 M719.5 443.2 L720.0 440.2 L720.4 437.8 M721.3 431.8 L721.8 428.8 L722.2 426.4 M723.1 420.9 L723.5 417.9 L723.9 415.5 M724.9 409.5 L725.4 406.5 L725.8 403.6 M726.8 397.6 L727.3 394.6 L727.7 392.2 M728.6 386.2 L729.1 383.2 L729.6 380.3 M730.5 374.3 L731.0 371.3 L731.4 368.4 M732.4 361.9 L732.9 359.0 L733.4 356.0 M734.3 349.5 L734.8 346.6 L735.2 343.6 M736.2 337.2 L736.6 334.2 L737.0 331.2 M737.9 324.8 L738.4 321.8 L738.8 318.8 L738.8 318.3 M739.7 311.9 L740.1 308.9 L740.5 305.9 L740.5 305.4 M741.4 299.0 L741.7 296.0 L742.1 293.0 L742.1 292.5 M742.9 285.6 L743.3 282.6 L743.6 279.7 L743.6 279.2 M744.3 272.2 L744.6 269.3 L744.9 266.3 L744.9 265.8 M745.6 258.9 L745.8 255.9 L746.0 252.9 L746.1 251.9 M746.6 245.0 L746.8 242.0 L746.9 239.0 L747.0 238.0 M747.3 231.1 L747.4 228.1 L747.5 225.2 L747.6 224.2 M747.7 217.2 L747.7 214.2 L747.8 211.3 L747.8 209.8 M747.7 202.8 L747.7 199.9 L747.6 196.9 L747.5 195.4 M747.2 188.0 L747.0 185.0 L746.8 182.0 L746.7 180.5 M746.1 173.1 L745.8 170.1 L745.4 167.2 L745.2 165.7 M744.2 158.2 L743.8 155.3 L743.3 152.3 L742.9 150.3 M741.4 142.9 L740.8 139.9 L740.1 136.9 L739.6 135.0 M737.5 127.0 L736.6 124.1 L735.7 121.1 L735.2 119.6 M732.3 111.2 L731.1 108.2 L729.9 105.2 L729.1 103.2 M725.6 95.3 L724.2 92.3 L722.7 89.4 L721.7 87.4 M717.1 79.0 L715.3 76.0 L713.5 73.0 M715.4 505.2 L715.9 502.2 M716.7 496.7 L717.2 493.8 L717.5 491.8 M718.3 486.3 L718.8 483.3 L719.1 481.4 M720.1 475.4 L720.5 472.4 L720.9 470.5 M721.7 465.0 L722.2 462.0 L722.6 459.6 M723.5 454.1 L724.0 451.1 L724.5 448.7 M725.4 443.2 L725.9 440.2 L726.3 437.8 M727.3 431.8 L727.8 428.8 L728.2 426.4 M729.2 420.9 L729.7 417.9 L730.1 415.5 M731.1 409.5 L731.6 406.5 L732.2 403.6 M733.2 397.6 L733.7 394.6 L734.1 392.2 M735.2 386.2 L735.7 383.2 L736.2 380.3 M737.2 374.3 L737.7 371.3 L738.2 368.4 M739.3 361.9 L739.8 359.0 L740.3 356.0 M741.4 349.5 L741.9 346.6 L742.4 343.6 M743.5 337.2 L743.9 334.2 L744.4 331.2 M745.5 324.8 L745.9 321.8 L746.4 318.8 L746.5 318.3 M747.5 311.9 L747.9 308.9 L748.4 305.9 L748.4 305.4 M749.4 299.0 L749.8 296.0 L750.3 293.0 L750.3 292.5 M751.3 285.6 L751.7 282.6 L752.1 279.7 L752.2 279.2 M753.0 272.2 L753.4 269.3 L753.8 266.3 L753.8 265.8 M754.6 258.9 L755.0 255.9 L755.3 252.9 L755.4 251.9 M756.1 245.0 L756.4 242.0 L756.7 239.0 L756.7 238.0 M757.3 231.1 L757.5 228.1 L757.8 225.2 L757.8 224.2 M758.3 217.2 L758.4 214.2 L758.6 211.3 L758.6 209.8 M758.9 202.8 L759.0 199.9 L759.0 196.9 L759.0 195.4 M759.1 188.0 L759.1 185.0 L759.0 182.0 L759.0 180.5 M758.8 173.1 L758.7 170.1 L758.5 167.2 L758.4 165.7 M757.9 158.2 L757.6 155.3 L757.3 152.3 L757.1 150.3 M756.2 142.9 L755.8 139.9 L755.3 136.9 L755.0 135.0 M753.5 127.0 L752.9 124.1 L752.2 121.1 L751.9 119.6 M749.7 111.2 L748.9 108.2 L748.0 105.2 L747.4 103.2 M744.7 95.3 L743.6 92.3 L742.4 89.4 L741.6 87.4 M738.0 79.0 L736.6 76.0 L735.1 73.0 M720.5 505.2 L720.9 502.2 M721.8 496.7 L722.3 493.8 L722.6 491.8 M723.5 486.3 L724.0 483.3 L724.3 481.4 M725.3 475.4 L725.8 472.4 L726.2 470.5 M727.1 465.0 L727.6 462.0 L728.0 459.6 M729.0 454.1 L729.5 451.1 L730.0 448.7 M730.9 443.2 L731.4 440.2 L731.9 437.8 M733.0 431.8 L733.5 428.8 L733.9 426.4 M734.9 420.9 L735.5 417.9 L735.9 415.5 M737.0 409.5 L737.5 406.5 L738.1 403.6 M739.2 397.6 L739.7 394.6 L740.2 392.2 M741.3 386.2 L741.8 383.2 L742.4 380.3 M743.5 374.3 L744.0 371.3 L744.6 368.4 M745.8 361.9 L746.3 359.0 L746.8 356.0 M748.0 349.5 L748.6 346.6 L749.1 343.6 M750.2 337.2 L750.8 334.2 L751.3 331.2 M752.4 324.8 L753.0 321.8 L753.5 318.8 L753.6 318.3 M754.7 311.9 L755.2 308.9 L755.7 305.9 L755.8 305.4 M756.9 299.0 L757.3 296.0 L757.8 293.0 L757.9 292.5 M759.0 285.6 L759.5 282.6 L760.0 279.7 L760.0 279.2 M761.1 272.2 L761.5 269.3 L762.0 266.3 L762.0 265.8 M763.0 258.9 L763.4 255.9 L763.8 252.9 L763.9 251.9 M764.8 245.0 L765.2 242.0 L765.6 239.0 L765.7 238.0 M766.5 231.1 L766.8 228.1 L767.1 225.2 L767.2 224.2 M767.9 217.2 L768.1 214.2 L768.4 211.3 L768.5 209.8 M769.0 202.8 L769.2 199.9 L769.4 196.9 L769.5 195.4 M769.9 188.0 L770.0 185.0 L770.1 182.0 L770.1 180.5 M770.3 173.1 L770.3 170.1 L770.3 167.2 L770.3 165.7 M770.2 158.2 L770.1 155.3 L770.0 152.3 L769.9 150.3 M769.4 142.9 L769.2 139.9 L768.9 136.9 L768.7 135.0 M767.8 127.0 L767.5 124.1 L767.0 121.1 L766.8 119.6 M765.3 111.2 L764.7 108.2 L764.1 105.2 L763.7 103.2 M761.7 95.3 L760.9 92.3 L760.0 89.4 L759.4 87.4 M756.6 79.0 L755.5 76.0 L754.4 73.0 M725.3 505.2 L725.8 502.2 M726.7 496.7 L727.2 493.8 L727.5 491.8 M728.4 486.3 L728.9 483.3 L729.3 481.4 M730.3 475.4 L730.9 472.4 L731.2 470.5 M732.2 465.0 L732.7 462.0 L733.2 459.6 M734.1 454.1 L734.7 451.1 L735.1 448.7 M736.1 443.2 L736.7 440.2 L737.2 437.8 M738.3 431.8 L738.8 428.8 L739.3 426.4 M740.3 420.9 L740.9 417.9 L741.4 415.5 M742.5 409.5 L743.1 406.5 L743.7 403.6 M744.8 397.6 L745.4 394.6 L745.9 392.2 M747.0 386.2 L747.6 383.2 L748.2 380.3 M749.4 374.3 L749.9 371.3 L750.5 368.4 M751.8 361.9 L752.4 359.0 L752.9 356.0 M754.2 349.5 L754.8 346.6 L755.4 343.6 M756.6 337.2 L757.2 334.2 L757.7 331.2 M759.0 324.8 L759.5 321.8 L760.1 318.8 L760.2 318.3 M761.4 311.9 L762.0 308.9 L762.5 305.9 L762.6 305.4 M763.8 299.0 L764.3 296.0 L764.9 293.0 L765.0 292.5 M766.2 285.6 L766.7 282.6 L767.3 279.7 L767.3 279.2 M768.5 272.2 L769.0 269.3 L769.5 266.3 L769.6 265.8 M770.8 258.9 L771.2 255.9 L771.7 252.9 L771.9 251.9 M772.9 245.0 L773.4 242.0 L773.8 239.0 L773.9 238.0 M774.9 231.1 L775.3 228.1 L775.7 225.2 L775.8 224.2 M776.7 217.2 L777.1 214.2 L777.4 211.3 L777.6 209.8 M778.3 202.8 L778.6 199.9 L778.9 196.9 L779.1 195.4 M779.7 188.0 L779.9 185.0 L780.2 182.0 L780.3 180.5 M780.7 173.1 L780.9 170.1 L781.0 167.2 L781.1 165.7 M781.3 158.2 L781.3 155.3 L781.4 152.3 L781.4 150.3 M781.3 142.9 L781.3 139.9 L781.2 136.9 L781.1 135.0 M780.7 127.0 L780.5 124.1 L780.3 121.1 L780.2 119.6 M779.3 111.2 L778.9 108.2 L778.5 105.2 L778.2 103.2 M776.9 95.3 L776.3 92.3 L775.7 89.4 L775.3 87.4 M773.2 79.0 L772.4 76.0 L771.6 73.0 M729.8 505.2 L730.3 502.2 M731.3 496.7 L731.8 493.8 L732.1 491.8 M733.1 486.3 L733.6 483.3 L734.0 481.4 M735.1 475.4 L735.6 472.4 L736.0 470.5 M737.0 465.0 L737.5 462.0 L738.0 459.6 M739.0 454.1 L739.6 451.1 L740.1 448.7 M741.1 443.2 L741.7 440.2 L742.2 437.8 M743.3 431.8 L743.9 428.8 L744.4 426.4 M745.5 420.9 L746.1 417.9 L746.5 415.5 M747.7 409.5 L748.3 406.5 L748.9 403.6 M750.1 397.6 L750.7 394.6 L751.2 392.2 M752.5 386.2 L753.1 383.2 L753.7 380.3 M754.9 374.3 L755.5 371.3 L756.1 368.4 M757.5 361.9 L758.1 359.0 L758.7 356.0 M760.0 349.5 L760.6 346.6 L761.2 343.6 M762.6 337.2 L763.2 334.2 L763.8 331.2 M765.1 324.8 L765.7 321.8 L766.3 318.8 L766.4 318.3 M767.7 311.9 L768.3 308.9 L768.9 305.9 L769.0 305.4 M770.3 299.0 L770.9 296.0 L771.5 293.0 L771.6 292.5 M772.9 285.6 L773.5 282.6 L774.1 279.7 L774.2 279.2 M775.5 272.2 L776.0 269.3 L776.6 266.3 L776.7 265.8 M777.9 258.9 L778.5 255.9 L779.0 252.9 L779.2 251.9 M780.4 245.0 L780.9 242.0 L781.4 239.0 L781.6 238.0 M782.7 231.1 L783.2 228.1 L783.7 225.2 L783.8 224.2 M784.9 217.2 L785.3 214.2 L785.7 211.3 L785.9 209.8 M786.9 202.8 L787.3 199.9 L787.7 196.9 L787.9 195.4 M788.7 188.0 L789.1 185.0 L789.4 182.0 L789.5 180.5 M790.3 173.1 L790.5 170.1 L790.8 167.2 L790.9 165.7 M791.4 158.2 L791.6 155.3 L791.8 152.3 L791.9 150.3 M792.2 142.9 L792.2 139.9 L792.3 136.9 L792.3 135.0 M792.4 127.0 L792.3 124.1 L792.3 121.1 L792.2 119.6 M791.8 111.2 L791.7 108.2 L791.5 105.2 L791.3 103.2 M790.5 95.3 L790.2 92.3 L789.8 89.4 L789.5 87.4 M788.1 79.0 L787.6 76.0 L787.0 73.0 M734.2 505.2 L734.7 502.2 M735.7 496.7 L736.2 493.8 L736.6 491.8 M737.5 486.3 L738.1 483.3 L738.5 481.4 M739.6 475.4 L740.1 472.4 L740.5 470.5 M741.5 465.0 L742.1 462.0 L742.6 459.6 M743.6 454.1 L744.2 451.1 L744.7 448.7 M745.8 443.2 L746.4 440.2 L746.9 437.8 M748.1 431.8 L748.7 428.8 L749.2 426.4 M750.3 420.9 L750.9 417.9 L751.4 415.5 M752.7 409.5 L753.3 406.5 L753.9 403.6 M755.2 397.6 L755.8 394.6 L756.3 392.2 M757.6 386.2 L758.2 383.2 L758.9 380.3 M760.1 374.3 L760.8 371.3 L761.4 368.4 M762.8 361.9 L763.4 359.0 L764.1 356.0 M765.5 349.5 L766.1 346.6 L766.8 343.6 M768.2 337.2 L768.8 334.2 L769.4 331.2 M770.8 324.8 L771.5 321.8 L772.1 318.8 L772.2 318.3 M773.6 311.9 L774.2 308.9 L774.9 305.9 L775.0 305.4 M776.4 299.0 L777.0 296.0 L777.6 293.0 L777.7 292.5 M779.2 285.6 L779.8 282.6 L780.4 279.7 L780.5 279.2 M781.9 272.2 L782.5 269.3 L783.2 266.3 L783.3 265.8 M784.6 258.9 L785.2 255.9 L785.8 252.9 L786.0 251.9 M787.3 245.0 L787.9 242.0 L788.5 239.0 L788.7 238.0 M789.9 231.1 L790.5 228.1 L791.0 225.2 L791.2 224.2 M792.4 217.2 L792.9 214.2 L793.4 211.3 L793.7 209.8 M794.8 202.8 L795.3 199.9 L795.7 196.9 L795.9 195.4 M797.0 188.0 L797.5 185.0 L797.9 182.0 L798.1 180.5 M799.0 173.1 L799.4 170.1 L799.7 167.2 L799.9 165.7 M800.7 158.2 L801.0 155.3 L801.3 152.3 L801.4 150.3 M802.0 142.9 L802.2 139.9 L802.4 136.9 L802.5 135.0 M802.9 127.0 L803.0 124.1 L803.1 121.1 L803.1 119.6 M803.2 111.2 L803.2 108.2 L803.2 105.2 L803.1 103.2 M802.8 95.3 L802.6 92.3 L802.5 89.4 L802.3 87.4 M801.5 79.0 L801.2 76.0 L800.8 73.0" stroke="#00ff00"/>
</g>
<g fill="none" shape-rendering="crispEdges" stroke-linejoin="round">
<path d="M426.3 245.5 L447.1 245.5 M430.5 256.5 L458.6 256.5 M434.3 266.5 L468.6 266.5 M437.9 275.5 L477.6 275.5 M446.6 284.5 L486.4 284.5 M454.4 292.5 L493.2 292.5 M463.1 301.5 L500.9 301.5 M469.8 308.5 L507.1 308.5 M477.4 316.5 L514.3 316.5 M484.1 323.5 L520.5 323.5 M490.8 330.5 L526.3 330.5 M496.5 336.5 L529.6 336.5 M505.1 343.5 L533.7 343.5 M512.3 349.5 L538.2 349.5 M518.4 355.5 L541.6 355.5 M524.6 361.5 L544.7 361.5 M529.7 366.5 L547.3 366.5 M534.3 372.5 L550.3 372.5 M537.5 377.5 L552.7 377.5 M540.6 382.5 L555.1 382.5 M543.8 387.5 L557.4 387.5 M546.8 392.5 L559.6 392.5 M549.9 397.5 L561.8 397.5 M552.0 401.5 L563.5 401.5 M553.3 406.5 L565.4 406.5 M554.3 410.5 L566.7 410.5 M554.9 415.5 L568.0 415.5 M555.4 419.5 L569.0 419.5 M555.9 423.5 L570.6 423.5 M556.4 427.5 L572.1 427.5 M557.5 431.5 L573.6 431.5 M557.5 435.5 L574.6 435.5 M557.5 438.5 L575.4 438.5 M557.5 442.5 L576.3 442.5 M557.5 446.5 L577.3 446.5 M557.5 449.5 L578.1 449.5 M557.5 453.5 L579.0 453.5 M557.5 456.5 L579.6 456.5 M557.5 459.5 L580.1 459.5 M557.5 463.5 L580.9 463.5 M558.3 466.5 L581.4 466.5 M560.6 469.5 L582.0 469.5 M563.0 472.5 L582.5 472.5 M565.3 475.5 L583.1 475.5 M567.6 478.5 L583.4 478.5 M571.1 481.5 L583.6 481.5 M576.9 484.5 L583.9 484.5 M582.8 487.5 L584.1 487.5" stroke="#4b0082" stroke-width="1"/>
<path d="M289.5 74.5 L307.4 95.9 L334.7 131.8 L362.0 162.0 L397.9 201.7 L417.4 219.5 L427.6 228.8 L455.0 254.7 L483.7 283.4 L499.5 302.0 L512.4 316.4 L523.9 329.4 L531.0 342.3 L537.4 350.9 L546.2 367.8 L554.3 384.6 L560.7 399.0 L564.7 409.5 L567.1 419.2 L571.8 431.4 L577.1 452.9 L581.4 476.1 L582.5 490.0 L603.0 499.3" stroke="#4b0082" stroke-width="1.6"/>
<path d="M370.6 74.5 L362.5 111.7 L355.6 137.6 L354.2 149.0 L355.6 200.8 L359.7 219.5 L361.5 224.5 L366.4 275.3 L369.3 296.3 L371.6 327.4 L373.0 340.0 L375.5 368.8 L397.5 388.8 L412.5 401.8 L437.5 412.5 L456.3 421.3 L477.5 431.3 L497.5 442.5 L512.5 452.5 L520.0 457.3 L537.9 467.1 L558.4 480.5 L578.0 498.4" stroke="#0000ff" stroke-width="1.6"/>
<path d="M486.0 74.5 L458.2 134.7 L450.5 146.0 L433.8 201.7 L429.7 220.2 L425.1 242.3 L431.4 259.0 L437.7 275.3 L463.6 302.0 L496.6 336.6 L511.8 349.0 L531.8 368.6 L543.0 386.2 L551.8 400.7 L554.3 410.3 L556.5 428.0 L557.5 431.0 L557.5 465.4 L569.1 480.5 L581.4 486.8 L602.3 497.6" stroke="#ff0000" stroke-width="1.6"/>
<path d="M557.5 429 L557.5 466" stroke="#ff0000" stroke-width="3"/>
</g>
<g fill="none" stroke-width="0.99" shape-rendering="crispEdges">
<path d="M88.3 40.1 L83.9 52.3 M88.3 40.1 L92.6 52.3 M85.7 47.7 L91.6 47.7 M94.8 40.1 L94.8 52.3 M98.9 40.1 L98.9 52.3 M98.9 40.1 L103.4 40.1 L105.0 40.6 L105.5 41.1 L106.0 42.2 L106.0 43.3 L105.5 44.4 L105.0 45.0 L103.4 45.5 L98.1 45.5 M102.4 45.5 L106.4 52.2 M116.1 41.7 L115.1 40.6 L113.6 40.1 L111.5 40.1 L110.0 40.6 L109.0 41.7 L109.0 42.8 L109.5 43.9 L110.0 44.4 L111.0 45.0 L114.1 46.0 L115.1 46.6 L115.6 47.1 L116.1 48.2 L116.1 49.9 L115.1 51.0 L113.6 51.5 L111.5 51.5 L110.0 51.0 L108.5 49.3 M134.3 41.7 L133.3 40.6 L131.8 40.1 L129.8 40.1 L128.2 40.6 L127.2 41.7 L127.2 42.8 L127.7 43.9 L128.2 44.4 L129.3 45.0 L132.3 46.0 L133.3 46.6 L133.8 47.1 L134.3 48.2 L134.3 49.9 L133.3 51.0 L131.8 51.5 L129.8 51.5 L128.2 51.0 L126.7 49.3 M137.9 40.1 L137.9 52.3 M142.9 43.9 L137.3 49.9 M139.9 47.1 L143.9 52.1 M146.0 47.1 L152.0 47.1 L152.0 46.0 L151.5 45.0 L151.0 44.4 L150.0 43.9 L148.5 43.9 L147.5 44.4 L146.5 45.5 L146.0 47.1 L146.0 48.2 L146.5 49.9 L147.5 51.0 L148.5 51.5 L150.0 51.5 L151.0 51.0 L152.6 49.3 M155.1 43.9 L157.3 52.3 M159.1 43.9 L156.9 52.3 M159.1 43.9 L161.4 52.3 M163.2 43.9 L161.0 52.3 M168.8 40.1 L168.8 52.3 M165.2 40.1 L173.1 40.1 M182.9 40.1 L182.9 52.3 M182.9 40.1 L186.5 40.1 L188.0 40.6 L189.0 41.7 L189.5 42.8 L190.0 44.4 L190.0 47.1 L189.5 48.8 L189.0 49.9 L188.0 51.0 L186.5 51.5 L182.1 51.5 M193.0 40.5 L194.2 40.5 M193.6 43.9 L193.6 52.3 M203.2 43.9 L203.2 52.3 M203.2 45.5 L202.2 44.4 L201.2 43.9 L199.6 43.9 L198.6 44.4 L197.6 45.5 L197.1 47.1 L197.1 48.2 L197.6 49.9 L198.6 51.0 L199.6 51.5 L201.2 51.5 L202.2 51.0 L203.7 49.3 M212.8 43.9 L212.8 52.6 L212.3 54.2 L211.8 54.8 L210.8 55.3 L209.3 55.3 L207.5 54.4 M212.8 45.5 L211.8 44.4 L210.8 43.9 L209.3 43.9 L208.2 44.4 L207.2 45.5 L206.7 47.1 L206.7 48.2 L207.2 49.9 L208.2 51.0 L209.3 51.5 L210.8 51.5 L211.8 51.0 L213.3 49.3 M216.9 43.9 L216.9 52.3 M216.9 47.1 L217.4 45.5 L218.4 44.4 L219.4 43.9 L221.7 43.9 M229.0 43.9 L229.0 52.3 M229.0 45.5 L228.0 44.4 L227.0 43.9 L225.5 43.9 L224.4 44.4 L223.4 45.5 L222.9 47.1 L222.9 48.2 L223.4 49.9 L224.4 51.0 L225.5 51.5 L227.0 51.5 L228.0 51.0 L229.5 49.3 M233.1 43.9 L233.1 52.3 M233.1 46.0 L234.6 44.4 L235.6 43.9 L237.1 43.9 L238.1 44.4 L238.6 46.0 L238.6 52.3 M238.6 46.0 L240.1 44.4 L241.2 43.9 L242.7 43.9 L243.7 44.4 L244.2 46.0 L244.2 52.3 M256.3 42.8 L256.3 42.2 L256.8 41.1 L257.4 40.6 L258.4 40.1 L260.4 40.1 L261.4 40.6 L261.9 41.1 L262.4 42.2 L262.4 43.3 L261.9 44.4 L260.9 46.0 L255.8 51.5 L263.7 51.5 M269.0 40.1 L267.5 40.6 L266.5 42.2 L266.0 45.0 L266.0 46.6 L266.5 49.3 L267.5 51.0 L269.0 51.5 L270.0 51.5 L271.5 51.0 L272.5 49.3 L273.0 46.6 L273.0 45.0 L272.5 42.2 L271.5 40.6 L270.0 40.1 L269.0 40.1 M277.6 42.2 L278.6 41.7 L280.1 40.1 L280.1 52.3 M289.3 40.1 L287.7 40.6 L286.7 42.2 L286.2 45.0 L286.2 46.6 L286.7 49.3 L287.7 51.0 L289.3 51.5 L290.3 51.5 L291.8 51.0 L292.8 49.3 L293.3 46.6 L293.3 45.0 L292.8 42.2 L291.8 40.6 L290.3 40.1 L289.3 40.1 M296.8 46.6 L306.8 46.6 M312.5 40.1 L311.0 40.6 L310.0 42.2 L309.5 45.0 L309.5 46.6 L310.0 49.3 L311.0 51.0 L312.5 51.5 L313.6 51.5 L315.1 51.0 L316.1 49.3 L316.6 46.6 L316.6 45.0 L316.1 42.2 L315.1 40.6 L313.6 40.1 L312.5 40.1 M322.2 40.1 L320.6 40.6 L320.1 41.7 L320.1 42.8 L320.6 43.9 L321.7 44.4 L323.7 45.0 L325.2 45.5 L326.2 46.6 L326.7 47.7 L326.7 49.3 L326.2 50.4 L325.7 51.0 L324.2 51.5 L322.2 51.5 L320.6 51.0 L320.1 50.4 L319.6 49.3 L319.6 47.7 L320.1 46.6 L321.1 45.5 L322.7 45.0 L324.7 44.4 L325.7 43.9 L326.2 42.8 L326.2 41.7 L325.7 40.6 L324.2 40.1 L322.2 40.1 M330.3 46.6 L340.2 46.6 M343.4 42.8 L343.4 42.2 L343.9 41.1 L344.4 40.6 L345.5 40.1 L347.5 40.1 L348.5 40.6 L349.0 41.1 L349.5 42.2 L349.5 43.3 L349.0 44.4 L348.0 46.0 L342.9 51.5 L350.8 51.5 M355.6 40.1 L354.1 40.6 L353.6 41.7 L353.6 42.8 L354.1 43.9 L355.1 44.4 L357.1 45.0 L358.6 45.5 L359.6 46.6 L360.1 47.7 L360.1 49.3 L359.6 50.4 L359.1 51.0 L357.6 51.5 L355.6 51.5 L354.1 51.0 L353.6 50.4 L353.0 49.3 L353.0 47.7 L353.6 46.6 L354.6 45.5 L356.1 45.0 L358.1 44.4 L359.1 43.9 L359.6 42.8 L359.6 41.7 L359.1 40.6 L357.6 40.1 L355.6 40.1 M371.8 37.9 L362.3 56.0 M377.3 40.1 L375.8 40.6 L374.8 42.2 L374.3 45.0 L374.3 46.6 L374.8 49.3 L375.8 51.0 L377.3 51.5 L378.4 51.5 L379.9 51.0 L380.9 49.3 L381.4 46.6 L381.4 45.0 L380.9 42.2 L379.9 40.6 L378.4 40.1 L377.3 40.1 M387.5 40.1 L386.0 40.6 L384.9 42.2 L384.4 45.0 L384.4 46.6 L384.9 49.3 L386.0 51.0 L387.5 51.5 L388.5 51.5 L390.0 51.0 L391.0 49.3 L391.5 46.6 L391.5 45.0 L391.0 42.2 L390.0 40.6 L388.5 40.1 L387.5 40.1 M395.0 44.5 L396.2 44.5 M395.0 50.5 L396.2 50.5 M401.1 42.2 L402.2 41.7 L403.7 40.1 L403.7 52.3 M416.3 41.7 L415.8 40.6 L414.3 40.1 L413.3 40.1 L411.8 40.6 L410.8 42.2 L410.3 45.0 L410.3 47.7 L410.8 49.9 L411.8 51.0 L413.3 51.5 L413.8 51.5 L415.3 51.0 L416.3 49.9 L416.8 48.2 L416.8 47.7 L416.3 46.0 L415.3 45.0 L413.8 44.4 L413.3 44.4 L411.8 45.0 L410.8 46.0 L410.0 48.4 M420.0 44.5 L421.2 44.5 M420.0 50.5 L421.2 50.5 M428.0 40.1 L426.5 40.6 L425.4 42.2 L424.9 45.0 L424.9 46.6 L425.4 49.3 L426.5 51.0 L428.0 51.5 L429.0 51.5 L430.5 51.0 L431.5 49.3 L432.0 46.6 L432.0 45.0 L431.5 42.2 L430.5 40.6 L429.0 40.1 L428.0 40.1 M440.1 40.1 L435.1 47.7 L443.5 47.7 M440.1 40.1 L440.1 52.3 M446.0 50.5 L447.2 50.5 M457.3 40.1 L452.0 52.2 M450.3 40.1 L458.1 40.1 M461.4 40.1 L467.0 40.1 L463.9 44.4 L465.4 44.4 L466.5 45.0 L467.0 45.5 L467.5 47.1 L467.5 48.2 L467.0 49.9 L466.0 51.0 L464.4 51.5 L462.9 51.5 L461.4 51.0 L460.9 50.4 L460.0 48.6 M482.7 37.9 L481.6 39.0 L480.6 40.6 L479.6 42.8 L479.1 45.5 L479.1 47.7 L479.6 50.4 L480.6 52.6 L481.6 54.2 L483.2 55.9 M486.2 40.1 L486.2 52.3 M486.2 51.5 L493.1 51.5 M500.4 43.9 L500.4 52.3 M500.4 45.5 L499.4 44.4 L498.4 43.9 L496.8 43.9 L495.8 44.4 L494.8 45.5 L494.3 47.1 L494.3 48.2 L494.8 49.9 L495.8 51.0 L496.8 51.5 L498.4 51.5 L499.4 51.0 L500.9 49.3 M504.9 40.1 L504.9 49.3 L505.4 51.0 L506.5 51.5 L508.3 51.5 M503.4 43.9 L507.8 43.9 M518.6 37.9 L509.1 56.0 M521.6 40.1 L521.6 52.3 M521.6 51.5 L528.5 51.5 M532.3 43.9 L531.3 44.4 L530.3 45.5 L529.7 47.1 L529.7 48.2 L530.3 49.9 L531.3 51.0 L532.3 51.5 L533.8 51.5 L534.8 51.0 L535.8 49.9 L536.3 48.2 L536.3 47.1 L535.8 45.5 L534.8 44.4 L533.8 43.9 L532.3 43.9 M539.9 43.9 L539.9 52.3 M539.9 46.0 L541.4 44.4 L542.4 43.9 L543.9 43.9 L544.9 44.4 L545.4 46.0 L545.4 52.3 M557.6 42.8 L557.6 42.2 L558.1 41.1 L558.6 40.6 L559.6 40.1 L561.6 40.1 L562.7 40.6 L563.2 41.1 L563.7 42.2 L563.7 43.3 L563.2 44.4 L562.1 46.0 L557.1 51.5 L565.0 51.5 M574.3 40.1 L568.9 52.2 M567.2 40.1 L575.1 40.1 M578.0 50.5 L579.2 50.5 M589.0 41.7 L588.5 40.6 L587.0 40.1 L585.9 40.1 L584.4 40.6 L583.4 42.2 L582.9 45.0 L582.9 47.7 L583.4 49.9 L584.4 51.0 L585.9 51.5 L586.4 51.5 L588.0 51.0 L589.0 49.9 L589.5 48.2 L589.5 47.7 L589.0 46.0 L588.0 45.0 L586.4 44.4 L585.9 44.4 L584.4 45.0 L583.4 46.0 L582.7 48.4 M598.6 40.1 L593.5 40.1 L593.0 45.0 L593.5 44.4 L595.1 43.9 L596.6 43.9 L598.1 44.4 L599.1 45.5 L599.6 47.1 L599.6 48.2 L599.1 49.9 L598.1 51.0 L596.6 51.5 L595.1 51.5 L593.5 51.0 L593.0 50.4 L592.2 48.6 M611.3 37.9 L601.8 56.0 M614.3 46.6 L624.2 46.6 M628.5 42.2 L629.5 41.7 L631.0 40.1 L631.0 52.3 M643.7 41.7 L643.2 40.6 L641.6 40.1 L640.6 40.1 L639.1 40.6 L638.1 42.2 L637.6 45.0 L637.6 47.7 L638.1 49.9 L639.1 51.0 L640.6 51.5 L641.1 51.5 L642.6 51.0 L643.7 49.9 L644.2 48.2 L644.2 47.7 L643.7 46.0 L642.6 45.0 L641.1 44.4 L640.6 44.4 L639.1 45.0 L638.1 46.0 L637.3 48.4 M652.3 40.1 L647.2 47.7 L655.6 47.7 M652.3 40.1 L652.3 52.3 M658.0 50.5 L659.2 50.5 M665.4 40.1 L663.9 40.6 L662.9 42.2 L662.4 45.0 L662.4 46.6 L662.9 49.3 L663.9 51.0 L665.4 51.5 L666.4 51.5 L668.0 51.0 L669.0 49.3 L669.5 46.6 L669.5 45.0 L669.0 42.2 L668.0 40.6 L666.4 40.1 L665.4 40.1 M675.1 40.1 L673.5 40.6 L673.0 41.7 L673.0 42.8 L673.5 43.9 L674.5 44.4 L676.6 45.0 L678.1 45.5 L679.1 46.6 L679.6 47.7 L679.6 49.3 L679.1 50.4 L678.6 51.0 L677.1 51.5 L675.1 51.5 L673.5 51.0 L673.0 50.4 L672.5 49.3 L672.5 47.7 L673.0 46.6 L674.0 45.5 L675.6 45.0 L677.6 44.4 L678.6 43.9 L679.1 42.8 L679.1 41.7 L678.6 40.6 L677.1 40.1 L675.1 40.1 M696.8 40.1 L696.8 52.3 M696.8 45.5 L695.8 44.4 L694.8 43.9 L693.3 43.9 L692.3 44.4 L691.3 45.5 L690.7 47.1 L690.7 48.2 L691.3 49.9 L692.3 51.0 L693.3 51.5 L694.8 51.5 L695.8 51.0 L697.4 49.3 M700.4 47.1 L706.4 47.1 L706.4 46.0 L705.9 45.0 L705.4 44.4 L704.4 43.9 L702.9 43.9 L701.9 44.4 L700.9 45.5 L700.4 47.1 L700.4 48.2 L700.9 49.9 L701.9 51.0 L702.9 51.5 L704.4 51.5 L705.4 51.0 L707.0 49.3 M715.6 43.9 L715.6 52.6 L715.0 54.2 L714.5 54.8 L713.5 55.3 L712.0 55.3 L710.3 54.4 M715.6 45.5 L714.5 44.4 L713.5 43.9 L712.0 43.9 L711.0 44.4 L710.0 45.5 L709.5 47.1 L709.5 48.2 L710.0 49.9 L711.0 51.0 L712.0 51.5 L713.5 51.5 L714.5 51.0 L716.1 49.3 M719.1 37.9 L720.1 39.0 L721.1 40.6 L722.1 42.8 L722.6 45.5 L722.6 47.7 L722.1 50.4 L721.1 52.6 L720.1 54.2 L718.6 55.9 M49.3 68.1 L50.0 67.7 L51.0 66.6 L51.0 74.9 M57.2 66.6 L56.2 67.0 L55.5 68.1 L55.2 69.8 L55.2 70.9 L55.5 72.7 L56.2 73.7 L57.2 74.1 L57.9 74.1 L59.0 73.7 L59.7 72.7 L60.0 70.9 L60.0 69.8 L59.7 68.1 L59.0 67.0 L57.9 66.6 L57.2 66.6 M64.1 66.6 L63.1 67.0 L62.4 68.1 L62.1 69.8 L62.1 70.9 L62.4 72.7 L63.1 73.7 L64.1 74.1 L64.8 74.1 L65.9 73.7 L66.6 72.7 L66.9 70.9 L66.9 69.8 L66.6 68.1 L65.9 67.0 L64.8 66.6 L64.1 66.6 M48.6 195.4 L48.6 195.1 L49.0 194.3 L49.3 194.0 L50.0 193.6 L51.4 193.6 L52.1 194.0 L52.4 194.3 L52.8 195.1 L52.8 195.8 L52.4 196.5 L51.7 197.5 L48.3 201.1 L53.9 201.1 M57.2 193.6 L56.2 194.0 L55.5 195.1 L55.2 196.8 L55.2 197.9 L55.5 199.7 L56.2 200.7 L57.2 201.1 L57.9 201.1 L59.0 200.7 L59.7 199.7 L60.0 197.9 L60.0 196.8 L59.7 195.1 L59.0 194.0 L57.9 193.6 L57.2 193.6 M64.1 193.6 L63.1 194.0 L62.4 195.1 L62.1 196.8 L62.1 197.9 L62.4 199.7 L63.1 200.7 L64.1 201.1 L64.8 201.1 L65.9 200.7 L66.6 199.7 L66.9 197.9 L66.9 196.8 L66.6 195.1 L65.9 194.0 L64.8 193.6 L64.1 193.6 M49.0 267.6 L52.8 267.6 L50.7 270.5 L51.7 270.5 L52.4 270.8 L52.8 271.2 L53.1 272.3 L53.1 273.0 L52.8 274.0 L52.1 274.7 L51.0 275.1 L50.0 275.1 L49.0 274.7 L48.6 274.4 L47.9 273.0 M57.2 267.6 L56.2 268.0 L55.5 269.1 L55.2 270.8 L55.2 271.9 L55.5 273.7 L56.2 274.7 L57.2 275.1 L57.9 275.1 L59.0 274.7 L59.7 273.7 L60.0 271.9 L60.0 270.8 L59.7 269.1 L59.0 268.0 L57.9 267.6 L57.2 267.6 M64.1 267.6 L63.1 268.0 L62.4 269.1 L62.1 270.8 L62.1 271.9 L62.4 273.7 L63.1 274.7 L64.1 275.1 L64.8 275.1 L65.9 274.7 L66.6 273.7 L66.9 271.9 L66.9 270.8 L66.6 269.1 L65.9 268.0 L64.8 267.6 L64.1 267.6 M51.7 319.6 L48.3 324.6 L54.2 324.6 M51.7 319.6 L51.7 327.9 M57.2 319.6 L56.2 320.0 L55.5 321.1 L55.2 322.8 L55.2 323.9 L55.5 325.7 L56.2 326.7 L57.2 327.1 L57.9 327.1 L59.0 326.7 L59.7 325.7 L60.0 323.9 L60.0 322.8 L59.7 321.1 L59.0 320.0 L57.9 319.6 L57.2 319.6 M64.1 319.6 L63.1 320.0 L62.4 321.1 L62.1 322.8 L62.1 323.9 L62.4 325.7 L63.1 326.7 L64.1 327.1 L64.8 327.1 L65.9 326.7 L66.6 325.7 L66.9 323.9 L66.9 322.8 L66.6 321.1 L65.9 320.0 L64.8 319.6 L64.1 319.6 M52.4 360.6 L49.0 360.6 L48.6 363.8 L49.0 363.5 L50.0 363.1 L51.0 363.1 L52.1 363.5 L52.8 364.2 L53.1 365.3 L53.1 366.0 L52.8 367.0 L52.1 367.7 L51.0 368.1 L50.0 368.1 L49.0 367.7 L48.6 367.4 L47.9 366.0 M57.2 360.6 L56.2 361.0 L55.5 362.1 L55.2 363.8 L55.2 364.9 L55.5 366.7 L56.2 367.7 L57.2 368.1 L57.9 368.1 L59.0 367.7 L59.7 366.7 L60.0 364.9 L60.0 363.8 L59.7 362.1 L59.0 361.0 L57.9 360.6 L57.2 360.6 M64.1 360.6 L63.1 361.0 L62.4 362.1 L62.1 363.8 L62.1 364.9 L62.4 366.7 L63.1 367.7 L64.1 368.1 L64.8 368.1 L65.9 367.7 L66.6 366.7 L66.9 364.9 L66.9 363.8 L66.6 362.1 L65.9 361.0 L64.8 360.6 L64.1 360.6 M52.8 394.7 L52.4 394.0 L51.4 393.6 L50.7 393.6 L49.7 394.0 L49.0 395.1 L48.6 396.8 L48.6 398.6 L49.0 400.0 L49.7 400.7 L50.7 401.1 L51.0 401.1 L52.1 400.7 L52.8 400.0 L53.1 399.0 L53.1 398.6 L52.8 397.5 L52.1 396.8 L51.0 396.5 L50.7 396.5 L49.7 396.8 L49.0 397.5 L48.4 399.4 M57.2 393.6 L56.2 394.0 L55.5 395.1 L55.2 396.8 L55.2 397.9 L55.5 399.7 L56.2 400.7 L57.2 401.1 L57.9 401.1 L59.0 400.7 L59.7 399.7 L60.0 397.9 L60.0 396.8 L59.7 395.1 L59.0 394.0 L57.9 393.6 L57.2 393.6 M64.1 393.6 L63.1 394.0 L62.4 395.1 L62.1 396.8 L62.1 397.9 L62.4 399.7 L63.1 400.7 L64.1 401.1 L64.8 401.1 L65.9 400.7 L66.6 399.7 L66.9 397.9 L66.9 396.8 L66.6 395.1 L65.9 394.0 L64.8 393.6 L64.1 393.6 M53.1 421.6 L49.3 429.8 M48.3 421.6 L53.9 421.6 M57.2 421.6 L56.2 422.0 L55.5 423.1 L55.2 424.8 L55.2 425.9 L55.5 427.7 L56.2 428.7 L57.2 429.1 L57.9 429.1 L59.0 428.7 L59.7 427.7 L60.0 425.9 L60.0 424.8 L59.7 423.1 L59.0 422.0 L57.9 421.6 L57.2 421.6 M64.1 421.6 L63.1 422.0 L62.4 423.1 L62.1 424.8 L62.1 425.9 L62.4 427.7 L63.1 428.7 L64.1 429.1 L64.8 429.1 L65.9 428.7 L66.6 427.7 L66.9 425.9 L66.9 424.8 L66.6 423.1 L65.9 422.0 L64.8 421.6 L64.1 421.6 M50.0 445.6 L49.0 446.0 L48.6 446.7 L48.6 447.4 L49.0 448.1 L49.7 448.5 L51.0 448.8 L52.1 449.2 L52.8 449.9 L53.1 450.6 L53.1 451.7 L52.8 452.4 L52.4 452.7 L51.4 453.1 L50.0 453.1 L49.0 452.7 L48.6 452.4 L48.3 451.7 L48.3 450.6 L48.6 449.9 L49.3 449.2 L50.3 448.8 L51.7 448.5 L52.4 448.1 L52.8 447.4 L52.8 446.7 L52.4 446.0 L51.4 445.6 L50.0 445.6 M57.2 445.6 L56.2 446.0 L55.5 447.1 L55.2 448.8 L55.2 449.9 L55.5 451.7 L56.2 452.7 L57.2 453.1 L57.9 453.1 L59.0 452.7 L59.7 451.7 L60.0 449.9 L60.0 448.8 L59.7 447.1 L59.0 446.0 L57.9 445.6 L57.2 445.6 M64.1 445.6 L63.1 446.0 L62.4 447.1 L62.1 448.8 L62.1 449.9 L62.4 451.7 L63.1 452.7 L64.1 453.1 L64.8 453.1 L65.9 452.7 L66.6 451.7 L66.9 449.9 L66.9 448.8 L66.6 447.1 L65.9 446.0 L64.8 445.6 L64.1 445.6 M52.8 470.1 L52.4 471.2 L51.7 471.9 L50.7 472.3 L50.3 472.3 L49.3 471.9 L48.6 471.2 L48.3 470.1 L48.3 469.8 L48.6 468.7 L49.3 468.0 L50.3 467.6 L50.7 467.6 L51.7 468.0 L52.4 468.7 L52.8 470.1 L52.8 471.9 L52.4 473.7 L51.7 474.7 L50.7 475.1 L50.0 475.1 L49.0 474.7 L48.3 473.3 M57.2 467.6 L56.2 468.0 L55.5 469.1 L55.2 470.8 L55.2 471.9 L55.5 473.7 L56.2 474.7 L57.2 475.1 L57.9 475.1 L59.0 474.7 L59.7 473.7 L60.0 471.9 L60.0 470.8 L59.7 469.1 L59.0 468.0 L57.9 467.6 L57.2 467.6 M64.1 467.6 L63.1 468.0 L62.4 469.1 L62.1 470.8 L62.1 471.9 L62.4 473.7 L63.1 474.7 L64.1 475.1 L64.8 475.1 L65.9 474.7 L66.6 473.7 L66.9 471.9 L66.9 470.8 L66.6 469.1 L65.9 468.0 L64.8 467.6 L64.1 467.6 M42.4 488.1 L43.1 487.7 L44.1 486.6 L44.1 494.9 M50.3 486.6 L49.3 487.0 L48.6 488.1 L48.3 489.8 L48.3 490.9 L48.6 492.7 L49.3 493.7 L50.3 494.1 L51.0 494.1 L52.1 493.7 L52.8 492.7 L53.1 490.9 L53.1 489.8 L52.8 488.1 L52.1 487.0 L51.0 486.6 L50.3 486.6 M57.2 486.6 L56.2 487.0 L55.5 488.1 L55.2 489.8 L55.2 490.9 L55.5 492.7 L56.2 493.7 L57.2 494.1 L57.9 494.1 L59.0 493.7 L59.7 492.7 L60.0 490.9 L60.0 489.8 L59.7 488.1 L59.0 487.0 L57.9 486.6 L57.2 486.6 M64.1 486.6 L63.1 487.0 L62.4 488.1 L62.1 489.8 L62.1 490.9 L62.4 492.7 L63.1 493.7 L64.1 494.1 L64.8 494.1 L65.9 493.7 L66.6 492.7 L66.9 490.9 L66.9 489.8 L66.6 488.1 L65.9 487.0 L64.8 486.6 L64.1 486.6 M72.5 331.0 L82.1 331.0 M72.5 331.0 L72.5 327.2 L72.9 325.9 L73.3 325.5 L74.2 325.1 L75.4 325.1 L76.3 325.5 L76.7 325.9 L77.1 327.2 L77.1 331.8 M72.5 322.1 L82.1 322.1 M72.5 322.1 L72.5 318.3 L72.9 317.0 L73.3 316.6 L74.2 316.2 L75.0 316.2 L75.8 316.6 L76.3 317.0 L76.7 318.3 L76.7 322.9 M76.7 319.2 L82.0 315.8 M72.5 313.2 L82.1 313.2 M72.5 313.2 L72.5 306.9 M76.7 313.2 L76.7 309.1 M81.3 313.2 L81.3 306.9 M73.7 299.7 L72.9 300.5 L72.5 301.8 L72.5 303.5 L72.9 304.8 L73.7 305.6 L74.6 305.6 L75.4 305.2 L75.8 304.8 L76.3 303.9 L77.1 301.4 L77.5 300.5 L77.9 300.1 L78.8 299.7 L80.0 299.7 L80.9 300.5 L81.3 301.8 L81.3 303.5 L80.9 304.8 L79.5 306.2 M73.7 291.2 L72.9 292.1 L72.5 293.4 L72.5 295.0 L72.9 296.3 L73.7 297.2 L74.6 297.2 L75.4 296.7 L75.8 296.3 L76.3 295.5 L77.1 292.9 L77.5 292.1 L77.9 291.7 L78.8 291.2 L80.0 291.2 L80.9 292.1 L81.3 293.4 L81.3 295.0 L80.9 296.3 L79.5 297.7 M72.5 288.3 L78.8 288.3 L80.0 287.9 L80.9 287.0 L81.3 285.7 L81.3 284.9 L80.9 283.6 L80.0 282.8 L78.8 282.4 L71.7 282.4 M72.5 279.0 L82.1 279.0 M72.5 279.0 L72.5 275.2 L72.9 273.9 L73.3 273.5 L74.2 273.0 L75.0 273.0 L75.8 273.5 L76.3 273.9 L76.7 275.2 L76.7 279.8 M76.7 276.0 L82.0 272.6 M72.5 270.1 L82.1 270.1 M72.5 270.1 L72.5 263.8 M76.7 270.1 L76.7 265.9 M81.3 270.1 L81.3 263.8 M70.8 252.3 L71.6 253.2 L72.9 254.0 L74.6 254.9 L76.7 255.3 L78.4 255.3 L80.5 254.9 L82.1 254.0 L83.4 253.2 L84.8 251.8 M72.5 249.4 L82.1 249.4 M72.5 249.4 L82.0 245.7 M72.5 242.6 L82.0 246.3 M72.5 242.6 L82.1 242.6 M72.5 239.2 L82.1 239.2 M72.5 239.2 L72.5 235.4 L72.9 234.1 L73.3 233.7 L74.2 233.3 L75.0 233.3 L75.8 233.7 L76.3 234.1 L76.9 236.2 M76.7 239.2 L76.7 235.4 L77.1 234.1 L77.5 233.7 L78.4 233.3 L79.6 233.3 L80.5 233.7 L80.9 234.1 L81.3 235.4 L81.3 240.0 M70.8 230.7 L71.6 229.9 L72.9 229.1 L74.6 228.2 L76.7 227.8 L78.4 227.8 L80.5 228.2 L82.1 229.1 L83.4 229.9 L84.8 231.3 M704.1 75.2 L704.1 85.1 M701.2 75.2 L707.9 75.2 M709.2 75.2 L709.2 85.1 M709.2 75.2 L713.0 75.2 L714.3 75.6 L714.7 76.1 L715.1 76.9 L715.1 78.2 L714.7 79.1 L714.3 79.5 L713.0 80.0 L708.4 80.0 M718.0 78.5 L719.2 78.5 M718.0 83.5 L719.2 83.5 M723.1 76.9 L723.9 76.5 L725.2 75.2 L725.2 85.1 M732.8 75.2 L731.5 75.6 L730.7 76.9 L730.2 79.1 L730.2 80.4 L730.7 82.6 L731.5 83.9 L732.8 84.3 L733.6 84.3 L734.9 83.9 L735.7 82.6 L736.1 80.4 L736.1 79.1 L735.7 76.9 L734.9 75.6 L733.6 75.2 L732.8 75.2 M741.2 75.2 L739.9 75.6 L739.1 76.9 L738.7 79.1 L738.7 80.4 L739.1 82.6 L739.9 83.9 L741.2 84.3 L742.0 84.3 L743.3 83.9 L744.1 82.6 L744.6 80.4 L744.6 79.1 L744.1 76.9 L743.3 75.6 L742.0 75.2 L741.2 75.2 M701.4 90.9 L701.4 100.8 M701.4 90.9 L705.0 100.7 M708.1 90.9 L704.5 100.7 M708.1 90.9 L708.1 100.8 M710.7 90.9 L712.9 100.7 M714.9 90.9 L712.6 100.7 M714.9 90.9 L717.2 100.7 M719.1 90.9 L716.8 100.7 M722.0 94.5 L723.2 94.5 M722.0 99.5 L723.2 99.5 M725.8 90.9 L725.8 100.8 M725.8 90.9 L732.1 100.6 M731.7 90.9 L731.7 100.8 M741.8 89.1 L733.9 103.7 M746.4 90.9 L742.8 100.7 M746.4 90.9 L750.1 100.7 M744.3 96.9 L749.4 96.9 M701.2 106.5 L701.2 116.4 M701.2 106.5 L707.5 106.5 M701.2 110.9 L705.4 110.9 M708.8 106.5 L708.8 116.4 M708.8 106.5 L712.6 106.5 L713.8 107.0 L714.3 107.4 L714.7 108.3 L714.7 109.1 L714.3 110.0 L713.8 110.4 L712.6 110.9 L708.0 110.9 M711.7 110.9 L715.1 116.3 M723.1 106.5 L716.8 116.3 M717.2 106.5 L723.9 106.5 M717.2 115.6 L723.9 115.6 M726.0 109.5 L727.2 109.5 M726.0 115.5 L727.2 115.5 M734.9 106.5 L730.7 106.5 L730.2 110.4 L730.7 110.0 L731.9 109.6 L733.2 109.6 L734.5 110.0 L735.3 110.9 L735.7 112.2 L735.7 113.0 L735.3 114.3 L734.5 115.2 L733.2 115.6 L731.9 115.6 L730.7 115.2 L730.2 114.8 L729.5 113.2 M743.7 109.6 L743.3 110.9 L742.5 111.7 L741.2 112.2 L740.8 112.2 L739.5 111.7 L738.7 110.9 L738.2 109.6 L738.2 109.1 L738.7 107.8 L739.5 107.0 L740.8 106.5 L741.2 106.5 L742.5 107.0 L743.3 107.8 L743.7 109.6 L743.7 111.7 L743.3 113.9 L742.5 115.2 L741.2 115.6 L740.4 115.6 L739.1 115.2 L738.3 113.6 M750.9 106.5 L746.7 112.6 L753.8 112.6 M750.9 106.5 L750.9 116.4 M699.9 122.2 L702.2 132.1 M704.1 122.2 L701.8 132.1 M704.1 122.2 L706.4 132.1 M708.3 122.2 L706.0 132.1 M710.8 122.2 L710.8 132.1 M710.8 122.2 L714.6 122.2 L715.9 122.6 L716.3 123.1 L716.7 123.9 L716.7 124.8 L716.3 125.7 L715.9 126.1 L713.9 126.8 M710.8 126.5 L714.6 126.5 L715.9 127.0 L716.3 127.4 L716.7 128.3 L716.7 129.6 L716.3 130.4 L715.9 130.9 L714.6 131.3 L710.0 131.3 M721.8 122.2 L720.5 122.6 L719.7 123.9 L719.3 126.1 L719.3 127.4 L719.7 129.6 L720.5 130.9 L721.8 131.3 L722.6 131.3 L723.9 130.9 L724.7 129.6 L725.2 127.4 L725.2 126.1 L724.7 123.9 L723.9 122.6 L722.6 122.2 L721.8 122.2 M728.0 125.5 L729.2 125.5 M728.0 130.5 L729.2 130.5 M736.9 122.2 L732.7 122.2 L732.3 126.1 L732.7 125.7 L734.0 125.2 L735.3 125.2 L736.5 125.7 L737.4 126.5 L737.8 127.8 L737.8 128.7 L737.4 130.0 L736.5 130.9 L735.3 131.3 L734.0 131.3 L732.7 130.9 L732.3 130.4 L731.5 128.8 M741.6 123.9 L742.4 123.5 L743.7 122.2 L743.7 132.1 M752.9 122.2 L748.7 128.3 L755.9 128.3 M752.9 122.2 L752.9 132.1 M700.1 137.9 L700.1 147.8 M700.1 137.9 L703.9 137.9 L705.2 138.3 L705.6 138.7 L706.0 139.6 L706.0 140.9 L705.6 141.8 L705.2 142.2 L703.9 142.6 L699.3 142.6 M708.1 137.9 L710.4 147.7 M712.3 137.9 L710.0 147.7 M712.3 137.9 L714.6 147.7 M716.5 137.9 L714.2 147.7 M719.0 141.5 L720.2 141.5 M719.0 146.5 L720.2 146.5 M723.3 140.0 L723.3 139.6 L723.7 138.7 L724.1 138.3 L724.9 137.9 L726.6 137.9 L727.5 138.3 L727.9 138.7 L728.3 139.6 L728.3 140.5 L727.9 141.3 L727.0 142.6 L722.8 147.0 L729.5 147.0 M733.4 137.9 L732.1 138.3 L731.7 139.2 L731.7 140.0 L732.1 140.9 L732.9 141.3 L734.6 141.8 L735.9 142.2 L736.7 143.1 L737.1 143.9 L737.1 145.2 L736.7 146.1 L736.3 146.5 L735.0 147.0 L733.4 147.0 L732.1 146.5 L731.7 146.1 L731.3 145.2 L731.3 143.9 L731.7 143.1 L732.5 142.2 L733.8 141.8 L735.5 141.3 L736.3 140.9 L736.7 140.0 L736.7 139.2 L736.3 138.3 L735.0 137.9 L733.4 137.9 M740.0 146.5 L741.2 146.5 M748.1 137.9 L743.9 143.9 L751.0 143.9 M748.1 137.9 L748.1 147.8 M757.8 140.9 L757.4 142.2 L756.5 143.1 L755.3 143.5 L754.8 143.5 L753.6 143.1 L752.7 142.2 L752.3 140.9 L752.3 140.5 L752.7 139.2 L753.6 138.3 L754.8 137.9 L755.3 137.9 L756.5 138.3 L757.4 139.2 L757.8 140.9 L757.8 143.1 L757.4 145.2 L756.5 146.5 L755.3 147.0 L754.4 147.0 L753.1 146.5 L752.4 144.9 M701.2 153.5 L701.2 163.4 M701.2 153.5 L705.0 153.5 L706.3 154.0 L706.7 154.4 L707.1 155.3 L707.1 156.1 L706.7 157.0 L706.3 157.4 L705.0 157.9 L700.4 157.9 M704.1 157.9 L707.5 163.3 M710.0 153.5 L710.0 163.4 M715.9 153.5 L715.9 163.4 M710.0 157.9 L716.7 157.9 M719.0 156.5 L720.2 156.5 M719.0 162.5 L720.2 162.5 M728.1 153.5 L723.9 153.5 L723.5 157.4 L723.9 157.0 L725.2 156.6 L726.5 156.6 L727.7 157.0 L728.6 157.9 L729.0 159.2 L729.0 160.0 L728.6 161.3 L727.7 162.2 L726.5 162.6 L725.2 162.6 L723.9 162.2 L723.5 161.8 L722.7 160.2 M735.7 153.5 L731.5 159.6 L738.6 159.6 M735.7 153.5 L735.7 163.4 M740.0 162.5 L741.2 162.5 M745.0 153.5 L749.6 153.5 L747.1 157.0 L748.4 157.0 L749.2 157.4 L749.6 157.9 L750.0 159.2 L750.0 160.0 L749.6 161.3 L748.8 162.2 L747.5 162.6 L746.2 162.6 L745.0 162.2 L744.6 161.8 L743.8 160.2 M699.9 169.2 L699.9 179.1 M699.9 169.2 L703.5 179.0 M706.6 169.2 L703.0 179.0 M706.6 169.2 L706.6 179.1 M712.1 169.2 L708.5 179.0 M712.1 169.2 L715.8 179.0 M710.0 175.3 L715.0 175.3 M717.2 169.2 L723.5 179.0 M723.1 169.2 L716.7 179.0 M727.7 169.2 L727.7 179.1 M724.7 169.2 L731.4 169.2 M733.0 172.5 L734.2 172.5 M733.0 177.5 L734.2 177.5 M736.9 171.4 L736.9 170.9 L737.4 170.1 L737.8 169.6 L738.6 169.2 L740.3 169.2 L741.2 169.6 L741.6 170.1 L742.0 170.9 L742.0 171.8 L741.6 172.7 L740.7 174.0 L736.5 178.3 L743.2 178.3 M750.8 169.2 L746.3 179.0 M744.9 169.2 L751.6 169.2 M754.0 177.5 L755.2 177.5 M758.0 171.4 L758.0 170.9 L758.4 170.1 L758.8 169.6 L759.7 169.2 L761.4 169.2 L762.2 169.6 L762.6 170.1 L763.0 170.9 L763.0 171.8 L762.6 172.7 L761.8 174.0 L757.6 178.3 L764.3 178.3 M704.1 184.8 L704.1 194.8 M701.2 184.8 L707.9 184.8 M709.2 184.8 L709.2 194.8 M715.1 184.8 L715.1 194.8 M709.2 189.2 L715.9 189.2 M718.0 188.5 L719.2 188.5 M718.0 193.5 L719.2 193.5 M727.3 184.8 L723.1 184.8 L722.7 188.8 L723.1 188.3 L724.4 187.9 L725.6 187.9 L726.9 188.3 L727.7 189.2 L728.1 190.5 L728.1 191.4 L727.7 192.7 L726.9 193.5 L725.6 194.0 L724.4 194.0 L723.1 193.5 L722.7 193.1 L721.9 191.5 M734.9 184.8 L730.7 190.9 L737.8 190.9 M734.9 184.8 L734.9 194.8 M744.6 186.1 L744.1 185.3 L742.9 184.8 L742.0 184.8 L740.8 185.3 L739.9 186.6 L739.5 188.8 L739.5 190.9 L739.9 192.7 L740.8 193.5 L742.0 194.0 L742.5 194.0 L743.7 193.5 L744.6 192.7 L745.0 191.4 L745.0 190.9 L744.6 189.6 L743.7 188.8 L742.5 188.3 L742.0 188.3 L740.8 188.8 L739.9 189.6 L739.3 191.7 M748.4 184.8 L753.0 184.8 L750.5 188.3 L751.7 188.3 L752.6 188.8 L753.0 189.2 L753.4 190.5 L753.4 191.4 L753.0 192.7 L752.1 193.5 L750.9 194.0 L749.6 194.0 L748.4 193.5 L747.9 193.1 L747.2 191.5 M701.2 200.5 L701.2 210.4 M701.2 209.6 L707.1 209.6 M713.0 200.5 L708.8 200.5 L708.4 204.4 L708.8 204.0 L710.0 203.5 L711.3 203.5 L712.6 204.0 L713.4 204.9 L713.8 206.2 L713.8 207.0 L713.4 208.3 L712.6 209.2 L711.3 209.6 L710.0 209.6 L708.8 209.2 L708.4 208.8 L707.6 207.2 M722.2 200.5 L717.7 210.3 M716.4 200.5 L723.0 200.5 M725.0 203.5 L726.2 203.5 M725.0 209.5 L726.2 209.5 M734.0 200.5 L729.8 200.5 L729.4 204.4 L729.8 204.0 L731.1 203.5 L732.4 203.5 L733.6 204.0 L734.5 204.9 L734.9 206.2 L734.9 207.0 L734.5 208.3 L733.6 209.2 L732.4 209.6 L731.1 209.6 L729.8 209.2 L729.4 208.8 L728.6 207.2 M738.0 209.5 L739.2 209.5 M747.5 200.5 L743.0 210.3 M741.6 200.5 L748.3 200.5 M701.2 216.2 L701.2 226.1 M701.2 225.3 L707.1 225.3 M714.3 218.3 L713.8 217.5 L713.0 216.6 L712.1 216.2 L710.5 216.2 L709.6 216.6 L708.8 217.5 L708.4 218.3 L707.9 219.6 L707.9 221.8 L708.4 223.1 L708.8 224.0 L709.6 224.9 L710.5 225.3 L712.1 225.3 L713.0 224.9 L713.8 224.0 L714.6 222.4 M717.2 216.2 L717.2 226.1 M717.2 225.3 L723.0 225.3 M724.0 219.5 L725.2 219.5 M724.0 224.5 L725.2 224.5 M733.6 219.2 L733.2 220.5 L732.4 221.4 L731.1 221.8 L730.7 221.8 L729.4 221.4 L728.6 220.5 L728.1 219.2 L728.1 218.8 L728.6 217.5 L729.4 216.6 L730.7 216.2 L731.1 216.2 L732.4 216.6 L733.2 217.5 L733.6 219.2 L733.6 221.4 L733.2 223.6 L732.4 224.9 L731.1 225.3 L730.2 225.3 L729.0 224.9 L728.2 223.3 M742.5 216.2 L737.9 226.0 M736.6 216.2 L743.3 216.2 M747.5 216.2 L746.2 216.6 L745.4 217.9 L745.0 220.1 L745.0 221.4 L745.4 223.6 L746.2 224.9 L747.5 225.3 L748.4 225.3 L749.6 224.9 L750.5 223.6 L750.9 221.4 L750.9 220.1 L750.5 217.9 L749.6 216.6 L748.4 216.2 L747.5 216.2 M702.5 231.8 L702.5 241.8 M702.5 240.9 L708.4 240.9 M709.7 231.8 L709.7 241.8 M713.0 235.5 L714.2 235.5 M713.0 240.5 L714.2 240.5 M717.2 237.0 L725.6 237.0 M728.2 234.0 L728.2 233.6 L728.6 232.7 L729.0 232.3 L729.9 231.8 L731.5 231.8 L732.4 232.3 L732.8 232.7 L733.2 233.6 L733.2 234.4 L732.8 235.3 L732.0 236.6 L727.8 240.9 L734.5 240.9 M737.0 240.5 L738.2 240.5 M741.2 231.8 L745.9 231.8 L743.3 235.3 L744.6 235.3 L745.4 235.7 L745.9 236.2 L746.3 237.5 L746.3 238.3 L745.9 239.6 L745.0 240.5 L743.8 240.9 L742.5 240.9 L741.2 240.5 L740.8 240.1 L740.0 238.5 M708.4 248.8 L707.6 247.9 L706.3 247.5 L704.6 247.5 L703.3 247.9 L702.5 248.8 L702.5 249.7 L702.9 250.5 L703.3 251.0 L704.2 251.4 L706.7 252.3 L707.6 252.7 L708.0 253.1 L708.4 254.0 L708.4 255.3 L707.6 256.2 L706.3 256.6 L704.6 256.6 L703.3 256.2 L701.9 254.7 M711.3 247.5 L711.3 257.4 M715.0 250.5 L716.2 250.5 M715.0 256.5 L716.2 256.5 M723.5 247.5 L719.3 247.5 L718.9 251.4 L719.3 251.0 L720.6 250.5 L721.9 250.5 L723.1 251.0 L724.0 251.8 L724.4 253.1 L724.4 254.0 L724.0 255.3 L723.1 256.2 L721.9 256.6 L720.6 256.6 L719.3 256.2 L718.9 255.7 L718.1 254.2 M727.0 256.5 L728.2 256.5 M736.6 248.8 L736.2 247.9 L734.9 247.5 L734.1 247.5 L732.8 247.9 L732.0 249.2 L731.5 251.4 L731.5 253.6 L732.0 255.3 L732.8 256.2 L734.1 256.6 L734.5 256.6 L735.8 256.2 L736.6 255.3 L737.0 254.0 L737.0 253.6 L736.6 252.3 L735.8 251.4 L734.5 251.0 L734.1 251.0 L732.8 251.4 L732.0 252.3 L731.3 254.3 M703.9 263.2 L703.9 273.1 M701.0 263.2 L707.7 263.2 M710.7 263.2 L710.7 273.1 M707.7 263.2 L714.4 263.2 M716.0 266.5 L717.2 266.5 M716.0 271.5 L717.2 271.5 M720.4 263.2 L725.0 263.2 L722.5 266.6 L723.7 266.6 L724.6 267.1 L725.0 267.5 L725.4 268.8 L725.4 269.7 L725.0 271.0 L724.2 271.8 L722.9 272.3 L721.6 272.3 L720.4 271.8 L719.9 271.4 L719.2 269.8 M730.0 263.2 L728.8 263.6 L728.4 264.5 L728.4 265.3 L728.8 266.2 L729.6 266.6 L731.3 267.1 L732.6 267.5 L733.4 268.4 L733.8 269.2 L733.8 270.5 L733.4 271.4 L733.0 271.8 L731.7 272.3 L730.0 272.3 L728.8 271.8 L728.4 271.4 L727.9 270.5 L727.9 269.2 L728.4 268.4 L729.2 267.5 L730.5 267.1 L732.2 266.6 L733.0 266.2 L733.4 265.3 L733.4 264.5 L733.0 263.6 L731.7 263.2 L730.0 263.2 M737.0 271.5 L738.2 271.5 M744.8 263.2 L740.6 269.2 L747.7 269.2 M744.8 263.2 L744.8 273.1 M702.5 278.8 L702.5 288.7 M708.4 278.8 L701.9 285.5 M704.6 282.7 L708.9 288.6 M711.3 278.8 L711.3 288.7 M715.0 282.5 L716.2 282.5 M715.0 287.5 L716.2 287.5 M718.9 281.0 L718.9 280.6 L719.3 279.7 L719.8 279.3 L720.6 278.8 L722.3 278.8 L723.1 279.3 L723.5 279.7 L724.0 280.6 L724.0 281.4 L723.5 282.3 L722.7 283.6 L718.5 287.9 L725.2 287.9 M732.4 281.9 L732.0 283.2 L731.1 284.0 L729.9 284.5 L729.4 284.5 L728.2 284.0 L727.3 283.2 L726.9 281.9 L726.9 281.4 L727.3 280.1 L728.2 279.3 L729.4 278.8 L729.9 278.8 L731.1 279.3 L732.0 280.1 L732.4 281.9 L732.4 284.0 L732.0 286.2 L731.1 287.5 L729.9 287.9 L729.0 287.9 L727.8 287.5 L727.0 285.9 M736.6 280.6 L737.4 280.1 L738.7 278.8 L738.7 288.7 M707.1 295.8 L706.3 294.9 L705.0 294.5 L703.3 294.5 L702.0 294.9 L701.2 295.8 L701.2 296.7 L701.6 297.5 L702.0 298.0 L702.9 298.4 L705.4 299.3 L706.3 299.7 L706.7 300.1 L707.1 301.0 L707.1 302.3 L706.3 303.2 L705.0 303.6 L703.3 303.6 L702.0 303.2 L700.6 301.7 M709.2 294.5 L711.5 304.4 M713.4 294.5 L711.1 304.4 M713.4 294.5 L715.7 304.4 M717.6 294.5 L715.3 304.4 M720.0 297.5 L721.2 297.5 M720.0 303.5 L721.2 303.5 M724.4 294.5 L724.4 304.4 M724.4 294.5 L730.7 304.3 M730.2 294.5 L730.2 304.4 M740.4 292.8 L732.4 307.3 M745.0 294.5 L741.3 304.4 M745.0 294.5 L748.6 304.4 M742.9 300.6 L747.9 300.6 M703.9 310.2 L703.9 320.1 M703.9 310.2 L710.2 310.2 M703.9 314.5 L708.1 314.5 M703.9 319.3 L710.2 319.3 M711.9 310.2 L711.9 320.1 M715.0 313.5 L716.2 313.5 M715.0 318.5 L716.2 318.5 M721.6 310.2 L720.3 310.6 L719.5 311.9 L719.1 314.1 L719.1 315.4 L719.5 317.5 L720.3 318.8 L721.6 319.3 L722.4 319.3 L723.7 318.8 L724.5 317.5 L724.9 315.4 L724.9 314.1 L724.5 311.9 L723.7 310.6 L722.4 310.2 L721.6 310.2 M728.0 318.5 L729.2 318.5 M732.1 312.3 L732.1 311.9 L732.5 311.0 L732.9 310.6 L733.8 310.2 L735.5 310.2 L736.3 310.6 L736.7 311.0 L737.2 311.9 L737.2 312.8 L736.7 313.6 L735.9 314.9 L731.7 319.3 L738.4 319.3 M699.9 331.0 L708.3 331.0 M710.8 325.8 L710.8 335.7 M710.8 325.8 L714.6 325.8 L715.9 326.3 L716.3 326.7 L716.7 327.6 L716.7 328.9 L716.3 329.7 L715.9 330.2 L714.6 330.6 L710.0 330.6 M721.8 325.8 L718.1 335.7 M721.8 325.8 L725.4 335.7 M719.7 331.9 L724.7 331.9 M727.3 325.8 L727.3 335.7 M727.3 325.8 L731.1 325.8 L732.3 326.3 L732.7 326.7 L733.2 327.6 L733.2 328.4 L732.7 329.3 L732.3 329.7 L731.1 330.2 L726.5 330.2 M730.2 330.2 L733.6 335.6 M742.0 328.0 L741.6 327.1 L740.7 326.3 L739.9 325.8 L738.2 325.8 L737.4 326.3 L736.5 327.1 L736.1 328.0 L735.7 329.3 L735.7 331.5 L736.1 332.8 L736.5 333.6 L737.4 334.5 L738.2 334.9 L739.9 334.9 L740.7 334.5 L741.6 333.6 L742.3 332.1 M744.9 325.8 L744.9 335.7 M744.9 325.8 L751.2 325.8 M744.9 330.2 L749.1 330.2 M744.9 334.9 L751.2 334.9 M752.9 325.8 L752.9 335.7 M752.9 334.9 L758.8 334.9 M760.1 331.0 L768.5 331.0 M706.2 343.7 L705.8 342.8 L705.0 341.9 L704.1 341.5 L702.4 341.5 L701.6 341.9 L700.7 342.8 L700.3 343.7 L699.9 345.0 L699.9 347.1 L700.3 348.4 L700.7 349.3 L701.6 350.2 L702.4 350.6 L704.1 350.6 L705.0 350.2 L705.8 349.3 L706.6 347.7 M711.3 341.5 L707.6 351.4 M711.3 341.5 L714.9 351.4 M709.2 347.6 L714.2 347.6 M716.7 341.5 L716.7 351.4 M716.7 341.5 L720.5 341.5 L721.8 341.9 L722.2 342.4 L722.6 343.2 L722.6 344.5 L722.2 345.4 L721.8 345.8 L720.5 346.3 L715.9 346.3 M725.6 341.5 L725.6 351.4 M725.6 341.5 L731.9 341.5 M725.6 345.8 L729.7 345.8 M725.6 350.6 L731.9 350.6 M734.0 344.5 L735.2 344.5 M734.0 350.5 L735.2 350.5 M738.6 343.2 L739.5 342.8 L740.7 341.5 L740.7 351.4 M746.2 343.7 L746.2 343.2 L746.6 342.4 L747.1 341.9 L747.9 341.5 L749.6 341.5 L750.4 341.9 L750.8 342.4 L751.3 343.2 L751.3 344.1 L750.8 345.0 L750.0 346.3 L745.8 350.6 L752.5 350.6 M759.3 341.5 L755.1 341.5 L754.6 345.4 L755.1 345.0 L756.3 344.5 L757.6 344.5 L758.8 345.0 L759.7 345.8 L760.1 347.1 L760.1 348.0 L759.7 349.3 L758.8 350.2 L757.6 350.6 L756.3 350.6 L755.1 350.2 L754.6 349.7 L753.9 348.2 M766.8 341.5 L762.6 347.6 L769.7 347.6 M766.8 341.5 L766.8 351.4 M708.8 359.3 L708.4 358.5 L707.6 357.6 L706.7 357.2 L705.0 357.2 L704.2 357.6 L703.3 358.5 L702.9 359.3 L702.5 360.6 L702.5 362.8 L702.9 364.1 L703.3 365.0 L704.2 365.8 L705.0 366.3 L706.7 366.3 L707.6 365.8 L708.4 365.0 L709.2 363.4 M711.8 357.2 L711.8 367.1 M715.1 357.2 L715.1 367.1 M715.1 357.2 L721.5 366.9 M721.0 357.2 L721.0 367.1 M724.4 357.2 L724.4 367.1 M730.3 357.2 L730.3 367.1 M724.4 361.5 L731.1 361.5 M734.0 360.5 L735.2 360.5 M734.0 365.5 L735.2 365.5 M741.7 357.2 L737.4 363.2 L744.6 363.2 M741.7 357.2 L741.7 367.1 M701.2 372.8 L701.2 382.7 M701.2 381.9 L707.1 381.9 M714.3 375.0 L713.8 374.1 L713.0 373.3 L712.1 372.8 L710.5 372.8 L709.6 373.3 L708.8 374.1 L708.4 375.0 L707.9 376.3 L707.9 378.5 L708.4 379.8 L708.8 380.6 L709.6 381.5 L710.5 381.9 L712.1 381.9 L713.0 381.5 L713.8 380.6 L714.6 379.0 M717.2 372.8 L717.2 382.7 M717.2 381.9 L723.0 381.9 M724.0 376.5 L725.2 376.5 M724.0 381.5 L725.2 381.5 M733.6 375.9 L733.2 377.2 L732.4 378.0 L731.1 378.5 L730.7 378.5 L729.4 378.0 L728.6 377.2 L728.1 375.9 L728.1 375.4 L728.6 374.1 L729.4 373.3 L730.7 372.8 L731.1 372.8 L732.4 373.3 L733.2 374.1 L733.6 375.9 L733.6 378.0 L733.2 380.2 L732.4 381.5 L731.1 381.9 L730.2 381.9 L729.0 381.5 L728.2 379.9 M742.5 372.8 L737.9 382.7 M736.6 372.8 L743.3 372.8 M747.5 372.8 L746.2 373.3 L745.4 374.6 L745.0 376.7 L745.0 378.0 L745.4 380.2 L746.2 381.5 L747.5 381.9 L748.4 381.9 L749.6 381.5 L750.5 380.2 L750.9 378.0 L750.9 376.7 L750.5 374.6 L749.6 373.3 L748.4 372.8 L747.5 372.8 M707.8 390.7 L707.4 389.8 L706.6 388.9 L705.7 388.5 L704.0 388.5 L703.2 388.9 L702.3 389.8 L701.9 390.7 L701.5 392.0 L701.5 394.1 L701.9 395.4 L702.3 396.3 L703.2 397.2 L704.0 397.6 L705.7 397.6 L706.6 397.2 L707.4 396.3 L708.2 394.7 M712.9 388.5 L709.2 398.4 M712.9 388.5 L716.5 398.4 M710.8 394.6 L715.8 394.6 M718.3 388.5 L718.3 398.4 M718.3 388.5 L722.1 388.5 L723.4 388.9 L723.8 389.4 L724.2 390.2 L724.2 391.5 L723.8 392.4 L723.4 392.8 L722.1 393.3 L717.5 393.3 M727.0 391.5 L728.2 391.5 M727.0 397.5 L728.2 397.5 M733.5 388.5 L732.2 388.9 L731.4 390.2 L731.0 392.4 L731.0 393.7 L731.4 395.9 L732.2 397.2 L733.5 397.6 L734.3 397.6 L735.6 397.2 L736.4 395.9 L736.9 393.7 L736.9 392.4 L736.4 390.2 L735.6 388.9 L734.3 388.5 L733.5 388.5 M740.0 397.5 L741.2 397.5 M746.1 388.5 L744.9 388.9 L744.0 390.2 L743.6 392.4 L743.6 393.7 L744.0 395.9 L744.9 397.2 L746.1 397.6 L747.0 397.6 L748.2 397.2 L749.1 395.9 L749.5 393.7 L749.5 392.4 L749.1 390.2 L748.2 388.9 L747.0 388.5 L746.1 388.5 M701.2 404.2 L701.2 414.1 M701.2 413.3 L707.1 413.3 M708.4 404.2 L708.4 414.1 M708.4 404.2 L714.6 404.2 M708.4 408.5 L712.5 408.5 M721.8 406.3 L721.4 405.5 L720.6 404.6 L719.7 404.2 L718.0 404.2 L717.2 404.6 L716.4 405.5 L715.9 406.3 L715.5 407.6 L715.5 409.8 L715.9 411.1 L716.4 412.0 L717.2 412.8 L718.0 413.3 L719.7 413.3 L720.6 412.8 L721.4 412.0 L722.2 410.4 M725.0 407.5 L726.2 407.5 M725.0 412.5 L726.2 412.5 M734.0 407.2 L733.6 408.5 L732.8 409.4 L731.5 409.8 L731.1 409.8 L729.8 409.4 L729.0 408.5 L728.6 407.2 L728.6 406.8 L729.0 405.5 L729.8 404.6 L731.1 404.2 L731.5 404.2 L732.8 404.6 L733.6 405.5 L734.0 407.2 L734.0 409.4 L733.6 411.5 L732.8 412.8 L731.5 413.3 L730.7 413.3 L729.4 412.8 L728.6 411.2 M742.5 405.5 L742.0 404.6 L740.8 404.2 L739.9 404.2 L738.7 404.6 L737.8 405.9 L737.4 408.1 L737.4 410.2 L737.8 412.0 L738.7 412.8 L739.9 413.3 L740.4 413.3 L741.6 412.8 L742.5 412.0 L742.9 410.7 L742.9 410.2 L742.5 408.9 L741.6 408.1 L740.4 407.6 L739.9 407.6 L738.7 408.1 L737.8 408.9 L737.2 411.0 M746.7 405.9 L747.5 405.5 L748.8 404.2 L748.8 414.1 M703.1 419.8 L703.1 429.7 M703.1 419.8 L709.4 419.8 M703.1 424.2 L707.3 424.2 M703.1 428.9 L709.4 428.9 M711.1 419.8 L711.1 429.7 M711.1 428.9 L717.0 428.9 M718.0 423.5 L719.2 423.5 M718.0 428.5 L719.2 428.5 M722.5 422.0 L722.5 421.6 L722.9 420.7 L723.3 420.3 L724.1 419.8 L725.8 419.8 L726.7 420.3 L727.1 420.7 L727.5 421.6 L727.5 422.4 L727.1 423.3 L726.3 424.6 L722.0 428.9 L728.7 428.9 M731.3 419.8 L735.9 419.8 L733.4 423.3 L734.7 423.3 L735.5 423.7 L735.9 424.2 L736.4 425.5 L736.4 426.3 L735.9 427.6 L735.1 428.5 L733.8 428.9 L732.6 428.9 L731.3 428.5 L730.9 428.1 L730.1 426.5 M743.1 419.8 L738.9 425.9 L746.0 425.9 M743.1 419.8 L743.1 429.7 M701.2 435.5 L701.2 445.4 M701.2 435.5 L704.8 445.3 M707.9 435.5 L704.3 445.3 M707.9 435.5 L707.9 445.4 M711.3 435.5 L711.3 445.4 M711.3 435.5 L715.1 435.5 L716.4 435.9 L716.8 436.4 L717.2 437.2 L717.2 438.5 L716.8 439.4 L716.4 439.8 L715.1 440.3 L710.5 440.3 M720.1 435.5 L720.1 445.4 M720.1 444.6 L726.0 444.6 M727.0 438.5 L728.2 438.5 M727.0 444.5 L728.2 444.5 M732.4 437.2 L733.2 436.8 L734.5 435.5 L734.5 445.4 M743.7 435.5 L739.5 441.6 L746.6 441.6 M743.7 435.5 L743.7 445.4 M748.4 437.7 L748.4 437.2 L748.8 436.4 L749.2 435.9 L750.0 435.5 L751.7 435.5 L752.6 435.9 L753.0 436.4 L753.4 437.2 L753.4 438.1 L753.0 439.0 L752.1 440.3 L747.9 444.6 L754.6 444.6 M701.8 456.4 L710.2 456.4 M711.9 451.2 L714.2 461.0 M716.1 451.2 L713.8 461.0 M716.1 451.2 L718.4 461.0 M720.3 451.2 L718.0 461.0 M722.8 451.2 L722.8 461.1 M726.2 451.2 L726.2 461.1 M726.2 451.2 L732.5 460.9 M732.1 451.2 L732.1 461.1 M735.5 451.2 L735.5 461.1 M735.5 451.2 L738.4 451.2 L739.7 451.6 L740.5 452.5 L741.0 453.3 L741.4 454.6 L741.4 456.8 L741.0 458.1 L740.5 459.0 L739.7 459.8 L738.4 460.3 L734.7 460.3 M744.3 456.4 L752.7 456.4 M703.9 466.8 L703.9 476.7 M703.9 466.8 L710.2 476.6 M709.8 466.8 L709.8 476.7 M715.3 466.8 L714.4 467.3 L713.6 468.1 L713.2 469.0 L712.7 470.3 L712.7 472.5 L713.2 473.8 L713.6 474.6 L714.4 475.5 L715.3 475.9 L717.0 475.9 L717.8 475.5 L718.6 474.6 L719.1 473.8 L719.5 472.5 L719.5 470.3 L719.1 469.0 L718.6 468.1 L717.8 467.3 L717.0 466.8 L715.3 466.8 M724.1 466.8 L724.1 476.7 M721.2 466.8 L727.9 466.8 M705.9 482.5 L702.2 492.3 M705.9 482.5 L709.5 492.3 M703.8 488.6 L708.8 488.6 M710.1 482.5 L713.7 492.3 M716.8 482.5 L713.2 492.3 M721.0 482.5 L717.4 492.3 M721.0 482.5 L724.7 492.3 M718.9 488.6 L723.9 488.6 M726.5 482.5 L726.5 492.4 M729.9 482.5 L729.9 492.4 M729.9 491.6 L735.7 491.6" stroke="#000000"/>
<path d="M114.4 62.3 L121.4 62.3 M124.1 59.5 L124.8 59.1 L125.8 58.0 L125.8 66.3 M130.3 59.8 L130.3 59.5 L130.6 58.7 L131.0 58.4 L131.7 58.0 L133.0 58.0 L133.7 58.4 L134.1 58.7 L134.4 59.5 L134.4 60.2 L134.1 60.9 L133.4 61.9 L129.9 65.5 L135.6 65.5 M138.9 58.0 L137.9 58.4 L137.2 59.5 L136.8 61.2 L136.8 62.3 L137.2 64.1 L137.9 65.1 L138.9 65.5 L139.6 65.5 L140.6 65.1 L141.3 64.1 L141.7 62.3 L141.7 61.2 L141.3 59.5 L140.6 58.4 L139.6 58.0 L138.9 58.0 M182.1 62.3 L189.1 62.3 M191.8 59.5 L192.4 59.1 L193.5 58.0 L193.5 66.3 M198.7 59.5 L199.3 59.1 L200.4 58.0 L200.4 66.3 M206.6 58.0 L205.6 58.4 L204.9 59.5 L204.5 61.2 L204.5 62.3 L204.9 64.1 L205.6 65.1 L206.6 65.5 L207.3 65.5 L208.3 65.1 L209.0 64.1 L209.4 62.3 L209.4 61.2 L209.0 59.5 L208.3 58.4 L207.3 58.0 L206.6 58.0 M249.8 62.3 L256.8 62.3 M259.5 59.5 L260.2 59.1 L261.2 58.0 L261.2 66.3 M267.4 58.0 L266.4 58.4 L265.7 59.5 L265.3 61.2 L265.3 62.3 L265.7 64.1 L266.4 65.1 L267.4 65.5 L268.1 65.5 L269.1 65.1 L269.8 64.1 L270.2 62.3 L270.2 61.2 L269.8 59.5 L269.1 58.4 L268.1 58.0 L267.4 58.0 M274.3 58.0 L273.3 58.4 L272.6 59.5 L272.2 61.2 L272.2 62.3 L272.6 64.1 L273.3 65.1 L274.3 65.5 L275.0 65.5 L276.0 65.1 L276.7 64.1 L277.1 62.3 L277.1 61.2 L276.7 59.5 L276.0 58.4 L275.0 58.0 L274.3 58.0 M324.6 62.3 L331.6 62.3 M337.7 60.5 L337.4 61.6 L336.7 62.3 L335.6 62.7 L335.3 62.7 L334.3 62.3 L333.6 61.6 L333.2 60.5 L333.2 60.2 L333.6 59.1 L334.3 58.4 L335.3 58.0 L335.6 58.0 L336.7 58.4 L337.4 59.1 L337.7 60.5 L337.7 62.3 L337.4 64.1 L336.7 65.1 L335.6 65.5 L335.0 65.5 L333.9 65.1 L333.2 63.7 M342.2 58.0 L341.2 58.4 L340.5 59.5 L340.1 61.2 L340.1 62.3 L340.5 64.1 L341.2 65.1 L342.2 65.5 L342.9 65.5 L343.9 65.1 L344.6 64.1 L345.0 62.3 L345.0 61.2 L344.6 59.5 L343.9 58.4 L342.9 58.0 L342.2 58.0 M392.3 62.3 L399.3 62.3 M402.7 58.0 L401.6 58.4 L401.3 59.1 L401.3 59.8 L401.6 60.5 L402.3 60.9 L403.7 61.2 L404.7 61.6 L405.4 62.3 L405.8 63.0 L405.8 64.1 L405.4 64.8 L405.1 65.1 L404.0 65.5 L402.7 65.5 L401.6 65.1 L401.3 64.8 L400.9 64.1 L400.9 63.0 L401.3 62.3 L402.0 61.6 L403.0 61.2 L404.4 60.9 L405.1 60.5 L405.4 59.8 L405.4 59.1 L405.1 58.4 L404.0 58.0 L402.7 58.0 M409.9 58.0 L408.9 58.4 L408.2 59.5 L407.8 61.2 L407.8 62.3 L408.2 64.1 L408.9 65.1 L409.9 65.5 L410.6 65.5 L411.6 65.1 L412.3 64.1 L412.7 62.3 L412.7 61.2 L412.3 59.5 L411.6 58.4 L410.6 58.0 L409.9 58.0 M460.0 62.3 L467.0 62.3 M473.5 58.0 L469.7 66.2 M468.6 58.0 L474.3 58.0 M477.6 58.0 L476.6 58.4 L475.9 59.5 L475.5 61.2 L475.5 62.3 L475.9 64.1 L476.6 65.1 L477.6 65.5 L478.3 65.5 L479.3 65.1 L480.0 64.1 L480.4 62.3 L480.4 61.2 L480.0 59.5 L479.3 58.4 L478.3 58.0 L477.6 58.0 M527.7 62.3 L534.7 62.3 M540.8 59.1 L540.5 58.4 L539.4 58.0 L538.7 58.0 L537.7 58.4 L537.0 59.5 L536.7 61.2 L536.7 63.0 L537.0 64.4 L537.7 65.1 L538.7 65.5 L539.1 65.5 L540.1 65.1 L540.8 64.4 L541.2 63.4 L541.2 63.0 L540.8 61.9 L540.1 61.2 L539.1 60.9 L538.7 60.9 L537.7 61.2 L537.0 61.9 L536.4 63.8 M545.3 58.0 L544.3 58.4 L543.6 59.5 L543.2 61.2 L543.2 62.3 L543.6 64.1 L544.3 65.1 L545.3 65.5 L546.0 65.5 L547.0 65.1 L547.7 64.1 L548.1 62.3 L548.1 61.2 L547.7 59.5 L547.0 58.4 L546.0 58.0 L545.3 58.0 M595.4 62.3 L602.4 62.3 M608.2 58.0 L604.7 58.0 L604.4 61.2 L604.7 60.9 L605.8 60.5 L606.8 60.5 L607.8 60.9 L608.5 61.6 L608.9 62.7 L608.9 63.4 L608.5 64.4 L607.8 65.1 L606.8 65.5 L605.8 65.5 L604.7 65.1 L604.4 64.8 L603.7 63.4 M613.0 58.0 L612.0 58.4 L611.3 59.5 L610.9 61.2 L610.9 62.3 L611.3 64.1 L612.0 65.1 L613.0 65.5 L613.7 65.5 L614.7 65.1 L615.4 64.1 L615.8 62.3 L615.8 61.2 L615.4 59.5 L614.7 58.4 L613.7 58.0 L613.0 58.0 M663.1 62.3 L670.1 62.3 M675.2 58.0 L671.7 63.0 L677.7 63.0 M675.2 58.0 L675.2 66.3 M680.7 58.0 L679.7 58.4 L679.0 59.5 L678.6 61.2 L678.6 62.3 L679.0 64.1 L679.7 65.1 L680.7 65.5 L681.4 65.5 L682.4 65.1 L683.1 64.1 L683.5 62.3 L683.5 61.2 L683.1 59.5 L682.4 58.4 L681.4 58.0 L680.7 58.0 M87.6 513.3 L94.6 513.3 M100.4 509.0 L96.9 509.0 L96.6 512.2 L96.9 511.9 L97.9 511.5 L99.0 511.5 L100.0 511.9 L100.7 512.6 L101.1 513.7 L101.1 514.4 L100.7 515.4 L100.0 516.1 L99.0 516.5 L97.9 516.5 L96.9 516.1 L96.6 515.8 L95.9 514.4 M105.2 509.0 L104.2 509.4 L103.5 510.5 L103.1 512.2 L103.1 513.3 L103.5 515.1 L104.2 516.1 L105.2 516.5 L105.9 516.5 L106.9 516.1 L107.6 515.1 L108.0 513.3 L108.0 512.2 L107.6 510.5 L106.9 509.4 L105.9 509.0 L105.2 509.0 M155.3 513.3 L162.3 513.3 M167.4 509.0 L163.9 514.0 L169.9 514.0 M167.4 509.0 L167.4 517.3 M172.9 509.0 L171.9 509.4 L171.2 510.5 L170.8 512.2 L170.8 513.3 L171.2 515.1 L171.9 516.1 L172.9 516.5 L173.6 516.5 L174.6 516.1 L175.3 515.1 L175.7 513.3 L175.7 512.2 L175.3 510.5 L174.6 509.4 L173.6 509.0 L172.9 509.0 M223.0 513.3 L230.0 513.3 M232.3 509.0 L236.1 509.0 L234.0 511.9 L235.1 511.9 L235.8 512.2 L236.1 512.6 L236.5 513.7 L236.5 514.4 L236.1 515.4 L235.4 516.1 L234.4 516.5 L233.3 516.5 L232.3 516.1 L232.0 515.8 L231.3 514.4 M240.6 509.0 L239.6 509.4 L238.9 510.5 L238.5 512.2 L238.5 513.3 L238.9 515.1 L239.6 516.1 L240.6 516.5 L241.3 516.5 L242.3 516.1 L243.0 515.1 L243.4 513.3 L243.4 512.2 L243.0 510.5 L242.3 509.4 L241.3 509.0 L240.6 509.0 M290.7 513.3 L297.7 513.3 M299.7 510.8 L299.7 510.5 L300.0 509.7 L300.4 509.4 L301.1 509.0 L302.4 509.0 L303.1 509.4 L303.5 509.7 L303.8 510.5 L303.8 511.2 L303.5 511.9 L302.8 512.9 L299.3 516.5 L305.0 516.5 M308.3 509.0 L307.3 509.4 L306.6 510.5 L306.2 512.2 L306.2 513.3 L306.6 515.1 L307.3 516.1 L308.3 516.5 L309.0 516.5 L310.0 516.1 L310.7 515.1 L311.1 513.3 L311.1 512.2 L310.7 510.5 L310.0 509.4 L309.0 509.0 L308.3 509.0 M358.4 513.3 L365.4 513.3 M368.1 510.5 L368.8 510.1 L369.8 509.0 L369.8 517.3 M376.0 509.0 L375.0 509.4 L374.3 510.5 L373.9 512.2 L373.9 513.3 L374.3 515.1 L375.0 516.1 L376.0 516.5 L376.7 516.5 L377.7 516.1 L378.4 515.1 L378.8 513.3 L378.8 512.2 L378.4 510.5 L377.7 509.4 L376.7 509.0 L376.0 509.0 M436.3 509.0 L435.2 509.4 L434.5 510.5 L434.2 512.2 L434.2 513.3 L434.5 515.1 L435.2 516.1 L436.3 516.5 L437.0 516.5 L438.0 516.1 L438.7 515.1 L439.0 513.3 L439.0 512.2 L438.7 510.5 L438.0 509.4 L437.0 509.0 L436.3 509.0 M499.3 510.5 L500.0 510.1 L501.0 509.0 L501.0 517.3 M507.2 509.0 L506.2 509.4 L505.5 510.5 L505.2 512.2 L505.2 513.3 L505.5 515.1 L506.2 516.1 L507.2 516.5 L507.9 516.5 L509.0 516.1 L509.7 515.1 L510.0 513.3 L510.0 512.2 L509.7 510.5 L509.0 509.4 L507.9 509.0 L507.2 509.0 M567.3 510.8 L567.3 510.5 L567.7 509.7 L568.0 509.4 L568.7 509.0 L570.1 509.0 L570.8 509.4 L571.1 509.7 L571.5 510.5 L571.5 511.2 L571.1 511.9 L570.5 512.9 L567.0 516.5 L572.6 516.5 M576.0 509.0 L574.9 509.4 L574.2 510.5 L573.9 512.2 L573.9 513.3 L574.2 515.1 L574.9 516.1 L576.0 516.5 L576.7 516.5 L577.7 516.1 L578.4 515.1 L578.7 513.3 L578.7 512.2 L578.4 510.5 L577.7 509.4 L576.7 509.0 L576.0 509.0 M635.4 509.0 L639.2 509.0 L637.1 511.9 L638.2 511.9 L638.8 512.2 L639.2 512.6 L639.5 513.7 L639.5 514.4 L639.2 515.4 L638.5 516.1 L637.5 516.5 L636.4 516.5 L635.4 516.1 L635.0 515.8 L634.4 514.4 M643.7 509.0 L642.6 509.4 L641.9 510.5 L641.6 512.2 L641.6 513.3 L641.9 515.1 L642.6 516.1 L643.7 516.5 L644.4 516.5 L645.4 516.1 L646.1 515.1 L646.4 513.3 L646.4 512.2 L646.1 510.5 L645.4 509.4 L644.4 509.0 L643.7 509.0 M680.1 509.0 L680.1 517.3 M677.7 509.0 L683.3 509.0 M686.7 507.6 L686.0 508.3 L685.3 509.4 L684.6 510.8 L684.3 512.6 L684.3 514.0 L684.6 515.8 L685.3 517.2 L686.0 518.3 L687.2 519.6 M693.9 510.8 L693.6 510.1 L692.9 509.4 L692.2 509.0 L690.8 509.0 L690.1 509.4 L689.4 510.1 L689.1 510.8 L688.7 511.9 L688.7 513.7 L689.1 514.7 L689.4 515.4 L690.1 516.1 L690.8 516.5 L692.2 516.5 L692.9 516.1 L693.6 515.4 L694.3 514.0 M696.0 507.6 L696.7 508.3 L697.4 509.4 L698.1 510.8 L698.4 512.6 L698.4 514.0 L698.1 515.8 L697.4 517.2 L696.7 518.3 L695.4 519.6 M122.1 103.4 L117.0 117.2 M122.1 103.4 L127.1 117.2 M119.1 112.1 L125.8 112.1 M129.8 107.7 L129.8 117.2 M129.8 110.2 L131.6 108.3 L132.7 107.7 L134.5 107.7 L135.7 108.3 L136.3 110.2 L136.3 117.2 M136.3 110.2 L138.1 108.3 L139.3 107.7 L141.1 107.7 L142.2 108.3 L142.8 110.2 L142.8 117.2 M147.6 103.4 L147.6 117.2 M147.6 109.6 L148.8 108.3 L150.0 107.7 L151.8 107.7 L152.9 108.3 L154.1 109.6 L154.7 111.4 L154.7 112.7 L154.1 114.5 L152.9 115.8 L151.8 116.4 L150.0 116.4 L148.8 115.8 L147.0 114.0 M158.0 103.5 L159.4 103.5 M158.9 107.7 L158.9 117.2 M163.0 111.4 L170.2 111.4 L170.2 110.2 L169.6 109.0 L169.0 108.3 L167.8 107.7 L166.0 107.7 L164.8 108.3 L163.6 109.6 L163.0 111.4 L163.0 112.7 L163.6 114.5 L164.8 115.8 L166.0 116.4 L167.8 116.4 L169.0 115.8 L170.7 114.0 M174.3 107.7 L174.3 117.2 M174.3 110.2 L176.1 108.3 L177.3 107.7 L179.1 107.7 L180.3 108.3 L180.9 110.2 L180.9 117.2 M186.2 103.4 L186.2 113.9 L186.8 115.8 L188.0 116.4 L190.0 116.4 M184.4 107.7 L189.4 107.7 M205.2 103.4 L200.2 117.2 M205.2 103.4 L210.2 117.2 M202.2 112.1 L209.0 112.1 M212.0 103.5 L213.4 103.5 M212.9 107.7 L212.9 117.2 M217.7 107.7 L217.7 117.2 M217.7 111.4 L218.3 109.6 L219.5 108.3 L220.7 107.7 L223.2 107.7 M237.3 103.4 L237.3 117.2 M233.1 103.4 L242.2 103.4 M243.8 111.4 L250.9 111.4 L250.9 110.2 L250.4 109.0 L249.8 108.3 L248.6 107.7 L246.8 107.7 L245.6 108.3 L244.4 109.6 L243.8 111.4 L243.8 112.7 L244.4 114.5 L245.6 115.8 L246.8 116.4 L248.6 116.4 L249.8 115.8 L251.5 114.0 M255.1 107.7 L255.1 117.2 M255.1 110.2 L256.9 108.3 L258.1 107.7 L259.9 107.7 L261.0 108.3 L261.6 110.2 L261.6 117.2 M261.6 110.2 L263.4 108.3 L264.6 107.7 L266.4 107.7 L267.6 108.3 L268.2 110.2 L268.2 117.2 M272.9 107.7 L272.9 121.5 M272.9 109.6 L274.1 108.3 L275.3 107.7 L277.1 107.7 L278.3 108.3 L279.5 109.6 L280.1 111.4 L280.1 112.7 L279.5 114.5 L278.3 115.8 L277.1 116.4 L275.3 116.4 L274.1 115.8 L272.4 114.0" stroke="#ff0000"/>
<path d="M119.1 124.6 L119.1 138.4 M119.1 124.6 L123.3 124.6 L125.0 125.2 L126.2 126.4 L126.8 127.7 L127.4 129.5 L127.4 132.6 L126.8 134.5 L126.2 135.7 L125.0 137.0 L123.3 137.6 L118.3 137.6 M131.0 132.6 L138.1 132.6 L138.1 131.4 L137.5 130.2 L136.9 129.5 L135.7 128.9 L133.9 128.9 L132.8 129.5 L131.6 130.8 L131.0 132.6 L131.0 133.9 L131.6 135.7 L132.8 137.0 L133.9 137.6 L135.7 137.6 L136.9 137.0 L138.7 135.2 M141.7 128.9 L144.3 138.4 M146.4 128.9 L143.8 138.4 M146.4 128.9 L149.0 138.4 M151.2 128.9 L148.6 138.4 M164.8 124.6 L164.8 138.4 M164.8 124.6 L170.2 124.6 L172.0 125.2 L172.6 125.8 L173.2 127.1 L173.2 128.9 L172.6 130.2 L172.0 130.8 L170.2 131.4 L164.0 131.4 M179.7 128.9 L178.5 129.5 L177.3 130.8 L176.7 132.6 L176.7 133.9 L177.3 135.7 L178.5 137.0 L179.7 137.6 L181.5 137.6 L182.7 137.0 L183.8 135.7 L184.4 133.9 L184.4 132.6 L183.8 130.8 L182.7 129.5 L181.5 128.9 L179.7 128.9 M188.0 124.5 L189.4 124.5 M188.6 128.9 L188.6 138.4 M193.3 128.9 L193.3 138.4 M193.3 131.4 L195.1 129.5 L196.3 128.9 L198.1 128.9 L199.3 129.5 L199.9 131.4 L199.9 138.4 M205.2 124.6 L205.2 135.1 L205.8 137.0 L207.0 137.6 L209.0 137.6 M203.4 128.9 L208.4 128.9 M223.6 124.6 L223.6 138.4 M219.5 124.6 L228.6 124.6 M230.2 132.6 L237.3 132.6 L237.3 131.4 L236.7 130.2 L236.1 129.5 L234.9 128.9 L233.1 128.9 L232.0 129.5 L230.8 130.8 L230.2 132.6 L230.2 133.9 L230.8 135.7 L232.0 137.0 L233.1 137.6 L234.9 137.6 L236.1 137.0 L237.9 135.2 M241.5 128.9 L241.5 138.4 M241.5 131.4 L243.2 129.5 L244.4 128.9 L246.2 128.9 L247.4 129.5 L248.0 131.4 L248.0 138.4 M248.0 131.4 L249.8 129.5 L251.0 128.9 L252.8 128.9 L253.9 129.5 L254.5 131.4 L254.5 138.4 M259.3 128.9 L259.3 142.7 M259.3 130.8 L260.5 129.5 L261.7 128.9 L263.4 128.9 L264.6 129.5 L265.8 130.8 L266.4 132.6 L266.4 133.9 L265.8 135.7 L264.6 137.0 L263.4 137.6 L261.7 137.6 L260.5 137.0 L258.7 135.2" stroke="#0000ff"/>
<path d="M122.1 146.3 L117.0 160.1 M122.1 146.3 L127.1 160.1 M119.1 155.0 L125.8 155.0 M129.0 146.5 L130.4 146.5 M129.8 150.6 L129.8 160.1 M134.5 150.6 L134.5 160.1 M134.5 154.3 L135.1 152.5 L136.3 151.2 L137.5 150.6 L140.1 150.6 M151.8 146.3 L151.8 160.1 M151.8 146.3 L157.1 146.3 L158.9 146.9 L159.5 147.5 L160.1 148.8 L160.1 150.6 L159.5 151.9 L158.9 152.5 L157.1 153.1 L151.0 153.1 M170.8 150.6 L170.8 160.1 M170.8 152.5 L169.6 151.2 L168.4 150.6 L166.6 150.6 L165.4 151.2 L164.2 152.5 L163.6 154.3 L163.6 155.6 L164.2 157.4 L165.4 158.7 L166.6 159.3 L168.4 159.3 L169.6 158.7 L171.3 156.9 M175.5 150.6 L175.5 160.1 M175.5 154.3 L176.1 152.5 L177.3 151.2 L178.5 150.6 L181.1 150.6 M189.8 152.5 L188.6 151.2 L187.4 150.6 L185.6 150.6 L184.4 151.2 L183.2 152.5 L182.6 154.3 L182.6 155.6 L183.2 157.4 L184.4 158.7 L185.6 159.3 L187.4 159.3 L188.6 158.7 L190.3 156.9 M193.3 154.3 L200.5 154.3 L200.5 153.1 L199.9 151.9 L199.3 151.2 L198.1 150.6 L196.3 150.6 L195.1 151.2 L193.9 152.5 L193.3 154.3 L193.3 155.6 L193.9 157.4 L195.1 158.7 L196.3 159.3 L198.1 159.3 L199.3 158.7 L201.0 156.9 M204.6 146.3 L204.6 160.1 M221.2 146.3 L221.2 160.1 M217.1 146.3 L226.2 146.3 M227.8 154.3 L234.9 154.3 L234.9 153.1 L234.3 151.9 L233.7 151.2 L232.5 150.6 L230.8 150.6 L229.6 151.2 L228.4 152.5 L227.8 154.3 L227.8 155.6 L228.4 157.4 L229.6 158.7 L230.8 159.3 L232.5 159.3 L233.7 158.7 L235.5 156.9 M239.1 150.6 L239.1 160.1 M239.1 153.1 L240.9 151.2 L242.0 150.6 L243.8 150.6 L245.0 151.2 L245.6 153.1 L245.6 160.1 M245.6 153.1 L247.4 151.2 L248.6 150.6 L250.4 150.6 L251.5 151.2 L252.1 153.1 L252.1 160.1 M256.9 150.6 L256.9 164.4 M256.9 152.5 L258.1 151.2 L259.3 150.6 L261.0 150.6 L262.2 151.2 L263.4 152.5 L264.0 154.3 L264.0 155.6 L263.4 157.4 L262.2 158.7 L261.0 159.3 L259.3 159.3 L258.1 158.7 L256.3 156.9 M136.1 523.6 L135.6 524.5 L135.9 525.8 L136.9 527.3 L137.7 528.0 L139.2 529.0 L140.4 529.3 L141.4 528.8 L141.9 528.3 L142.4 527.4 L142.1 526.1 L141.1 524.6 L140.3 523.9 L138.8 522.9 L137.6 522.6 L136.6 523.1 L136.1 523.6 M144.0 524.5 L145.2 524.5 M143.7 518.0 L143.9 517.2 L143.9 515.7 L149.8 521.6 M182.7 524.7 L182.2 525.7 L182.5 526.9 L183.5 528.4 L184.2 529.2 L185.7 530.2 L187.0 530.4 L188.0 530.0 L188.4 529.5 L188.9 528.5 L188.7 527.3 L187.6 525.8 L186.9 525.0 L185.4 524.0 L184.2 523.7 L183.2 524.2 L182.7 524.7 M191.0 525.5 L192.2 525.5 M190.0 519.8 L189.8 519.6 L189.5 518.8 L189.5 518.4 L189.8 517.6 L190.7 516.6 L191.5 516.4 L192.0 516.4 L192.7 516.7 L193.2 517.2 L193.5 517.9 L193.7 519.2 L193.8 524.1 L197.8 520.1 M247.8 524.6 L247.3 525.6 L247.6 526.8 L248.6 528.3 L249.3 529.1 L250.8 530.1 L252.1 530.3 L253.1 529.9 L253.5 529.4 L254.0 528.4 L253.8 527.2 L252.7 525.7 L252.0 524.9 L250.5 523.9 L249.3 523.6 L248.3 524.1 L247.8 524.6 M256.0 525.5 L257.2 525.5 M256.6 515.8 L254.1 518.2 L256.1 520.8 L256.1 520.3 L256.6 519.3 L257.3 518.5 L258.3 518.1 L259.3 518.1 L260.3 518.6 L260.8 519.1 L261.3 520.1 L261.3 521.1 L260.9 522.1 L260.1 522.8 L259.1 523.3 L258.7 523.3 L257.2 522.7 M305.7 522.2 L305.9 521.5 L305.9 520.0 L311.7 525.8 M334.6 526.0 L334.8 525.3 L334.8 523.8 L340.6 529.6 M343.0 525.5 L344.2 525.5 M343.1 515.5 L340.7 517.9 L342.7 520.4 L342.7 519.9 L343.1 518.9 L343.9 518.2 L344.9 517.7 L345.9 517.7 L346.9 518.3 L347.4 518.8 L347.9 519.8 L347.9 520.7 L347.4 521.7 L346.7 522.5 L345.7 522.9 L345.2 522.9 L343.7 522.4 M363.1 523.3 L362.8 523.1 L362.6 522.3 L362.6 521.8 L362.8 521.1 L363.8 520.1 L364.5 519.9 L365.0 519.9 L365.8 520.1 L366.3 520.6 L366.5 521.4 L366.8 522.6 L366.9 527.6 L370.8 523.6 M397.5 521.5 L400.1 518.8 L400.7 522.3 L401.4 521.6 L402.2 521.3 L402.7 521.3 L403.7 521.8 L404.2 522.3 L404.7 523.3 L404.7 524.3 L404.2 525.3 L403.5 526.0 L402.5 526.5 L402.0 526.5 L400.5 526.0 M425.9 519.7 L427.0 525.6 L431.2 521.4 M425.9 519.7 L431.7 525.5 M465.2 520.2 L464.4 519.9 L463.5 520.4 L463.0 520.9 L462.5 521.9 L462.7 523.1 L463.8 524.6 L465.0 525.9 L466.3 526.6 L467.3 526.7 L468.2 526.2 L468.5 525.9 L469.0 525.0 L468.9 524.0 L468.4 523.0 L468.2 522.7 L467.2 522.2 L466.2 522.2 L465.2 522.7 L465.0 522.9 L464.5 523.9 L464.5 524.9 L465.4 526.6 M490.8 520.8 L490.3 521.8 L490.6 522.5 L491.1 523.0 L491.8 523.3 L492.6 523.0 L493.8 522.3 L494.8 521.8 L495.8 521.8 L496.5 522.1 L497.3 522.8 L497.5 523.6 L497.5 524.1 L497.0 525.1 L496.1 526.0 L495.1 526.5 L494.6 526.5 L493.8 526.3 L493.1 525.5 L492.8 524.8 L492.8 523.8 L493.3 522.8 L494.0 521.6 L494.3 520.8 L494.0 520.1 L493.5 519.6 L492.8 519.3 L491.8 519.8 L490.8 520.8 M511.2 525.1 L511.4 524.3 L511.4 522.8 L517.3 528.7 M515.8 518.5 L515.3 519.4 L515.6 520.7 L516.6 522.2 L517.4 522.9 L518.9 523.9 L520.1 524.2 L521.1 523.7 L521.6 523.2 L522.1 522.3 L521.8 521.0 L520.8 519.5 L520.0 518.8 L518.5 517.8 L517.3 517.5 L516.3 518.0 L515.8 518.5 M530.1 525.1 L530.3 524.3 L530.3 522.8 L536.2 528.7 M534.8 520.9 L534.5 520.7 L534.2 519.9 L534.2 519.4 L534.5 518.7 L535.4 517.7 L536.2 517.5 L536.7 517.5 L537.4 517.8 L537.9 518.3 L538.2 519.0 L538.5 520.2 L538.5 525.2 L542.5 521.2 M552.9 525.1 L553.1 524.3 L553.1 522.8 L559.0 528.7 M559.0 517.0 L556.5 519.4 L558.6 521.9 L558.5 521.4 L559.0 520.5 L559.8 519.7 L560.7 519.2 L561.7 519.3 L562.7 519.8 L563.2 520.3 L563.7 521.3 L563.8 522.3 L563.3 523.2 L562.5 524.0 L561.6 524.5 L561.1 524.4 L559.6 523.9 M583.3 526.4 L583.1 526.2 L582.8 525.4 L582.8 525.0 L583.1 524.2 L584.0 523.2 L584.8 523.0 L585.3 523.0 L586.0 523.3 L586.5 523.8 L586.8 524.5 L587.0 525.8 L587.1 530.7 L591.1 526.7 M588.2 519.1 L587.7 520.1 L588.0 521.3 L589.0 522.8 L589.7 523.6 L591.2 524.6 L592.5 524.8 L593.5 524.4 L593.9 523.9 L594.4 522.9 L594.2 521.7 L593.1 520.2 L592.4 519.4 L590.9 518.4 L589.7 518.1 L588.7 518.6 L588.2 519.1 M608.6 526.4 L608.4 526.2 L608.1 525.4 L608.1 525.0 L608.4 524.2 L609.3 523.2 L610.1 523.0 L610.6 523.0 L611.3 523.3 L611.8 523.8 L612.1 524.5 L612.3 525.8 L612.4 530.7 L616.4 526.7 M614.9 517.6 L612.5 520.1 L614.5 522.6 L614.5 522.1 L615.0 521.1 L615.7 520.4 L616.7 519.9 L617.7 519.9 L618.7 520.4 L619.2 520.9 L619.7 521.9 L619.7 522.9 L619.2 523.9 L618.5 524.6 L617.5 525.1 L617.0 525.1 L615.5 524.6 M627.8 524.9 L630.5 522.3 L631.1 525.7 L631.8 525.0 L632.5 524.8 L633.0 524.8 L634.0 525.3 L634.5 525.8 L635.0 526.8 L635.0 527.8 L634.6 528.8 L633.8 529.5 L632.9 530.0 L632.4 530.0 L630.9 529.4 M633.7 519.1 L633.2 520.1 L633.5 521.3 L634.5 522.8 L635.2 523.6 L636.7 524.6 L638.0 524.8 L639.0 524.4 L639.4 523.9 L639.9 522.9 L639.7 521.7 L638.6 520.2 L637.9 519.4 L636.4 518.4 L635.2 518.1 L634.2 518.6 L633.7 519.1 M664.0 522.0 L665.1 527.9 L669.3 523.7 M664.0 522.0 L669.8 527.8 M667.9 518.1 L667.4 519.1 L667.7 520.3 L668.7 521.8 L669.4 522.6 L670.9 523.6 L672.2 523.8 L673.2 523.4 L673.6 522.9 L674.1 521.9 L673.9 520.7 L672.8 519.2 L672.1 518.4 L670.6 517.4 L669.4 517.1 L668.4 517.6 L667.9 518.1 M662.8 520.8 L664.4 526.6 M665.6 520.8 L664.0 526.6 M665.6 520.8 L667.2 526.6 M668.3 520.8 L666.7 526.6 M674.2 521.9 L673.8 521.2 L672.8 520.8 L671.8 520.8 L670.7 521.2 L670.4 521.9 L670.7 522.6 L671.4 523.0 L673.1 523.3 L673.8 523.7 L674.2 524.4 L674.2 524.7 L673.8 525.4 L672.8 525.8 L671.8 525.8 L670.7 525.4 L670.0 524.0 M677.7 517.0 L677.0 517.7 L676.3 518.8 L675.6 520.2 L675.3 522.0 L675.3 523.4 L675.6 525.2 L676.3 526.6 L677.0 527.7 L678.3 529.0 M683.9 520.9 L683.9 526.6 L683.6 527.7 L683.2 528.0 L682.5 528.4 L681.5 528.4 L680.1 527.7 M683.9 522.0 L683.2 521.3 L682.5 520.9 L681.5 520.9 L680.8 521.3 L680.1 522.0 L679.8 523.1 L679.8 523.8 L680.1 524.8 L680.8 525.5 L681.5 525.9 L682.5 525.9 L683.2 525.5 L684.5 524.3 M692.2 517.0 L685.6 529.1 M694.3 518.4 L694.3 526.7 M697.7 520.9 L693.7 525.1 M695.7 523.1 L698.6 526.5 M703.9 520.9 L703.9 526.6 L703.6 527.7 L703.2 528.0 L702.6 528.4 L701.5 528.4 L700.1 527.7 M703.9 522.0 L703.2 521.3 L702.6 520.9 L701.5 520.9 L700.8 521.3 L700.1 522.0 L699.8 523.1 L699.8 523.8 L700.1 524.8 L700.8 525.5 L701.5 525.9 L702.6 525.9 L703.2 525.5 L704.5 524.3 M706.3 517.0 L707.0 517.7 L707.7 518.8 L708.4 520.2 L708.8 522.0 L708.8 523.4 L708.4 525.2 L707.7 526.6 L707.0 527.7 L705.8 529.0" stroke="#4b0082"/>
</g>
</svg>
</body></html>
